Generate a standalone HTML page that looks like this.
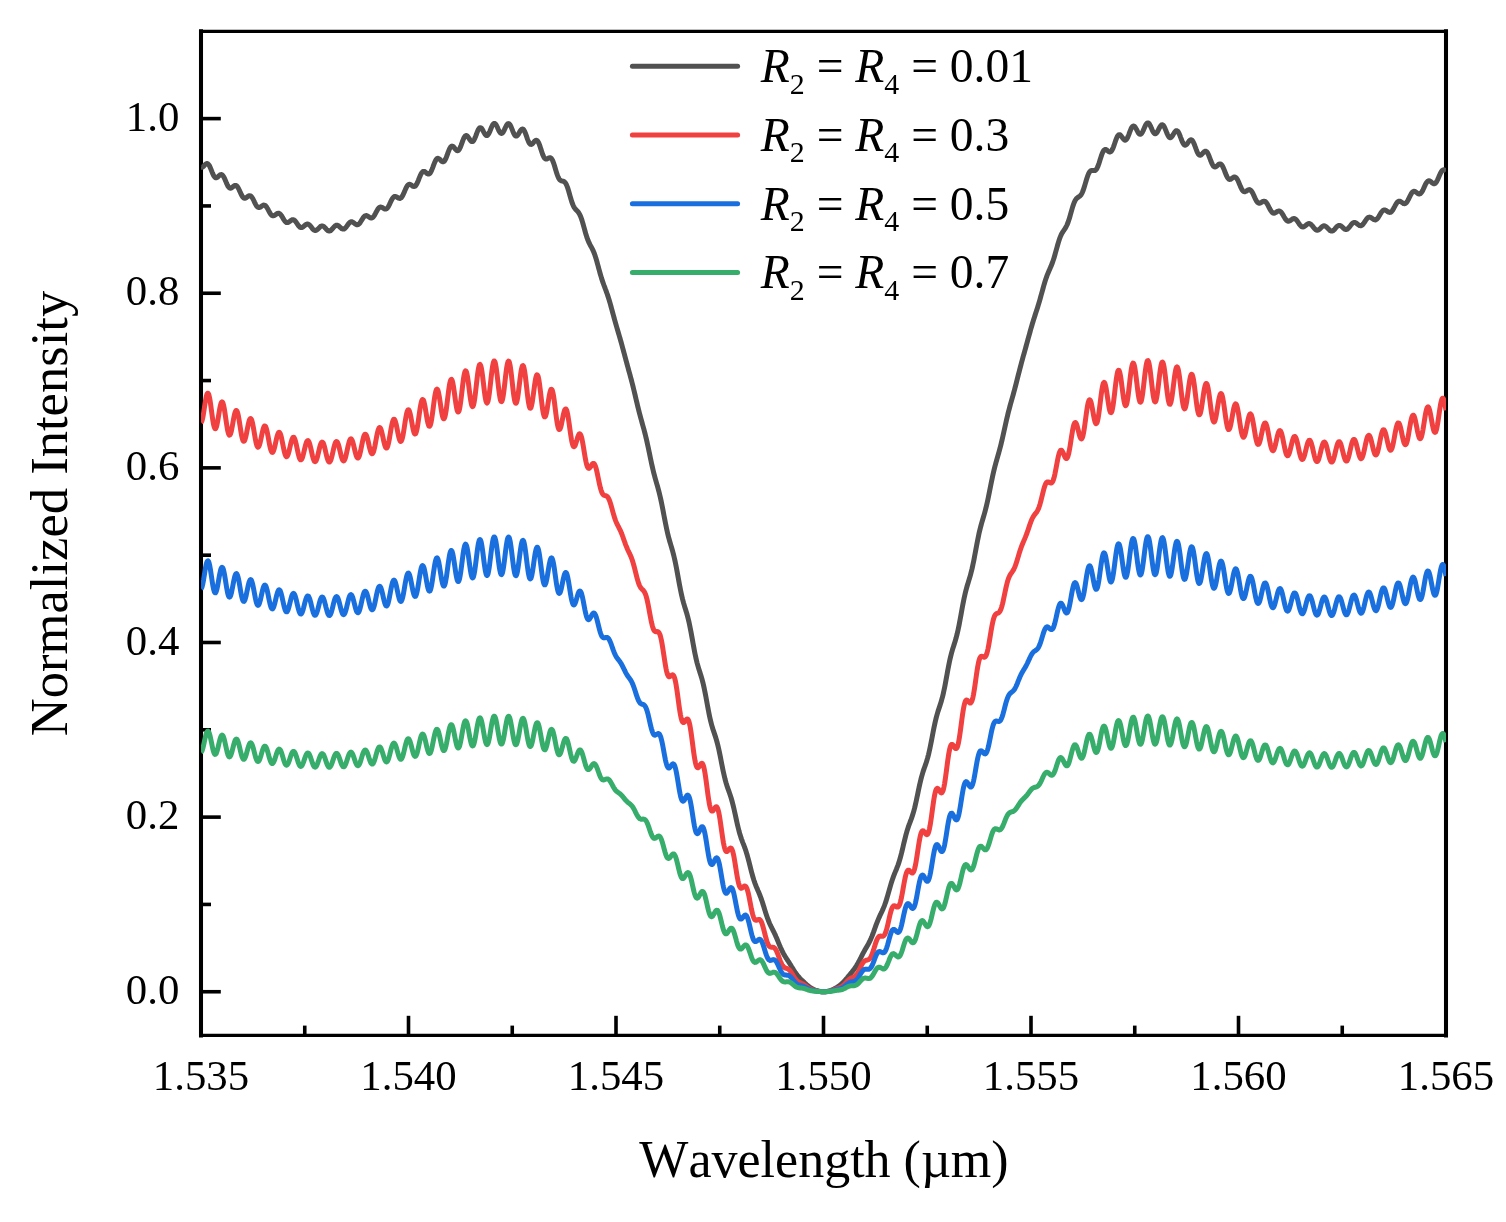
<!DOCTYPE html>
<html><head><meta charset="utf-8"><title>Normalized Intensity vs Wavelength</title>
<style>
html,body{margin:0;padding:0;background:#fff;}
body{width:1506px;height:1222px;overflow:hidden;}
svg{display:block;}
text{font-family:"Liberation Serif","Times New Roman",serif;fill:#000;font-kerning:none;}
</style></head><body>
<svg width="1506" height="1222" viewBox="0 0 1506 1222">
<rect width="1506" height="1222" fill="#fff"/>
<defs><clipPath id="cp"><rect x="201.0" y="31.3" width="1245.0" height="1004.1000000000001"/></clipPath></defs>
<g stroke="#000" stroke-width="3.6">
<line x1="201.00" y1="1035.4" x2="201.00" y2="1015.8"/>
<line x1="408.50" y1="1035.4" x2="408.50" y2="1015.8"/>
<line x1="616.00" y1="1035.4" x2="616.00" y2="1015.8"/>
<line x1="823.50" y1="1035.4" x2="823.50" y2="1015.8"/>
<line x1="1031.00" y1="1035.4" x2="1031.00" y2="1015.8"/>
<line x1="1238.50" y1="1035.4" x2="1238.50" y2="1015.8"/>
<line x1="1446.00" y1="1035.4" x2="1446.00" y2="1015.8"/>
<line x1="304.75" y1="1035.4" x2="304.75" y2="1025.6"/>
<line x1="512.25" y1="1035.4" x2="512.25" y2="1025.6"/>
<line x1="719.75" y1="1035.4" x2="719.75" y2="1025.6"/>
<line x1="927.25" y1="1035.4" x2="927.25" y2="1025.6"/>
<line x1="1134.75" y1="1035.4" x2="1134.75" y2="1025.6"/>
<line x1="1342.25" y1="1035.4" x2="1342.25" y2="1025.6"/>
</g>
<g stroke="#000" stroke-width="3.6">
<line x1="201.0" y1="991.74" x2="220.8" y2="991.74"/>
<line x1="201.0" y1="817.12" x2="220.8" y2="817.12"/>
<line x1="201.0" y1="642.49" x2="220.8" y2="642.49"/>
<line x1="201.0" y1="467.87" x2="220.8" y2="467.87"/>
<line x1="201.0" y1="293.24" x2="220.8" y2="293.24"/>
<line x1="201.0" y1="118.61" x2="220.8" y2="118.61"/>
<line x1="201.0" y1="904.43" x2="211.0" y2="904.43"/>
<line x1="201.0" y1="729.80" x2="211.0" y2="729.80"/>
<line x1="201.0" y1="555.18" x2="211.0" y2="555.18"/>
<line x1="201.0" y1="380.55" x2="211.0" y2="380.55"/>
<line x1="201.0" y1="205.93" x2="211.0" y2="205.93"/>
</g>
<g stroke="#000" stroke-linecap="square">
<line x1="201.0" y1="31.3" x2="201.0" y2="1035.4" stroke-width="4.05"/>
<line x1="1446.0" y1="31.3" x2="1446.0" y2="1035.4" stroke-width="4.05"/>
<line x1="201.0" y1="31.3" x2="1446.0" y2="31.3" stroke-width="3.2"/>
<line x1="201.0" y1="1035.4" x2="1446.0" y2="1035.4" stroke-width="3.2"/>
</g>
<g clip-path="url(#cp)">
<path d="M201.0,167.1 201.5,167.3 202.0,167.3 202.5,167.1 203.0,166.8 203.5,166.4 204.0,165.8 204.5,165.3 205.0,164.8 205.5,164.3 206.0,163.9 206.5,163.6 207.0,163.5 207.5,163.6 208.0,163.9 208.5,164.4 209.0,165.1 209.5,165.9 210.0,167.0 210.5,168.1 211.0,169.3 211.5,170.6 212.0,171.9 212.5,173.1 213.0,174.2 213.5,175.3 214.0,176.1 214.5,176.8 215.0,177.3 215.5,177.7 216.0,177.8 216.5,177.7 217.0,177.5 217.5,177.2 218.0,176.8 218.5,176.3 219.0,175.8 219.5,175.4 220.0,175.0 220.5,174.7 221.0,174.6 221.5,174.6 222.0,174.8 222.5,175.2 223.0,175.7 223.5,176.5 224.0,177.4 224.5,178.4 225.0,179.5 225.5,180.7 226.0,181.9 226.5,183.1 227.0,184.2 227.5,185.3 228.0,186.2 228.5,186.9 229.0,187.5 229.5,187.9 230.0,188.1 230.5,188.2 231.0,188.1 231.5,187.9 232.0,187.5 232.5,187.1 233.0,186.7 233.5,186.3 234.0,185.9 234.5,185.6 235.0,185.4 235.5,185.4 236.0,185.5 236.5,185.8 237.0,186.2 237.5,186.8 238.0,187.6 238.5,188.5 239.0,189.5 239.5,190.6 240.0,191.7 240.5,192.9 241.0,193.9 241.5,195.0 242.0,195.9 242.5,196.7 243.0,197.3 243.5,197.8 244.0,198.1 244.5,198.2 245.0,198.2 245.5,198.1 246.0,197.8 246.5,197.5 247.0,197.1 247.5,196.7 248.0,196.3 248.5,196.0 249.0,195.8 249.5,195.7 250.0,195.7 250.5,195.9 251.0,196.2 251.5,196.7 252.0,197.4 252.5,198.1 253.0,199.0 253.5,200.0 254.0,201.0 254.5,202.1 255.0,203.1 255.5,204.1 256.0,205.0 256.5,205.8 257.0,206.4 257.5,206.9 258.0,207.3 258.5,207.5 259.0,207.6 259.5,207.5 260.0,207.3 260.5,207.0 261.0,206.7 261.5,206.3 262.0,205.9 262.5,205.6 263.0,205.3 263.5,205.1 264.0,205.1 264.5,205.2 265.0,205.4 265.5,205.7 266.0,206.3 266.5,206.9 267.0,207.7 267.5,208.5 268.0,209.4 268.5,210.4 269.0,211.3 269.5,212.2 270.0,213.1 270.5,213.9 271.0,214.5 271.5,215.1 272.0,215.5 272.5,215.7 273.0,215.8 273.5,215.8 274.0,215.6 274.5,215.4 275.0,215.1 275.5,214.7 276.0,214.3 276.5,214.0 277.0,213.6 277.5,213.4 278.0,213.2 278.5,213.2 279.0,213.3 279.5,213.6 280.0,213.9 280.5,214.4 281.0,215.0 281.5,215.8 282.0,216.5 282.5,217.4 283.0,218.2 283.5,219.1 284.0,219.9 284.5,220.6 285.0,221.3 285.5,221.8 286.0,222.2 286.5,222.5 287.0,222.6 287.5,222.6 288.0,222.5 288.5,222.3 289.0,221.9 289.5,221.6 290.0,221.2 290.5,220.8 291.0,220.4 291.5,220.1 292.0,219.8 292.5,219.7 293.0,219.7 293.5,219.8 294.0,220.0 294.5,220.3 295.0,220.8 295.5,221.4 296.0,222.0 296.5,222.7 297.0,223.5 297.5,224.2 298.0,225.0 298.5,225.7 299.0,226.3 299.5,226.8 300.0,227.2 300.5,227.4 301.0,227.6 301.5,227.6 302.0,227.5 302.5,227.3 303.0,226.9 303.5,226.6 304.0,226.1 304.5,225.7 305.0,225.2 305.5,224.8 306.0,224.5 306.5,224.2 307.0,224.0 307.5,224.0 308.0,224.1 308.5,224.3 309.0,224.6 309.5,225.0 310.0,225.5 310.5,226.1 311.0,226.7 311.5,227.4 312.0,228.0 312.5,228.7 313.0,229.2 313.5,229.7 314.0,230.1 314.5,230.3 315.0,230.5 315.5,230.5 316.0,230.4 316.5,230.1 317.0,229.8 317.5,229.4 318.0,228.9 318.5,228.4 319.0,227.9 319.5,227.4 320.0,226.9 320.5,226.5 321.0,226.2 321.5,226.0 322.0,225.9 322.5,226.0 323.0,226.1 323.5,226.4 324.0,226.7 324.5,227.2 325.0,227.7 325.5,228.3 326.0,228.8 326.5,229.4 327.0,229.9 327.5,230.3 328.0,230.7 328.5,230.9 329.0,231.0 329.5,231.0 330.0,230.9 330.5,230.7 331.0,230.3 331.5,229.8 332.0,229.3 332.5,228.7 333.0,228.1 333.5,227.5 334.0,226.9 334.5,226.4 335.0,225.9 335.5,225.6 336.0,225.3 336.5,225.2 337.0,225.2 337.5,225.3 338.0,225.5 338.5,225.8 339.0,226.2 339.5,226.7 340.0,227.2 340.5,227.6 341.0,228.1 341.5,228.5 342.0,228.8 342.5,229.0 343.0,229.1 343.5,229.1 344.0,229.0 344.5,228.7 345.0,228.3 345.5,227.8 346.0,227.3 346.5,226.6 347.0,225.9 347.5,225.2 348.0,224.5 348.5,223.8 349.0,223.2 349.5,222.7 350.0,222.3 350.5,222.0 351.0,221.8 351.5,221.7 352.0,221.8 352.5,222.0 353.0,222.2 353.5,222.6 354.0,223.0 354.5,223.4 355.0,223.8 355.5,224.1 356.0,224.4 356.5,224.7 357.0,224.8 357.5,224.8 358.0,224.6 358.5,224.3 359.0,223.9 359.5,223.4 360.0,222.8 360.5,222.0 361.0,221.2 361.5,220.4 362.0,219.6 362.5,218.8 363.0,218.0 363.5,217.3 364.0,216.7 364.5,216.2 365.0,215.9 365.5,215.7 366.0,215.6 366.5,215.6 367.0,215.8 367.5,216.0 368.0,216.3 368.5,216.7 369.0,217.0 369.5,217.4 370.0,217.7 370.5,217.9 371.0,218.0 371.5,218.0 372.0,217.9 372.5,217.6 373.0,217.2 373.5,216.6 374.0,216.0 374.5,215.2 375.0,214.3 375.5,213.4 376.0,212.4 376.5,211.5 377.0,210.6 377.5,209.7 378.0,208.9 378.5,208.3 379.0,207.8 379.5,207.4 380.0,207.1 380.5,207.0 381.0,207.1 381.5,207.2 382.0,207.4 382.5,207.7 383.0,208.0 383.5,208.4 384.0,208.7 384.5,208.9 385.0,209.1 385.5,209.1 386.0,209.0 386.5,208.8 387.0,208.4 387.5,207.8 388.0,207.1 388.5,206.3 389.0,205.4 389.5,204.4 390.0,203.3 390.5,202.2 391.0,201.2 391.5,200.2 392.0,199.2 392.5,198.4 393.0,197.7 393.5,197.2 394.0,196.8 394.5,196.5 395.0,196.4 395.5,196.5 396.0,196.6 396.5,196.9 397.0,197.2 397.5,197.5 398.0,197.8 398.5,198.1 399.0,198.3 399.5,198.4 400.0,198.4 400.5,198.2 401.0,197.9 401.5,197.4 402.0,196.7 402.5,195.9 403.0,194.9 403.5,193.9 404.0,192.7 404.5,191.6 405.0,190.4 405.5,189.2 406.0,188.1 406.5,187.1 407.0,186.2 407.5,185.5 408.0,185.0 408.5,184.6 409.0,184.4 409.5,184.3 410.0,184.4 410.5,184.6 411.0,184.9 411.5,185.2 412.0,185.6 412.5,186.0 413.0,186.3 413.5,186.4 414.0,186.5 414.5,186.4 415.0,186.2 415.5,185.8 416.0,185.2 416.5,184.4 417.0,183.5 417.5,182.4 418.0,181.2 418.5,180.0 419.0,178.7 419.5,177.4 420.0,176.2 420.5,175.0 421.0,174.0 421.5,173.1 422.0,172.4 422.5,171.9 423.0,171.5 423.5,171.4 424.0,171.4 424.5,171.5 425.0,171.8 425.5,172.2 426.0,172.6 426.5,173.1 427.0,173.5 427.5,173.8 428.0,174.0 428.5,174.1 429.0,173.9 429.5,173.7 430.0,173.2 430.5,172.5 431.0,171.6 431.5,170.6 432.0,169.4 432.5,168.1 433.0,166.8 433.5,165.4 434.0,164.1 434.5,162.8 435.0,161.7 435.5,160.6 436.0,159.8 436.5,159.1 437.0,158.6 437.5,158.4 438.0,158.3 438.5,158.5 439.0,158.7 439.5,159.1 440.0,159.6 440.5,160.1 441.0,160.7 441.5,161.1 442.0,161.5 442.5,161.7 443.0,161.8 443.5,161.7 444.0,161.4 444.5,160.9 445.0,160.1 445.5,159.2 446.0,158.1 446.5,156.8 447.0,155.5 447.5,154.1 448.0,152.7 448.5,151.4 449.0,150.1 449.5,148.9 450.0,148.0 450.5,147.2 451.0,146.6 451.5,146.2 452.0,146.1 452.5,146.2 453.0,146.4 453.5,146.8 454.0,147.4 454.5,148.0 455.0,148.7 455.5,149.3 456.0,149.8 456.5,150.3 457.0,150.6 457.5,150.7 458.0,150.6 458.5,150.3 459.0,149.7 459.5,149.0 460.0,148.0 460.5,146.9 461.0,145.6 461.5,144.2 462.0,142.8 462.5,141.5 463.0,140.1 463.5,138.9 464.0,137.8 464.5,136.9 465.0,136.2 465.5,135.8 466.0,135.6 466.5,135.6 467.0,135.8 467.5,136.3 468.0,136.9 468.5,137.6 469.0,138.3 469.5,139.1 470.0,139.9 470.5,140.6 471.0,141.1 471.5,141.5 472.0,141.6 472.5,141.6 473.0,141.3 473.5,140.7 474.0,140.0 474.5,139.0 475.0,137.9 475.5,136.7 476.0,135.3 476.5,134.0 477.0,132.6 477.5,131.4 478.0,130.2 478.5,129.3 479.0,128.5 479.5,128.0 480.0,127.7 480.5,127.7 481.0,127.9 481.5,128.3 482.0,129.0 482.5,129.7 483.0,130.6 483.5,131.6 484.0,132.5 484.5,133.4 485.0,134.2 485.5,134.9 486.0,135.3 486.5,135.6 487.0,135.6 487.5,135.3 488.0,134.8 488.5,134.1 489.0,133.2 489.5,132.2 490.0,131.0 490.5,129.7 491.0,128.5 491.5,127.3 492.0,126.1 492.5,125.2 493.0,124.4 493.5,123.8 494.0,123.5 494.5,123.4 495.0,123.6 495.5,124.0 496.0,124.6 496.5,125.5 497.0,126.5 497.5,127.5 498.0,128.7 498.5,129.8 499.0,130.8 499.5,131.7 500.0,132.5 500.5,133.0 501.0,133.4 501.5,133.5 502.0,133.3 502.5,132.9 503.0,132.3 503.5,131.5 504.0,130.6 504.5,129.5 505.0,128.4 505.5,127.3 506.0,126.3 506.5,125.3 507.0,124.6 507.5,124.0 508.0,123.7 508.5,123.6 509.0,123.7 509.5,124.1 510.0,124.8 510.5,125.7 511.0,126.7 511.5,127.9 512.0,129.1 512.5,130.4 513.0,131.7 513.5,132.9 514.0,133.9 514.5,134.8 515.0,135.5 515.5,135.9 516.0,136.1 516.5,136.1 517.0,135.8 517.5,135.4 518.0,134.7 518.5,134.0 519.0,133.1 519.5,132.2 520.0,131.3 520.5,130.5 521.0,129.9 521.5,129.4 522.0,129.1 522.5,129.0 523.0,129.1 523.5,129.6 524.0,130.2 524.5,131.1 525.0,132.2 525.5,133.4 526.0,134.8 526.5,136.2 527.0,137.7 527.5,139.1 528.0,140.4 528.5,141.6 529.0,142.6 529.5,143.4 530.0,144.0 530.5,144.3 531.0,144.4 531.5,144.4 532.0,144.1 532.5,143.7 533.0,143.1 533.5,142.5 534.0,141.9 534.5,141.3 535.0,140.8 535.5,140.5 536.0,140.3 536.5,140.3 537.0,140.5 537.5,140.9 538.0,141.6 538.5,142.5 539.0,143.6 539.5,144.9 540.0,146.3 540.5,147.9 541.0,149.4 541.5,151.0 542.0,152.5 542.5,154.0 543.0,155.3 543.5,156.4 544.0,157.3 544.5,158.1 545.0,158.6 545.5,158.9 546.0,159.1 546.5,159.1 547.0,158.9 547.5,158.7 548.0,158.4 548.5,158.1 549.0,157.9 549.5,157.7 550.0,157.7 550.5,157.8 551.0,158.1 551.5,158.7 552.0,159.4 552.5,160.3 553.0,161.5 553.5,162.8 554.0,164.3 554.5,165.8 555.0,167.5 555.5,169.2 556.0,170.9 556.5,172.5 557.0,174.0 557.5,175.4 558.0,176.7 558.5,177.8 559.0,178.7 559.5,179.5 560.0,180.0 560.5,180.4 561.0,180.7 561.5,180.9 562.0,181.0 562.5,181.1 563.0,181.2 563.5,181.3 564.0,181.5 564.5,181.9 565.0,182.4 565.5,183.0 566.0,183.9 566.5,184.9 567.0,186.1 567.5,187.4 568.0,188.9 568.5,190.5 569.0,192.2 569.5,194.0 570.0,195.8 570.5,197.5 571.0,199.2 571.5,200.9 572.0,202.4 572.5,203.8 573.0,205.0 573.5,206.1 574.0,207.1 574.5,207.9 575.0,208.6 575.5,209.2 576.0,209.8 576.5,210.3 577.0,210.8 577.5,211.3 578.0,211.8 578.5,212.5 579.0,213.2 579.5,214.1 580.0,215.1 580.5,216.2 581.0,217.5 581.5,218.9 582.0,220.4 582.5,222.1 583.0,223.8 583.5,225.6 584.0,227.4 584.5,229.2 585.0,231.0 585.5,232.8 586.0,234.5 586.5,236.1 587.0,237.6 587.5,239.0 588.0,240.3 588.5,241.5 589.0,242.7 589.5,243.7 590.0,244.7 590.5,245.6 591.0,246.5 591.5,247.4 592.0,248.3 592.5,249.3 593.0,250.4 593.5,251.5 594.0,252.7 594.5,254.0 595.0,255.4 595.5,257.0 596.0,258.6 596.5,260.2 597.0,262.0 597.5,263.8 598.0,265.6 598.5,267.5 599.0,269.3 599.5,271.2 600.0,273.0 600.5,274.7 601.0,276.4 601.5,278.1 602.0,279.6 602.5,281.1 603.0,282.6 603.5,284.0 604.0,285.4 604.5,286.7 605.0,288.0 605.5,289.4 606.0,290.7 606.5,292.1 607.0,293.5 607.5,294.9 608.0,296.4 608.5,298.0 609.0,299.6 609.5,301.2 610.0,302.9 610.5,304.7 611.0,306.5 611.5,308.3 612.0,310.1 612.5,312.0 613.0,313.9 613.5,315.7 614.0,317.5 614.5,319.3 615.0,321.1 615.5,322.9 616.0,324.7 616.5,326.4 617.0,328.1 617.5,329.8 618.0,331.5 618.5,333.2 619.0,334.9 619.5,336.6 620.0,338.3 620.5,340.1 621.0,341.8 621.5,343.6 622.0,345.4 622.5,347.3 623.0,349.1 623.5,351.0 624.0,352.8 624.5,354.7 625.0,356.6 625.5,358.4 626.0,360.3 626.5,362.2 627.0,364.0 627.5,365.8 628.0,367.6 628.5,369.5 629.0,371.3 629.5,373.1 630.0,374.9 630.5,376.8 631.0,378.6 631.5,380.5 632.0,382.5 632.5,384.4 633.0,386.4 633.5,388.5 634.0,390.5 634.5,392.6 635.0,394.7 635.5,396.8 636.0,399.0 636.5,401.1 637.0,403.2 637.5,405.3 638.0,407.4 638.5,409.4 639.0,411.4 639.5,413.3 640.0,415.2 640.5,417.1 641.0,418.9 641.5,420.7 642.0,422.5 642.5,424.3 643.0,426.1 643.5,427.9 644.0,429.7 644.5,431.6 645.0,433.5 645.5,435.5 646.0,437.6 646.5,439.7 647.0,441.9 647.5,444.2 648.0,446.5 648.5,448.8 649.0,451.2 649.5,453.6 650.0,456.1 650.5,458.5 651.0,460.8 651.5,463.2 652.0,465.4 652.5,467.6 653.0,469.8 653.5,471.8 654.0,473.8 654.5,475.7 655.0,477.6 655.5,479.4 656.0,481.1 656.5,482.9 657.0,484.6 657.5,486.3 658.0,488.1 658.5,490.0 659.0,491.9 659.5,493.9 660.0,496.0 660.5,498.1 661.0,500.4 661.5,502.8 662.0,505.2 662.5,507.8 663.0,510.3 663.5,513.0 664.0,515.6 664.5,518.2 665.0,520.8 665.5,523.4 666.0,525.8 666.5,528.2 667.0,530.5 667.5,532.7 668.0,534.8 668.5,536.8 669.0,538.7 669.5,540.5 670.0,542.2 670.5,543.9 671.0,545.6 671.5,547.3 672.0,549.0 672.5,550.7 673.0,552.6 673.5,554.5 674.0,556.5 674.5,558.7 675.0,560.9 675.5,563.3 676.0,565.8 676.5,568.3 677.0,571.0 677.5,573.7 678.0,576.5 678.5,579.2 679.0,582.0 679.5,584.7 680.0,587.3 680.5,589.9 681.0,592.3 681.5,594.6 682.0,596.8 682.5,598.9 683.0,600.8 683.5,602.7 684.0,604.4 684.5,606.1 685.0,607.7 685.5,609.3 686.0,611.0 686.5,612.6 687.0,614.3 687.5,616.1 688.0,618.0 688.5,620.1 689.0,622.2 689.5,624.5 690.0,626.9 690.5,629.4 691.0,632.0 691.5,634.7 692.0,637.5 692.5,640.3 693.0,643.1 693.5,645.8 694.0,648.5 694.5,651.2 695.0,653.7 695.5,656.1 696.0,658.4 696.5,660.5 697.0,662.6 697.5,664.4 698.0,666.2 698.5,667.9 699.0,669.5 699.5,671.1 700.0,672.6 700.5,674.2 701.0,675.8 701.5,677.4 702.0,679.2 702.5,681.1 703.0,683.0 703.5,685.1 704.0,687.4 704.5,689.7 705.0,692.2 705.5,694.8 706.0,697.4 706.5,700.1 707.0,702.9 707.5,705.6 708.0,708.3 708.5,710.9 709.0,713.4 709.5,715.9 710.0,718.2 710.5,720.4 711.0,722.4 711.5,724.3 712.0,726.1 712.5,727.8 713.0,729.4 713.5,730.9 714.0,732.4 714.5,733.9 715.0,735.4 715.5,736.9 716.0,738.5 716.5,740.2 717.0,742.0 717.5,743.9 718.0,745.9 718.5,748.0 719.0,750.3 719.5,752.6 720.0,755.0 720.5,757.5 721.0,760.1 721.5,762.7 722.0,765.2 722.5,767.7 723.0,770.2 723.5,772.5 724.0,774.8 724.5,776.9 725.0,779.0 725.5,780.9 726.0,782.7 726.5,784.3 727.0,785.9 727.5,787.4 728.0,788.8 728.5,790.2 729.0,791.6 729.5,793.0 730.0,794.5 730.5,796.0 731.0,797.5 731.5,799.2 732.0,801.0 732.5,802.8 733.0,804.8 733.5,806.9 734.0,809.0 734.5,811.2 735.0,813.5 735.5,815.8 736.0,818.1 736.5,820.4 737.0,822.7 737.5,824.9 738.0,827.0 738.5,829.0 739.0,831.0 739.5,832.8 740.0,834.5 740.5,836.1 741.0,837.6 741.5,839.1 742.0,840.4 742.5,841.8 743.0,843.1 743.5,844.3 744.0,845.6 744.5,847.0 745.0,848.3 745.5,849.8 746.0,851.3 746.5,852.9 747.0,854.5 747.5,856.3 748.0,858.1 748.5,860.0 749.0,861.9 749.5,863.9 750.0,865.9 750.5,867.9 751.0,869.8 751.5,871.8 752.0,873.7 752.5,875.5 753.0,877.2 753.5,878.9 754.0,880.5 754.5,881.9 755.0,883.4 755.5,884.7 756.0,886.0 756.5,887.2 757.0,888.4 757.5,889.5 758.0,890.7 758.5,891.8 759.0,893.0 759.5,894.2 760.0,895.5 760.5,896.8 761.0,898.1 761.5,899.6 762.0,901.0 762.5,902.6 763.0,904.1 763.5,905.7 764.0,907.3 764.5,908.9 765.0,910.6 765.5,912.2 766.0,913.7 766.5,915.2 767.0,916.7 767.5,918.1 768.0,919.5 768.5,920.8 769.0,922.0 769.5,923.2 770.0,924.3 770.5,925.3 771.0,926.4 771.5,927.4 772.0,928.4 772.5,929.3 773.0,930.3 773.5,931.3 774.0,932.3 774.5,933.4 775.0,934.4 775.5,935.5 776.0,936.7 776.5,937.8 777.0,939.0 777.5,940.2 778.0,941.4 778.5,942.7 779.0,943.9 779.5,945.1 780.0,946.3 780.5,947.5 781.0,948.6 781.5,949.7 782.0,950.7 782.5,951.8 783.0,952.7 783.5,953.7 784.0,954.6 784.5,955.4 785.0,956.2 785.5,957.0 786.0,957.8 786.5,958.6 787.0,959.3 787.5,960.1 788.0,960.9 788.5,961.6 789.0,962.4 789.5,963.2 790.0,964.0 790.5,964.8 791.0,965.6 791.5,966.5 792.0,967.3 792.5,968.1 793.0,968.9 793.5,969.7 794.0,970.5 794.5,971.3 795.0,972.1 795.5,972.8 796.0,973.5 796.5,974.2 797.0,974.9 797.5,975.5 798.0,976.1 798.5,976.7 799.0,977.3 799.5,977.8 800.0,978.4 800.5,978.9 801.0,979.4 801.5,979.9 802.0,980.4 802.5,980.8 803.0,981.3 803.5,981.8 804.0,982.3 804.5,982.7 805.0,983.2 805.5,983.7 806.0,984.1 806.5,984.6 807.0,985.0 807.5,985.4 808.0,985.8 808.5,986.2 809.0,986.6 809.5,987.0 810.0,987.3 810.5,987.7 811.0,988.0 811.5,988.3 812.0,988.6 812.5,988.8 813.0,989.1 813.5,989.3 814.0,989.6 814.5,989.8 815.0,990.0 815.5,990.2 816.0,990.4 816.5,990.5 817.0,990.7 817.5,990.8 818.0,991.0 818.5,991.1 819.0,991.2 819.5,991.3 820.0,991.4 820.5,991.5 821.0,991.6 821.5,991.6 822.0,991.7 822.5,991.7 823.0,991.7 823.5,991.7 824.0,991.7 824.5,991.7 825.0,991.7 825.5,991.6 826.0,991.6 826.5,991.5 827.0,991.4 827.5,991.4 828.0,991.3 828.5,991.1 829.0,991.0 829.5,990.9 830.0,990.7 830.5,990.5 831.0,990.4 831.5,990.2 832.0,989.9 832.5,989.7 833.0,989.5 833.5,989.2 834.0,989.0 834.5,988.7 835.0,988.4 835.5,988.2 836.0,987.9 836.5,987.6 837.0,987.3 837.5,986.9 838.0,986.6 838.5,986.3 839.0,985.9 839.5,985.6 840.0,985.2 840.5,984.8 841.0,984.4 841.5,983.9 842.0,983.5 842.5,983.0 843.0,982.5 843.5,982.0 844.0,981.5 844.5,981.0 845.0,980.4 845.5,979.8 846.0,979.3 846.5,978.7 847.0,978.1 847.5,977.5 848.0,976.8 848.5,976.2 849.0,975.6 849.5,975.0 850.0,974.4 850.5,973.8 851.0,973.2 851.5,972.6 852.0,972.0 852.5,971.3 853.0,970.7 853.5,970.1 854.0,969.4 854.5,968.7 855.0,968.0 855.5,967.3 856.0,966.5 856.5,965.7 857.0,964.9 857.5,964.0 858.0,963.1 858.5,962.2 859.0,961.3 859.5,960.3 860.0,959.3 860.5,958.3 861.0,957.4 861.5,956.4 862.0,955.4 862.5,954.4 863.0,953.4 863.5,952.5 864.0,951.6 864.5,950.7 865.0,949.8 865.5,948.9 866.0,948.1 866.5,947.2 867.0,946.4 867.5,945.5 868.0,944.6 868.5,943.7 869.0,942.7 869.5,941.8 870.0,940.7 870.5,939.6 871.0,938.5 871.5,937.3 872.0,936.1 872.5,934.8 873.0,933.5 873.5,932.2 874.0,930.8 874.5,929.4 875.0,928.0 875.5,926.6 876.0,925.2 876.5,923.9 877.0,922.6 877.5,921.3 878.0,920.1 878.5,918.9 879.0,917.7 879.5,916.6 880.0,915.5 880.5,914.4 881.0,913.4 881.5,912.3 882.0,911.3 882.5,910.2 883.0,909.1 883.5,907.9 884.0,906.7 884.5,905.4 885.0,904.0 885.5,902.6 886.0,901.1 886.5,899.5 887.0,897.8 887.5,896.1 888.0,894.4 888.5,892.6 889.0,890.9 889.5,889.1 890.0,887.3 890.5,885.6 891.0,883.9 891.5,882.3 892.0,880.7 892.5,879.2 893.0,877.8 893.5,876.4 894.0,875.1 894.5,873.8 895.0,872.6 895.5,871.4 896.0,870.2 896.5,869.0 897.0,867.7 897.5,866.4 898.0,865.1 898.5,863.6 899.0,862.1 899.5,860.5 900.0,858.8 900.5,857.0 901.0,855.1 901.5,853.2 902.0,851.1 902.5,849.1 903.0,847.0 903.5,844.8 904.0,842.7 904.5,840.6 905.0,838.6 905.5,836.6 906.0,834.7 906.5,832.9 907.0,831.1 907.5,829.5 908.0,827.9 908.5,826.4 909.0,825.0 909.5,823.7 910.0,822.3 910.5,821.0 911.0,819.7 911.5,818.3 912.0,816.9 912.5,815.4 913.0,813.8 913.5,812.1 914.0,810.3 914.5,808.4 915.0,806.3 915.5,804.2 916.0,802.0 916.5,799.7 917.0,797.3 917.5,794.9 918.0,792.5 918.5,790.1 919.0,787.7 919.5,785.4 920.0,783.2 920.5,781.1 921.0,779.0 921.5,777.1 922.0,775.3 922.5,773.6 923.0,771.9 923.5,770.4 924.0,768.9 924.5,767.5 925.0,766.1 925.5,764.7 926.0,763.2 926.5,761.7 927.0,760.1 927.5,758.4 928.0,756.5 928.5,754.6 929.0,752.5 929.5,750.3 930.0,748.0 930.5,745.6 931.0,743.1 931.5,740.5 932.0,737.9 932.5,735.3 933.0,732.6 933.5,730.1 934.0,727.6 934.5,725.2 935.0,722.9 935.5,720.7 936.0,718.6 936.5,716.6 937.0,714.8 937.5,713.1 938.0,711.4 938.5,709.9 939.0,708.4 939.5,706.9 940.0,705.4 940.5,703.8 941.0,702.2 941.5,700.5 942.0,698.7 942.5,696.8 943.0,694.8 943.5,692.6 944.0,690.3 944.5,687.9 945.0,685.4 945.5,682.7 946.0,680.0 946.5,677.3 947.0,674.6 947.5,671.8 948.0,669.1 948.5,666.5 949.0,664.0 949.5,661.6 950.0,659.3 950.5,657.1 951.0,655.1 951.5,653.2 952.0,651.4 952.5,649.6 953.0,648.0 953.5,646.4 954.0,644.9 954.5,643.3 955.0,641.7 955.5,640.0 956.0,638.3 956.5,636.4 957.0,634.5 957.5,632.4 958.0,630.2 958.5,627.8 959.0,625.4 959.5,622.8 960.0,620.1 960.5,617.4 961.0,614.7 961.5,611.9 962.0,609.1 962.5,606.4 963.0,603.8 963.5,601.2 964.0,598.8 964.5,596.5 965.0,594.2 965.5,592.1 966.0,590.2 966.5,588.3 967.0,586.5 967.5,584.8 968.0,583.2 968.5,581.6 969.0,579.9 969.5,578.3 970.0,576.6 970.5,574.8 971.0,572.9 971.5,570.9 972.0,568.9 972.5,566.6 973.0,564.3 973.5,561.9 974.0,559.4 974.5,556.8 975.0,554.1 975.5,551.5 976.0,548.8 976.5,546.1 977.0,543.5 977.5,540.9 978.0,538.4 978.5,536.0 979.0,533.6 979.5,531.4 980.0,529.4 980.5,527.4 981.0,525.5 981.5,523.7 982.0,521.9 982.5,520.2 983.0,518.5 983.5,516.8 984.0,515.1 984.5,513.4 985.0,511.6 985.5,509.7 986.0,507.7 986.5,505.7 987.0,503.5 987.5,501.3 988.0,499.0 988.5,496.6 989.0,494.1 989.5,491.6 990.0,489.1 990.5,486.6 991.0,484.1 991.5,481.6 992.0,479.2 992.5,476.8 993.0,474.5 993.5,472.3 994.0,470.2 994.5,468.1 995.0,466.2 995.5,464.3 996.0,462.4 996.5,460.7 997.0,458.9 997.5,457.2 998.0,455.4 998.5,453.7 999.0,451.9 999.5,450.1 1000.0,448.2 1000.5,446.3 1001.0,444.3 1001.5,442.2 1002.0,440.1 1002.5,438.0 1003.0,435.8 1003.5,433.5 1004.0,431.3 1004.5,429.0 1005.0,426.7 1005.5,424.5 1006.0,422.2 1006.5,420.0 1007.0,417.9 1007.5,415.8 1008.0,413.7 1008.5,411.7 1009.0,409.8 1009.5,407.9 1010.0,406.0 1010.5,404.2 1011.0,402.4 1011.5,400.6 1012.0,398.8 1012.5,397.1 1013.0,395.3 1013.5,393.5 1014.0,391.6 1014.5,389.8 1015.0,387.9 1015.5,386.0 1016.0,384.1 1016.5,382.1 1017.0,380.2 1017.5,378.2 1018.0,376.2 1018.5,374.2 1019.0,372.3 1019.5,370.3 1020.0,368.4 1020.5,366.5 1021.0,364.6 1021.5,362.7 1022.0,360.9 1022.5,359.1 1023.0,357.2 1023.5,355.4 1024.0,353.7 1024.5,351.9 1025.0,350.1 1025.5,348.3 1026.0,346.5 1026.5,344.7 1027.0,342.9 1027.5,341.1 1028.0,339.2 1028.5,337.4 1029.0,335.6 1029.5,333.8 1030.0,332.0 1030.5,330.2 1031.0,328.4 1031.5,326.7 1032.0,325.0 1032.5,323.3 1033.0,321.7 1033.5,320.1 1034.0,318.5 1034.5,316.9 1035.0,315.4 1035.5,313.8 1036.0,312.3 1036.5,310.8 1037.0,309.2 1037.5,307.7 1038.0,306.1 1038.5,304.4 1039.0,302.8 1039.5,301.1 1040.0,299.3 1040.5,297.5 1041.0,295.7 1041.5,293.9 1042.0,292.1 1042.5,290.3 1043.0,288.5 1043.5,286.7 1044.0,284.9 1044.5,283.2 1045.0,281.6 1045.5,280.0 1046.0,278.5 1046.5,277.1 1047.0,275.7 1047.5,274.4 1048.0,273.2 1048.5,272.0 1049.0,270.9 1049.5,269.7 1050.0,268.6 1050.5,267.4 1051.0,266.3 1051.5,265.0 1052.0,263.8 1052.5,262.4 1053.0,261.0 1053.5,259.5 1054.0,257.9 1054.5,256.2 1055.0,254.5 1055.5,252.7 1056.0,250.9 1056.5,249.1 1057.0,247.3 1057.5,245.5 1058.0,243.8 1058.5,242.1 1059.0,240.5 1059.5,239.0 1060.0,237.6 1060.5,236.4 1061.0,235.2 1061.5,234.2 1062.0,233.2 1062.5,232.4 1063.0,231.6 1063.5,230.9 1064.0,230.1 1064.5,229.4 1065.0,228.7 1065.5,227.9 1066.0,227.0 1066.5,226.0 1067.0,225.0 1067.5,223.8 1068.0,222.5 1068.5,221.0 1069.0,219.5 1069.5,217.9 1070.0,216.2 1070.5,214.4 1071.0,212.6 1071.5,210.8 1072.0,209.1 1072.5,207.4 1073.0,205.8 1073.5,204.4 1074.0,203.0 1074.5,201.8 1075.0,200.8 1075.5,199.9 1076.0,199.2 1076.5,198.6 1077.0,198.1 1077.5,197.7 1078.0,197.3 1078.5,197.0 1079.0,196.7 1079.5,196.4 1080.0,196.0 1080.5,195.4 1081.0,194.8 1081.5,194.0 1082.0,193.1 1082.5,192.0 1083.0,190.8 1083.5,189.4 1084.0,187.9 1084.5,186.3 1085.0,184.6 1085.5,182.9 1086.0,181.2 1086.5,179.6 1087.0,178.0 1087.5,176.5 1088.0,175.1 1088.5,173.9 1089.0,172.9 1089.5,172.0 1090.0,171.4 1090.5,170.9 1091.0,170.6 1091.5,170.5 1092.0,170.4 1092.5,170.4 1093.0,170.5 1093.5,170.6 1094.0,170.6 1094.5,170.6 1095.0,170.5 1095.5,170.2 1096.0,169.7 1096.5,169.1 1097.0,168.3 1097.5,167.2 1098.0,166.1 1098.5,164.7 1099.0,163.3 1099.5,161.7 1100.0,160.1 1100.5,158.5 1101.0,156.9 1101.5,155.4 1102.0,154.0 1102.5,152.8 1103.0,151.7 1103.5,150.8 1104.0,150.2 1104.5,149.7 1105.0,149.5 1105.5,149.4 1106.0,149.6 1106.5,149.8 1107.0,150.2 1107.5,150.6 1108.0,151.1 1108.5,151.4 1109.0,151.8 1109.5,152.0 1110.0,152.0 1110.5,151.9 1111.0,151.5 1111.5,151.0 1112.0,150.2 1112.5,149.2 1113.0,148.1 1113.5,146.8 1114.0,145.4 1114.5,144.0 1115.0,142.5 1115.5,141.0 1116.0,139.6 1116.5,138.3 1117.0,137.2 1117.5,136.2 1118.0,135.5 1118.5,135.0 1119.0,134.7 1119.5,134.7 1120.0,134.8 1120.5,135.2 1121.0,135.7 1121.5,136.4 1122.0,137.1 1122.5,137.8 1123.0,138.5 1123.5,139.1 1124.0,139.6 1124.5,140.0 1125.0,140.2 1125.5,140.1 1126.0,139.8 1126.5,139.3 1127.0,138.6 1127.5,137.7 1128.0,136.6 1128.5,135.4 1129.0,134.1 1129.5,132.7 1130.0,131.4 1130.5,130.1 1131.0,128.9 1131.5,127.9 1132.0,127.1 1132.5,126.5 1133.0,126.1 1133.5,126.0 1134.0,126.1 1134.5,126.4 1135.0,127.0 1135.5,127.7 1136.0,128.5 1136.5,129.5 1137.0,130.4 1137.5,131.4 1138.0,132.3 1138.5,133.1 1139.0,133.7 1139.5,134.1 1140.0,134.3 1140.5,134.3 1141.0,134.1 1141.5,133.6 1142.0,132.9 1142.5,132.0 1143.0,131.0 1143.5,129.9 1144.0,128.7 1144.5,127.5 1145.0,126.4 1145.5,125.3 1146.0,124.4 1146.5,123.7 1147.0,123.2 1147.5,122.9 1148.0,122.9 1148.5,123.1 1149.0,123.6 1149.5,124.2 1150.0,125.1 1150.5,126.1 1151.0,127.2 1151.5,128.3 1152.0,129.5 1152.5,130.6 1153.0,131.6 1153.5,132.4 1154.0,133.1 1154.5,133.6 1155.0,133.8 1155.5,133.8 1156.0,133.6 1156.5,133.1 1157.0,132.5 1157.5,131.7 1158.0,130.7 1158.5,129.7 1159.0,128.7 1159.5,127.7 1160.0,126.8 1160.5,126.0 1161.0,125.4 1161.5,124.9 1162.0,124.7 1162.5,124.8 1163.0,125.1 1163.5,125.6 1164.0,126.3 1164.5,127.3 1165.0,128.4 1165.5,129.6 1166.0,130.8 1166.5,132.1 1167.0,133.4 1167.5,134.5 1168.0,135.5 1168.5,136.4 1169.0,137.1 1169.5,137.5 1170.0,137.7 1170.5,137.7 1171.0,137.5 1171.5,137.0 1172.0,136.4 1172.5,135.7 1173.0,134.9 1173.5,134.0 1174.0,133.2 1174.5,132.4 1175.0,131.7 1175.5,131.2 1176.0,130.8 1176.5,130.7 1177.0,130.8 1177.5,131.1 1178.0,131.6 1178.5,132.4 1179.0,133.4 1179.5,134.5 1180.0,135.7 1180.5,137.1 1181.0,138.4 1181.5,139.8 1182.0,141.0 1182.5,142.2 1183.0,143.2 1183.5,144.0 1184.0,144.6 1184.5,145.0 1185.0,145.2 1185.5,145.2 1186.0,144.9 1186.5,144.5 1187.0,144.0 1187.5,143.3 1188.0,142.6 1188.5,141.9 1189.0,141.2 1189.5,140.6 1190.0,140.2 1190.5,139.9 1191.0,139.8 1191.5,139.9 1192.0,140.2 1192.5,140.8 1193.0,141.5 1193.5,142.5 1194.0,143.6 1194.5,144.8 1195.0,146.2 1195.5,147.5 1196.0,148.9 1196.5,150.2 1197.0,151.5 1197.5,152.6 1198.0,153.5 1198.5,154.3 1199.0,154.8 1199.5,155.1 1200.0,155.3 1200.5,155.2 1201.0,155.0 1201.5,154.6 1202.0,154.1 1202.5,153.5 1203.0,153.0 1203.5,152.4 1204.0,151.9 1204.5,151.5 1205.0,151.3 1205.5,151.2 1206.0,151.3 1206.5,151.6 1207.0,152.1 1207.5,152.8 1208.0,153.7 1208.5,154.8 1209.0,156.0 1209.5,157.3 1210.0,158.6 1210.5,160.0 1211.0,161.3 1211.5,162.5 1212.0,163.7 1212.5,164.7 1213.0,165.5 1213.5,166.2 1214.0,166.6 1214.5,166.9 1215.0,167.0 1215.5,166.9 1216.0,166.6 1216.5,166.3 1217.0,165.9 1217.5,165.4 1218.0,164.9 1218.5,164.5 1219.0,164.2 1219.5,163.9 1220.0,163.9 1220.5,163.9 1221.0,164.2 1221.5,164.7 1222.0,165.3 1222.5,166.1 1223.0,167.1 1223.5,168.2 1224.0,169.4 1224.5,170.7 1225.0,172.0 1225.5,173.3 1226.0,174.5 1226.5,175.7 1227.0,176.7 1227.5,177.6 1228.0,178.3 1228.5,178.8 1229.0,179.2 1229.5,179.4 1230.0,179.4 1230.5,179.3 1231.0,179.0 1231.5,178.7 1232.0,178.3 1232.5,177.9 1233.0,177.6 1233.5,177.3 1234.0,177.0 1234.5,177.0 1235.0,177.0 1235.5,177.2 1236.0,177.6 1236.5,178.2 1237.0,178.9 1237.5,179.7 1238.0,180.7 1238.5,181.8 1239.0,183.0 1239.5,184.2 1240.0,185.4 1240.5,186.6 1241.0,187.7 1241.5,188.7 1242.0,189.6 1242.5,190.4 1243.0,191.0 1243.5,191.4 1244.0,191.6 1244.5,191.7 1245.0,191.7 1245.5,191.5 1246.0,191.3 1246.5,191.0 1247.0,190.6 1247.5,190.3 1248.0,190.0 1248.5,189.8 1249.0,189.7 1249.5,189.6 1250.0,189.8 1250.5,190.1 1251.0,190.5 1251.5,191.1 1252.0,191.9 1252.5,192.7 1253.0,193.7 1253.5,194.8 1254.0,195.9 1254.5,197.0 1255.0,198.1 1255.5,199.1 1256.0,200.1 1256.5,201.0 1257.0,201.7 1257.5,202.3 1258.0,202.7 1258.5,203.0 1259.0,203.2 1259.5,203.2 1260.0,203.1 1260.5,202.9 1261.0,202.6 1261.5,202.3 1262.0,202.0 1262.5,201.7 1263.0,201.4 1263.5,201.2 1264.0,201.2 1264.5,201.2 1265.0,201.4 1265.5,201.7 1266.0,202.2 1266.5,202.8 1267.0,203.6 1267.5,204.4 1268.0,205.3 1268.5,206.3 1269.0,207.3 1269.5,208.3 1270.0,209.2 1270.5,210.1 1271.0,210.9 1271.5,211.6 1272.0,212.2 1272.5,212.7 1273.0,213.0 1273.5,213.1 1274.0,213.2 1274.5,213.1 1275.0,212.9 1275.5,212.6 1276.0,212.3 1276.5,212.0 1277.0,211.7 1277.5,211.4 1278.0,211.2 1278.5,211.0 1279.0,211.0 1279.5,211.0 1280.0,211.2 1280.5,211.6 1281.0,212.0 1281.5,212.6 1282.0,213.3 1282.5,214.1 1283.0,214.9 1283.5,215.8 1284.0,216.7 1284.5,217.5 1285.0,218.3 1285.5,219.1 1286.0,219.7 1286.5,220.3 1287.0,220.7 1287.5,221.0 1288.0,221.2 1288.5,221.2 1289.0,221.1 1289.5,220.9 1290.0,220.7 1290.5,220.3 1291.0,220.0 1291.5,219.6 1292.0,219.3 1292.5,219.0 1293.0,218.7 1293.5,218.6 1294.0,218.5 1294.5,218.6 1295.0,218.8 1295.5,219.1 1296.0,219.5 1296.5,220.1 1297.0,220.7 1297.5,221.4 1298.0,222.1 1298.5,222.9 1299.0,223.6 1299.5,224.4 1300.0,225.0 1300.5,225.6 1301.0,226.1 1301.5,226.5 1302.0,226.8 1302.5,226.9 1303.0,227.0 1303.5,226.9 1304.0,226.7 1304.5,226.4 1305.0,226.0 1305.5,225.6 1306.0,225.2 1306.5,224.8 1307.0,224.4 1307.5,224.0 1308.0,223.8 1308.5,223.6 1309.0,223.5 1309.5,223.6 1310.0,223.8 1310.5,224.0 1311.0,224.4 1311.5,224.9 1312.0,225.4 1312.5,226.1 1313.0,226.7 1313.5,227.4 1314.0,228.0 1314.5,228.6 1315.0,229.1 1315.5,229.6 1316.0,229.9 1316.5,230.1 1317.0,230.3 1317.5,230.3 1318.0,230.1 1318.5,229.9 1319.0,229.6 1319.5,229.2 1320.0,228.7 1320.5,228.2 1321.0,227.7 1321.5,227.3 1322.0,226.8 1322.5,226.4 1323.0,226.1 1323.5,225.9 1324.0,225.8 1324.5,225.9 1325.0,226.0 1325.5,226.2 1326.0,226.6 1326.5,227.0 1327.0,227.5 1327.5,228.0 1328.0,228.6 1328.5,229.1 1329.0,229.6 1329.5,230.1 1330.0,230.5 1330.5,230.8 1331.0,231.0 1331.5,231.1 1332.0,231.1 1332.5,230.9 1333.0,230.7 1333.5,230.3 1334.0,229.9 1334.5,229.4 1335.0,228.8 1335.5,228.2 1336.0,227.6 1336.5,227.1 1337.0,226.6 1337.5,226.1 1338.0,225.8 1338.5,225.6 1339.0,225.4 1339.5,225.4 1340.0,225.5 1340.5,225.7 1341.0,226.0 1341.5,226.4 1342.0,226.8 1342.5,227.3 1343.0,227.8 1343.5,228.2 1344.0,228.6 1344.5,229.0 1345.0,229.3 1345.5,229.5 1346.0,229.5 1346.5,229.5 1347.0,229.3 1347.5,229.0 1348.0,228.6 1348.5,228.1 1349.0,227.6 1349.5,226.9 1350.0,226.3 1350.5,225.6 1351.0,224.9 1351.5,224.3 1352.0,223.8 1352.5,223.3 1353.0,222.9 1353.5,222.6 1354.0,222.5 1354.5,222.4 1355.0,222.5 1355.5,222.7 1356.0,222.9 1356.5,223.3 1357.0,223.7 1357.5,224.1 1358.0,224.5 1358.5,224.9 1359.0,225.2 1359.5,225.5 1360.0,225.6 1360.5,225.7 1361.0,225.7 1361.5,225.5 1362.0,225.2 1362.5,224.8 1363.0,224.2 1363.5,223.6 1364.0,222.9 1364.5,222.2 1365.0,221.4 1365.5,220.6 1366.0,219.9 1366.5,219.2 1367.0,218.6 1367.5,218.1 1368.0,217.6 1368.5,217.4 1369.0,217.2 1369.5,217.1 1370.0,217.2 1370.5,217.4 1371.0,217.6 1371.5,217.9 1372.0,218.3 1372.5,218.7 1373.0,219.0 1373.5,219.4 1374.0,219.6 1374.5,219.8 1375.0,219.9 1375.5,219.9 1376.0,219.7 1376.5,219.4 1377.0,219.0 1377.5,218.4 1378.0,217.8 1378.5,217.0 1379.0,216.2 1379.5,215.4 1380.0,214.5 1380.5,213.6 1381.0,212.8 1381.5,212.1 1382.0,211.4 1382.5,210.9 1383.0,210.4 1383.5,210.1 1384.0,210.0 1384.5,209.9 1385.0,210.0 1385.5,210.2 1386.0,210.4 1386.5,210.8 1387.0,211.1 1387.5,211.5 1388.0,211.8 1388.5,212.1 1389.0,212.3 1389.5,212.4 1390.0,212.4 1390.5,212.3 1391.0,212.0 1391.5,211.6 1392.0,211.0 1392.5,210.4 1393.0,209.6 1393.5,208.7 1394.0,207.8 1394.5,206.9 1395.0,205.9 1395.5,205.0 1396.0,204.1 1396.5,203.3 1397.0,202.6 1397.5,202.1 1398.0,201.6 1398.5,201.3 1399.0,201.2 1399.5,201.2 1400.0,201.3 1400.5,201.5 1401.0,201.8 1401.5,202.1 1402.0,202.5 1402.5,202.9 1403.0,203.2 1403.5,203.5 1404.0,203.6 1404.5,203.7 1405.0,203.6 1405.5,203.4 1406.0,203.0 1406.5,202.5 1407.0,201.8 1407.5,201.0 1408.0,200.1 1408.5,199.2 1409.0,198.1 1409.5,197.1 1410.0,196.1 1410.5,195.1 1411.0,194.2 1411.5,193.3 1412.0,192.6 1412.5,192.1 1413.0,191.7 1413.5,191.4 1414.0,191.3 1414.5,191.4 1415.0,191.5 1415.5,191.8 1416.0,192.1 1416.5,192.5 1417.0,192.9 1417.5,193.3 1418.0,193.6 1418.5,193.9 1419.0,194.0 1419.5,194.0 1420.0,193.8 1420.5,193.5 1421.0,193.0 1421.5,192.4 1422.0,191.7 1422.5,190.8 1423.0,189.8 1423.5,188.7 1424.0,187.6 1424.5,186.5 1425.0,185.4 1425.5,184.3 1426.0,183.4 1426.5,182.6 1427.0,181.9 1427.5,181.4 1428.0,181.0 1428.5,180.8 1429.0,180.8 1429.5,180.9 1430.0,181.1 1430.5,181.4 1431.0,181.8 1431.5,182.3 1432.0,182.7 1432.5,183.1 1433.0,183.4 1433.5,183.7 1434.0,183.8 1434.5,183.7 1435.0,183.5 1435.5,183.1 1436.0,182.5 1436.5,181.8 1437.0,181.0 1437.5,180.0 1438.0,178.9 1438.5,177.7 1439.0,176.5 1439.5,175.3 1440.0,174.2 1440.5,173.1 1441.0,172.2 1441.5,171.4 1442.0,170.7 1442.5,170.3 1443.0,170.0 1443.5,169.8 1444.0,169.9 1444.5,170.1 1445.0,170.4 1445.5,170.8 1446.0,171.3" fill="none" stroke="#515151" stroke-width="5" stroke-linejoin="round" stroke-linecap="butt"/>
<path d="M201.0,422.3 201.5,421.9 202.0,420.8 202.5,418.9 203.0,416.5 203.5,413.6 204.0,410.4 204.5,407.0 205.0,403.7 205.5,400.6 206.0,397.9 206.5,395.7 207.0,394.1 207.5,393.3 208.0,393.2 208.5,393.9 209.0,395.4 209.5,397.5 210.0,400.3 210.5,403.5 211.0,407.0 211.5,410.8 212.0,414.5 212.5,418.1 213.0,421.3 213.5,424.1 214.0,426.3 214.5,427.8 215.0,428.6 215.5,428.7 216.0,428.0 216.5,426.6 217.0,424.6 217.5,422.1 218.0,419.3 218.5,416.2 219.0,413.1 219.5,410.1 220.0,407.4 220.5,405.2 221.0,403.4 221.5,402.3 222.0,401.9 222.5,402.2 223.0,403.2 223.5,404.9 224.0,407.2 224.5,410.0 225.0,413.2 225.5,416.6 226.0,420.1 226.5,423.5 227.0,426.7 227.5,429.6 228.0,431.9 228.5,433.7 229.0,434.8 229.5,435.2 230.0,434.9 230.5,433.9 231.0,432.3 231.5,430.3 232.0,427.8 232.5,425.1 233.0,422.2 233.5,419.4 234.0,416.8 234.5,414.5 235.0,412.6 235.5,411.3 236.0,410.5 236.5,410.5 237.0,411.1 237.5,412.4 238.0,414.2 238.5,416.6 239.0,419.4 239.5,422.5 240.0,425.7 240.5,428.9 241.0,432.0 241.5,434.9 242.0,437.3 242.5,439.2 243.0,440.6 243.5,441.3 244.0,441.3 244.5,440.8 245.0,439.6 245.5,437.9 246.0,435.8 246.5,433.4 247.0,430.8 247.5,428.2 248.0,425.7 248.5,423.3 249.0,421.4 249.5,419.9 250.0,418.9 250.5,418.5 251.0,418.8 251.5,419.6 252.0,421.1 252.5,423.0 253.0,425.4 253.5,428.2 254.0,431.1 254.5,434.1 255.0,437.1 255.5,439.8 256.0,442.3 256.5,444.3 257.0,445.9 257.5,446.8 258.0,447.2 258.5,447.0 259.0,446.2 259.5,444.9 260.0,443.1 260.5,441.0 261.0,438.7 261.5,436.3 262.0,433.8 262.5,431.5 263.0,429.5 263.5,427.9 264.0,426.7 264.5,426.0 265.0,425.9 265.5,426.4 266.0,427.5 266.5,429.0 267.0,431.0 267.5,433.4 268.0,436.0 268.5,438.8 269.0,441.6 269.5,444.2 270.0,446.7 270.5,448.8 271.0,450.4 271.5,451.6 272.0,452.3 272.5,452.4 273.0,451.9 273.5,450.9 274.0,449.5 274.5,447.7 275.0,445.6 275.5,443.3 276.0,441.0 276.5,438.8 277.0,436.7 277.5,435.0 278.0,433.6 278.5,432.7 279.0,432.3 279.5,432.4 280.0,433.1 280.5,434.2 281.0,435.8 281.5,437.9 282.0,440.2 282.5,442.7 283.0,445.3 283.5,447.8 284.0,450.2 284.5,452.3 285.0,454.1 285.5,455.5 286.0,456.3 286.5,456.7 287.0,456.5 287.5,455.8 288.0,454.7 288.5,453.2 289.0,451.3 289.5,449.2 290.0,447.0 290.5,444.8 291.0,442.7 291.5,440.9 292.0,439.3 292.5,438.2 293.0,437.4 293.5,437.2 294.0,437.5 294.5,438.3 295.0,439.6 295.5,441.3 296.0,443.3 296.5,445.5 297.0,447.9 297.5,450.3 298.0,452.6 298.5,454.8 299.0,456.6 299.5,458.1 300.0,459.2 300.5,459.8 301.0,459.8 301.5,459.4 302.0,458.6 302.5,457.3 303.0,455.6 303.5,453.7 304.0,451.6 304.5,449.4 305.0,447.3 305.5,445.3 306.0,443.6 306.5,442.2 307.0,441.2 307.5,440.7 308.0,440.6 308.5,441.1 309.0,442.0 309.5,443.3 310.0,445.0 310.5,447.0 311.0,449.1 311.5,451.4 312.0,453.7 312.5,455.8 313.0,457.7 313.5,459.4 314.0,460.6 314.5,461.4 315.0,461.7 315.5,461.5 316.0,460.9 316.5,459.8 317.0,458.3 317.5,456.6 318.0,454.5 318.5,452.4 319.0,450.2 319.5,448.2 320.0,446.2 320.5,444.6 321.0,443.3 321.5,442.5 322.0,442.1 322.5,442.2 323.0,442.7 323.5,443.7 324.0,445.1 324.5,446.8 325.0,448.8 325.5,451.0 326.0,453.2 326.5,455.3 327.0,457.3 327.5,459.0 328.0,460.4 328.5,461.4 329.0,462.0 329.5,462.0 330.0,461.6 330.5,460.8 331.0,459.5 331.5,457.8 332.0,455.9 332.5,453.7 333.0,451.5 333.5,449.3 334.0,447.2 334.5,445.3 335.0,443.7 335.5,442.5 336.0,441.8 336.5,441.5 337.0,441.7 337.5,442.4 338.0,443.5 338.5,444.9 339.0,446.7 339.5,448.8 340.0,450.9 340.5,453.0 341.0,455.1 341.5,457.0 342.0,458.5 342.5,459.8 343.0,460.5 343.5,460.9 344.0,460.7 344.5,460.0 345.0,458.9 345.5,457.4 346.0,455.5 346.5,453.3 347.0,451.0 347.5,448.7 348.0,446.4 348.5,444.3 349.0,442.4 349.5,440.8 350.0,439.7 350.5,439.0 351.0,438.8 351.5,439.2 352.0,440.0 352.5,441.2 353.0,442.8 353.5,444.7 354.0,446.8 354.5,448.9 355.0,451.1 355.5,453.1 356.0,454.9 356.5,456.3 357.0,457.4 357.5,458.0 358.0,458.0 358.5,457.6 359.0,456.7 359.5,455.3 360.0,453.5 360.5,451.4 361.0,449.0 361.5,446.5 362.0,444.0 362.5,441.5 363.0,439.3 363.5,437.4 364.0,435.9 364.5,434.8 365.0,434.2 365.5,434.2 366.0,434.6 366.5,435.6 367.0,437.0 367.5,438.7 368.0,440.7 368.5,442.9 369.0,445.2 369.5,447.4 370.0,449.4 370.5,451.1 371.0,452.5 371.5,453.4 372.0,453.8 372.5,453.6 373.0,452.9 373.5,451.7 374.0,450.0 374.5,447.9 375.0,445.5 375.5,442.8 376.0,440.1 376.5,437.4 377.0,434.8 377.5,432.5 378.0,430.5 378.5,429.0 379.0,428.0 379.5,427.5 380.0,427.6 380.5,428.3 381.0,429.4 381.5,431.0 382.0,433.0 382.5,435.2 383.0,437.5 383.5,439.9 384.0,442.2 384.5,444.2 385.0,445.9 385.5,447.2 386.0,447.9 386.5,448.1 387.0,447.7 387.5,446.8 388.0,445.2 388.5,443.2 389.0,440.8 389.5,438.0 390.0,435.1 390.5,432.1 391.0,429.1 391.5,426.4 392.0,424.0 392.5,422.0 393.0,420.5 393.5,419.5 394.0,419.2 394.5,419.5 395.0,420.4 395.5,421.8 396.0,423.6 396.5,425.9 397.0,428.3 397.5,430.9 398.0,433.4 398.5,435.8 399.0,437.9 399.5,439.6 400.0,440.8 400.5,441.4 401.0,441.4 401.5,440.7 402.0,439.4 402.5,437.5 403.0,435.2 403.5,432.4 404.0,429.3 404.5,426.0 405.0,422.7 405.5,419.6 406.0,416.7 406.5,414.2 407.0,412.1 407.5,410.7 408.0,409.9 408.5,409.7 409.0,410.3 409.5,411.4 410.0,413.1 410.5,415.3 411.0,417.8 411.5,420.6 412.0,423.4 412.5,426.1 413.0,428.6 413.5,430.8 414.0,432.5 414.5,433.6 415.0,434.0 415.5,433.8 416.0,432.8 416.5,431.2 417.0,429.0 417.5,426.3 418.0,423.1 418.5,419.6 419.0,416.1 419.5,412.5 420.0,409.1 420.5,406.1 421.0,403.5 421.5,401.5 422.0,400.2 422.5,399.5 423.0,399.6 423.5,400.4 424.0,401.9 424.5,404.0 425.0,406.5 425.5,409.4 426.0,412.4 426.5,415.5 427.0,418.5 427.5,421.2 428.0,423.4 428.5,425.1 429.0,426.1 429.5,426.3 430.0,425.9 430.5,424.6 431.0,422.7 431.5,420.1 432.0,416.9 432.5,413.4 433.0,409.6 433.5,405.7 434.0,401.9 434.5,398.4 435.0,395.2 435.5,392.6 436.0,390.7 436.5,389.5 437.0,389.1 437.5,389.5 438.0,390.6 438.5,392.5 439.0,394.9 439.5,397.9 440.0,401.1 440.5,404.5 441.0,407.9 441.5,411.1 442.0,413.9 442.5,416.2 443.0,417.8 443.5,418.7 444.0,418.8 444.5,418.1 445.0,416.5 445.5,414.2 446.0,411.3 446.5,407.8 447.0,403.9 447.5,399.8 448.0,395.7 448.5,391.7 449.0,388.0 449.5,384.8 450.0,382.3 450.5,380.5 451.0,379.5 451.5,379.3 452.0,380.1 452.5,381.6 453.0,383.9 453.5,386.7 454.0,390.0 454.5,393.7 455.0,397.4 455.5,401.0 456.0,404.4 456.5,407.3 457.0,409.7 457.5,411.3 458.0,412.0 458.5,412.0 459.0,411.0 459.5,409.1 460.0,406.5 460.5,403.2 461.0,399.4 461.5,395.2 462.0,390.9 462.5,386.6 463.0,382.5 463.5,378.7 464.0,375.6 464.5,373.2 465.0,371.6 465.5,370.8 466.0,371.0 466.5,372.1 467.0,374.1 467.5,376.7 468.0,380.0 468.5,383.7 469.0,387.7 469.5,391.7 470.0,395.6 470.5,399.1 471.0,402.1 471.5,404.5 472.0,406.0 472.5,406.6 473.0,406.3 473.5,405.1 474.0,403.0 474.5,400.1 475.0,396.6 475.5,392.5 476.0,388.1 476.5,383.6 477.0,379.2 477.5,375.1 478.0,371.4 478.5,368.4 479.0,366.2 479.5,364.8 480.0,364.4 480.5,365.0 481.0,366.5 481.5,368.8 482.0,371.9 482.5,375.5 483.0,379.6 483.5,383.8 484.0,388.1 484.5,392.1 485.0,395.8 485.5,398.8 486.0,401.1 486.5,402.5 487.0,403.0 487.5,402.5 488.0,401.1 488.5,398.8 489.0,395.7 489.5,392.0 490.0,387.8 490.5,383.3 491.0,378.8 491.5,374.4 492.0,370.3 492.5,366.8 493.0,364.1 493.5,362.1 494.0,361.1 494.5,361.1 495.0,362.0 495.5,363.9 496.0,366.6 496.5,370.0 497.0,373.9 497.5,378.2 498.0,382.7 498.5,387.1 499.0,391.2 499.5,394.9 500.0,397.9 500.5,400.1 501.0,401.4 501.5,401.7 502.0,401.1 502.5,399.5 503.0,397.1 503.5,393.9 504.0,390.1 504.5,385.9 505.0,381.5 505.5,377.0 506.0,372.8 506.5,369.0 507.0,365.8 507.5,363.4 508.0,361.8 508.5,361.1 509.0,361.4 509.5,362.7 510.0,365.0 510.5,368.0 511.0,371.6 511.5,375.8 512.0,380.3 512.5,384.8 513.0,389.2 513.5,393.3 514.0,396.9 514.5,399.8 515.0,401.9 515.5,403.1 516.0,403.3 516.5,402.6 517.0,400.9 517.5,398.5 518.0,395.3 518.5,391.6 519.0,387.5 519.5,383.3 520.0,379.2 520.5,375.3 521.0,371.8 521.5,369.0 522.0,367.0 522.5,365.8 523.0,365.6 523.5,366.3 524.0,367.9 524.5,370.4 525.0,373.6 525.5,377.4 526.0,381.6 526.5,386.1 527.0,390.6 527.5,395.0 528.0,398.9 528.5,402.3 529.0,405.1 529.5,407.0 530.0,408.1 530.5,408.2 531.0,407.5 531.5,405.8 532.0,403.5 532.5,400.5 533.0,397.0 533.5,393.3 534.0,389.5 534.5,385.8 535.0,382.4 535.5,379.4 536.0,377.1 536.5,375.5 537.0,374.8 537.5,375.0 538.0,376.0 538.5,377.9 539.0,380.5 539.5,383.8 540.0,387.7 540.5,391.9 541.0,396.2 541.5,400.5 542.0,404.6 542.5,408.3 543.0,411.5 543.5,414.1 544.0,415.8 544.5,416.8 545.0,416.9 545.5,416.2 546.0,414.7 546.5,412.6 547.0,410.0 547.5,406.9 548.0,403.7 548.5,400.4 549.0,397.3 549.5,394.5 550.0,392.2 550.5,390.5 551.0,389.4 551.5,389.2 552.0,389.7 552.5,391.0 553.0,393.0 553.5,395.8 554.0,399.0 554.5,402.7 555.0,406.7 555.5,410.7 556.0,414.7 556.5,418.5 557.0,421.9 557.5,424.8 558.0,427.0 558.5,428.6 559.0,429.5 559.5,429.6 560.0,429.1 560.5,427.9 561.0,426.2 561.5,424.1 562.0,421.6 562.5,419.1 563.0,416.5 563.5,414.1 564.0,412.1 564.5,410.4 565.0,409.4 565.5,408.9 566.0,409.0 566.5,409.9 567.0,411.4 567.5,413.5 568.0,416.2 568.5,419.3 569.0,422.7 569.5,426.2 570.0,429.9 570.5,433.4 571.0,436.7 571.5,439.7 572.0,442.2 572.5,444.2 573.0,445.6 573.5,446.5 574.0,446.7 574.5,446.5 575.0,445.7 575.5,444.5 576.0,443.0 576.5,441.3 577.0,439.6 577.5,437.9 578.0,436.4 578.5,435.1 579.0,434.2 579.5,433.8 580.0,433.9 580.5,434.4 581.0,435.6 581.5,437.2 582.0,439.2 582.5,441.7 583.0,444.5 583.5,447.4 584.0,450.5 584.5,453.6 585.0,456.6 585.5,459.3 586.0,461.8 586.5,464.0 587.0,465.7 587.5,467.0 588.0,467.9 588.5,468.3 589.0,468.4 589.5,468.1 590.0,467.6 590.5,466.9 591.0,466.1 591.5,465.2 592.0,464.5 592.5,463.8 593.0,463.5 593.5,463.4 594.0,463.6 594.5,464.2 595.0,465.1 595.5,466.4 596.0,468.0 596.5,469.9 597.0,472.1 597.5,474.4 598.0,476.9 598.5,479.3 599.0,481.8 599.5,484.1 600.0,486.3 600.5,488.3 601.0,490.0 601.5,491.5 602.0,492.8 602.5,493.7 603.0,494.4 603.5,494.9 604.0,495.3 604.5,495.5 605.0,495.6 605.5,495.7 606.0,495.8 606.5,496.0 607.0,496.3 607.5,496.8 608.0,497.4 608.5,498.3 609.0,499.3 609.5,500.5 610.0,501.9 610.5,503.5 611.0,505.1 611.5,506.9 612.0,508.7 612.5,510.6 613.0,512.4 613.5,514.1 614.0,515.8 614.5,517.4 615.0,518.9 615.5,520.3 616.0,521.6 616.5,522.8 617.0,523.9 617.5,524.9 618.0,525.9 618.5,526.8 619.0,527.8 619.5,528.8 620.0,529.8 620.5,530.9 621.0,532.0 621.5,533.3 622.0,534.5 622.5,535.9 623.0,537.2 623.5,538.7 624.0,540.1 624.5,541.5 625.0,542.9 625.5,544.3 626.0,545.6 626.5,546.8 627.0,548.0 627.5,549.2 628.0,550.3 628.5,551.3 629.0,552.4 629.5,553.4 630.0,554.5 630.5,555.6 631.0,556.7 631.5,558.0 632.0,559.4 632.5,560.9 633.0,562.5 633.5,564.2 634.0,566.0 634.5,567.9 635.0,569.9 635.5,571.9 636.0,573.9 636.5,575.9 637.0,577.8 637.5,579.6 638.0,581.3 638.5,582.9 639.0,584.3 639.5,585.5 640.0,586.5 640.5,587.3 641.0,588.1 641.5,588.6 642.0,589.2 642.5,589.6 643.0,590.1 643.5,590.7 644.0,591.3 644.5,592.1 645.0,593.1 645.5,594.3 646.0,595.8 646.5,597.5 647.0,599.4 647.5,601.6 648.0,604.0 648.5,606.6 649.0,609.2 649.5,612.0 650.0,614.7 650.5,617.4 651.0,620.0 651.5,622.4 652.0,624.5 652.5,626.4 653.0,628.0 653.5,629.3 654.0,630.3 654.5,631.0 655.0,631.4 655.5,631.6 656.0,631.7 656.5,631.6 657.0,631.6 657.5,631.6 658.0,631.7 658.5,632.1 659.0,632.7 659.5,633.6 660.0,634.8 660.5,636.5 661.0,638.5 661.5,640.8 662.0,643.5 662.5,646.5 663.0,649.6 663.5,652.9 664.0,656.2 664.5,659.5 665.0,662.7 665.5,665.7 666.0,668.4 666.5,670.8 667.0,672.8 667.5,674.4 668.0,675.5 668.5,676.3 669.0,676.7 669.5,676.7 670.0,676.6 670.5,676.2 671.0,675.7 671.5,675.3 672.0,675.0 672.5,674.8 673.0,674.9 673.5,675.4 674.0,676.3 674.5,677.6 675.0,679.4 675.5,681.6 676.0,684.3 676.5,687.3 677.0,690.6 677.5,694.2 678.0,697.9 678.5,701.6 679.0,705.3 679.5,708.8 680.0,712.0 680.5,714.9 681.0,717.3 681.5,719.3 682.0,720.9 682.5,721.9 683.0,722.5 683.5,722.6 684.0,722.4 684.5,722.0 685.0,721.3 685.5,720.6 686.0,719.9 686.5,719.3 687.0,719.0 687.5,719.0 688.0,719.4 688.5,720.3 689.0,721.7 689.5,723.6 690.0,725.9 690.5,728.8 691.0,732.0 691.5,735.5 692.0,739.3 692.5,743.1 693.0,747.0 693.5,750.8 694.0,754.4 694.5,757.7 695.0,760.6 695.5,763.0 696.0,765.0 696.5,766.4 697.0,767.3 697.5,767.8 698.0,767.8 698.5,767.4 699.0,766.8 699.5,766.0 700.0,765.2 700.5,764.4 701.0,763.7 701.5,763.4 702.0,763.3 702.5,763.7 703.0,764.6 703.5,766.0 704.0,767.9 704.5,770.3 705.0,773.2 705.5,776.4 706.0,779.9 706.5,783.7 707.0,787.5 707.5,791.3 708.0,795.1 708.5,798.5 709.0,801.7 709.5,804.5 710.0,806.8 710.5,808.6 711.0,809.9 711.5,810.8 712.0,811.1 712.5,811.1 713.0,810.7 713.5,810.0 714.0,809.2 714.5,808.4 715.0,807.7 715.5,807.1 716.0,806.7 716.5,806.8 717.0,807.2 717.5,808.1 718.0,809.5 718.5,811.3 719.0,813.6 719.5,816.3 720.0,819.4 720.5,822.8 721.0,826.3 721.5,829.9 722.0,833.4 722.5,836.9 723.0,840.1 723.5,843.0 724.0,845.5 724.5,847.6 725.0,849.3 725.5,850.5 726.0,851.2 726.5,851.6 727.0,851.5 727.5,851.2 728.0,850.6 728.5,850.0 729.0,849.3 729.5,848.7 730.0,848.2 730.5,848.0 731.0,848.1 731.5,848.6 732.0,849.5 732.5,850.8 733.0,852.5 733.5,854.6 734.0,857.1 734.5,859.9 735.0,862.8 735.5,866.0 736.0,869.1 736.5,872.3 737.0,875.3 737.5,878.1 738.0,880.6 738.5,882.8 739.0,884.7 739.5,886.1 740.0,887.2 740.5,887.8 741.0,888.2 741.5,888.2 742.0,888.0 742.5,887.6 743.0,887.2 743.5,886.7 744.0,886.3 744.5,886.0 745.0,886.0 745.5,886.2 746.0,886.7 746.5,887.6 747.0,888.8 747.5,890.3 748.0,892.1 748.5,894.2 749.0,896.6 749.5,899.1 750.0,901.7 750.5,904.3 751.0,906.9 751.5,909.4 752.0,911.6 752.5,913.7 753.0,915.5 753.5,917.1 754.0,918.3 754.5,919.2 755.0,919.8 755.5,920.1 756.0,920.3 756.5,920.2 757.0,920.1 757.5,919.8 758.0,919.6 758.5,919.5 759.0,919.4 759.5,919.5 760.0,919.8 760.5,920.4 761.0,921.2 761.5,922.2 762.0,923.5 762.5,925.0 763.0,926.7 763.5,928.5 764.0,930.4 764.5,932.4 765.0,934.5 765.5,936.4 766.0,938.3 766.5,940.0 767.0,941.6 767.5,943.0 768.0,944.2 768.5,945.1 769.0,945.9 769.5,946.4 770.0,946.8 770.5,947.0 771.0,947.1 771.5,947.2 772.0,947.2 772.5,947.2 773.0,947.2 773.5,947.4 774.0,947.6 774.5,948.0 775.0,948.5 775.5,949.2 776.0,950.0 776.5,951.0 777.0,952.1 777.5,953.4 778.0,954.7 778.5,956.0 779.0,957.4 779.5,958.8 780.0,960.2 780.5,961.5 781.0,962.7 781.5,963.7 782.0,964.7 782.5,965.5 783.0,966.2 783.5,966.8 784.0,967.3 784.5,967.6 785.0,967.9 785.5,968.1 786.0,968.3 786.5,968.4 787.0,968.6 787.5,968.8 788.0,969.0 788.5,969.3 789.0,969.7 789.5,970.1 790.0,970.7 790.5,971.3 791.0,972.0 791.5,972.7 792.0,973.5 792.5,974.3 793.0,975.1 793.5,976.0 794.0,976.8 794.5,977.6 795.0,978.3 795.5,979.0 796.0,979.6 796.5,980.2 797.0,980.7 797.5,981.2 798.0,981.6 798.5,981.9 799.0,982.2 799.5,982.4 800.0,982.6 800.5,982.9 801.0,983.1 801.5,983.3 802.0,983.5 802.5,983.7 803.0,984.0 803.5,984.3 804.0,984.6 804.5,984.9 805.0,985.2 805.5,985.6 806.0,986.0 806.5,986.4 807.0,986.8 807.5,987.1 808.0,987.5 808.5,987.8 809.0,988.2 809.5,988.5 810.0,988.8 810.5,989.0 811.0,989.3 811.5,989.5 812.0,989.7 812.5,989.8 813.0,990.0 813.5,990.1 814.0,990.3 814.5,990.4 815.0,990.5 815.5,990.6 816.0,990.8 816.5,990.9 817.0,991.0 817.5,991.1 818.0,991.2 818.5,991.3 819.0,991.4 819.5,991.4 820.0,991.5 820.5,991.6 821.0,991.6 821.5,991.7 822.0,991.7 822.5,991.7 823.0,991.7 823.5,991.7 824.0,991.7 824.5,991.7 825.0,991.7 825.5,991.7 826.0,991.6 826.5,991.6 827.0,991.6 827.5,991.5 828.0,991.4 828.5,991.3 829.0,991.2 829.5,991.1 830.0,991.0 830.5,990.9 831.0,990.7 831.5,990.6 832.0,990.4 832.5,990.2 833.0,990.0 833.5,989.8 834.0,989.6 834.5,989.4 835.0,989.3 835.5,989.1 836.0,988.9 836.5,988.7 837.0,988.5 837.5,988.3 838.0,988.2 838.5,988.0 839.0,987.8 839.5,987.6 840.0,987.4 840.5,987.2 841.0,986.9 841.5,986.7 842.0,986.3 842.5,986.0 843.0,985.6 843.5,985.2 844.0,984.7 844.5,984.2 845.0,983.7 845.5,983.1 846.0,982.6 846.5,982.0 847.0,981.5 847.5,980.9 848.0,980.4 848.5,979.9 849.0,979.5 849.5,979.1 850.0,978.8 850.5,978.4 851.0,978.2 851.5,977.9 852.0,977.7 852.5,977.5 853.0,977.3 853.5,977.1 854.0,976.9 854.5,976.6 855.0,976.2 855.5,975.8 856.0,975.3 856.5,974.7 857.0,974.0 857.5,973.2 858.0,972.3 858.5,971.4 859.0,970.4 859.5,969.4 860.0,968.3 860.5,967.3 861.0,966.2 861.5,965.2 862.0,964.3 862.5,963.4 863.0,962.7 863.5,962.0 864.0,961.5 864.5,961.0 865.0,960.7 865.5,960.5 866.0,960.3 866.5,960.2 867.0,960.1 867.5,960.0 868.0,959.8 868.5,959.6 869.0,959.3 869.5,958.9 870.0,958.3 870.5,957.6 871.0,956.7 871.5,955.7 872.0,954.5 872.5,953.1 873.0,951.6 873.5,950.1 874.0,948.4 874.5,946.8 875.0,945.2 875.5,943.6 876.0,942.1 876.5,940.7 877.0,939.5 877.5,938.5 878.0,937.6 878.5,937.0 879.0,936.5 879.5,936.2 880.0,936.1 880.5,936.1 881.0,936.1 881.5,936.2 882.0,936.3 882.5,936.3 883.0,936.2 883.5,936.0 884.0,935.5 884.5,934.9 885.0,934.0 885.5,932.8 886.0,931.4 886.5,929.8 887.0,927.9 887.5,925.9 888.0,923.7 888.5,921.5 889.0,919.2 889.5,917.0 890.0,914.8 890.5,912.8 891.0,911.0 891.5,909.5 892.0,908.2 892.5,907.1 893.0,906.4 893.5,905.9 894.0,905.7 894.5,905.7 895.0,905.9 895.5,906.2 896.0,906.5 896.5,906.9 897.0,907.1 897.5,907.1 898.0,907.0 898.5,906.6 899.0,905.9 899.5,904.8 900.0,903.5 900.5,901.7 901.0,899.7 901.5,897.4 902.0,894.8 902.5,892.1 903.0,889.3 903.5,886.4 904.0,883.6 904.5,880.9 905.0,878.4 905.5,876.2 906.0,874.3 906.5,872.8 907.0,871.6 907.5,870.8 908.0,870.3 908.5,870.2 909.0,870.3 909.5,870.7 910.0,871.2 910.5,871.8 911.0,872.3 911.5,872.8 912.0,873.0 912.5,873.0 913.0,872.6 913.5,871.9 914.0,870.8 914.5,869.2 915.0,867.2 915.5,864.9 916.0,862.2 916.5,859.2 917.0,856.0 917.5,852.7 918.0,849.3 918.5,846.0 919.0,842.9 919.5,840.0 920.0,837.4 920.5,835.2 921.0,833.4 921.5,832.1 922.0,831.2 922.5,830.7 923.0,830.7 923.5,830.9 924.0,831.4 924.5,832.1 925.0,832.9 925.5,833.6 926.0,834.2 926.5,834.6 927.0,834.7 927.5,834.4 928.0,833.6 928.5,832.5 929.0,830.8 929.5,828.6 930.0,826.1 930.5,823.1 931.0,819.8 931.5,816.3 932.0,812.6 932.5,808.9 933.0,805.3 933.5,801.8 934.0,798.6 934.5,795.8 935.0,793.3 935.5,791.4 936.0,789.9 936.5,788.9 937.0,788.4 937.5,788.3 938.0,788.6 938.5,789.2 939.0,789.9 939.5,790.8 940.0,791.6 940.5,792.3 941.0,792.7 941.5,792.9 942.0,792.6 942.5,791.9 943.0,790.7 943.5,789.0 944.0,786.8 944.5,784.1 945.0,781.0 945.5,777.6 946.0,773.9 946.5,770.1 947.0,766.2 947.5,762.4 948.0,758.8 948.5,755.4 949.0,752.4 949.5,749.9 950.0,747.8 950.5,746.2 951.0,745.1 951.5,744.5 952.0,744.4 952.5,744.6 953.0,745.1 953.5,745.8 954.0,746.6 954.5,747.4 955.0,748.1 955.5,748.5 956.0,748.6 956.5,748.4 957.0,747.7 957.5,746.5 958.0,744.8 958.5,742.6 959.0,739.9 959.5,736.9 960.0,733.5 960.5,729.9 961.0,726.1 961.5,722.3 962.0,718.5 962.5,714.9 963.0,711.6 963.5,708.6 964.0,706.0 964.5,703.9 965.0,702.2 965.5,701.0 966.0,700.3 966.5,700.0 967.0,700.1 967.5,700.4 968.0,700.9 968.5,701.5 969.0,702.1 969.5,702.7 970.0,703.0 970.5,703.0 971.0,702.6 971.5,701.9 972.0,700.7 972.5,699.1 973.0,697.0 973.5,694.5 974.0,691.6 974.5,688.5 975.0,685.1 975.5,681.6 976.0,678.0 976.5,674.5 977.0,671.2 977.5,668.0 978.0,665.2 978.5,662.7 979.0,660.6 979.5,659.0 980.0,657.7 980.5,656.9 981.0,656.4 981.5,656.2 982.0,656.2 982.5,656.4 983.0,656.7 983.5,657.0 984.0,657.2 984.5,657.2 985.0,657.0 985.5,656.5 986.0,655.7 986.5,654.5 987.0,653.0 987.5,651.0 988.0,648.8 988.5,646.3 989.0,643.5 989.5,640.5 990.0,637.5 990.5,634.4 991.0,631.4 991.5,628.5 992.0,625.7 992.5,623.2 993.0,621.0 993.5,619.1 994.0,617.5 994.5,616.2 995.0,615.2 995.5,614.5 996.0,614.0 996.5,613.6 997.0,613.4 997.5,613.2 998.0,613.1 998.5,612.8 999.0,612.5 999.5,611.9 1000.0,611.2 1000.5,610.2 1001.0,609.0 1001.5,607.5 1002.0,605.8 1002.5,603.9 1003.0,601.8 1003.5,599.5 1004.0,597.1 1004.5,594.7 1005.0,592.3 1005.5,589.9 1006.0,587.6 1006.5,585.5 1007.0,583.5 1007.5,581.6 1008.0,580.0 1008.5,578.5 1009.0,577.3 1009.5,576.2 1010.0,575.2 1010.5,574.3 1011.0,573.6 1011.5,572.9 1012.0,572.1 1012.5,571.4 1013.0,570.6 1013.5,569.8 1014.0,568.8 1014.5,567.7 1015.0,566.5 1015.5,565.2 1016.0,563.8 1016.5,562.3 1017.0,560.7 1017.5,559.1 1018.0,557.4 1018.5,555.7 1019.0,554.1 1019.5,552.4 1020.0,550.9 1020.5,549.3 1021.0,547.9 1021.5,546.5 1022.0,545.2 1022.5,544.0 1023.0,542.8 1023.5,541.6 1024.0,540.4 1024.5,539.3 1025.0,538.1 1025.5,536.9 1026.0,535.6 1026.5,534.3 1027.0,533.0 1027.5,531.5 1028.0,530.1 1028.5,528.6 1029.0,527.1 1029.5,525.6 1030.0,524.2 1030.5,522.8 1031.0,521.4 1031.5,520.2 1032.0,519.0 1032.5,518.0 1033.0,517.1 1033.5,516.2 1034.0,515.5 1034.5,514.8 1035.0,514.2 1035.5,513.5 1036.0,512.9 1036.5,512.3 1037.0,511.5 1037.5,510.7 1038.0,509.7 1038.5,508.6 1039.0,507.3 1039.5,505.8 1040.0,504.2 1040.5,502.4 1041.0,500.5 1041.5,498.5 1042.0,496.4 1042.5,494.3 1043.0,492.3 1043.5,490.3 1044.0,488.5 1044.5,486.8 1045.0,485.4 1045.5,484.2 1046.0,483.2 1046.5,482.5 1047.0,482.1 1047.5,481.9 1048.0,481.9 1048.5,482.0 1049.0,482.3 1049.5,482.6 1050.0,482.8 1050.5,483.0 1051.0,483.1 1051.5,482.9 1052.0,482.5 1052.5,481.8 1053.0,480.8 1053.5,479.5 1054.0,477.8 1054.5,475.8 1055.0,473.6 1055.5,471.1 1056.0,468.5 1056.5,465.8 1057.0,463.1 1057.5,460.5 1058.0,458.1 1058.5,455.8 1059.0,453.9 1059.5,452.4 1060.0,451.2 1060.5,450.5 1061.0,450.2 1061.5,450.3 1062.0,450.7 1062.5,451.5 1063.0,452.5 1063.5,453.7 1064.0,454.9 1064.5,456.1 1065.0,457.1 1065.5,457.9 1066.0,458.4 1066.5,458.6 1067.0,458.2 1067.5,457.4 1068.0,456.1 1068.5,454.4 1069.0,452.1 1069.5,449.5 1070.0,446.6 1070.5,443.5 1071.0,440.2 1071.5,436.9 1072.0,433.8 1072.5,430.8 1073.0,428.2 1073.5,426.0 1074.0,424.3 1074.5,423.2 1075.0,422.6 1075.5,422.5 1076.0,423.1 1076.5,424.1 1077.0,425.5 1077.5,427.3 1078.0,429.3 1078.5,431.4 1079.0,433.4 1079.5,435.3 1080.0,436.9 1080.5,438.1 1081.0,438.7 1081.5,438.9 1082.0,438.4 1082.5,437.2 1083.0,435.5 1083.5,433.2 1084.0,430.3 1084.5,427.1 1085.0,423.5 1085.5,419.8 1086.0,416.0 1086.5,412.4 1087.0,409.0 1087.5,406.0 1088.0,403.5 1088.5,401.6 1089.0,400.3 1089.5,399.8 1090.0,399.9 1090.5,400.8 1091.0,402.2 1091.5,404.2 1092.0,406.6 1092.5,409.3 1093.0,412.2 1093.5,415.0 1094.0,417.6 1094.5,419.9 1095.0,421.8 1095.5,423.0 1096.0,423.7 1096.5,423.5 1097.0,422.7 1097.5,421.1 1098.0,418.8 1098.5,415.8 1099.0,412.4 1099.5,408.6 1100.0,404.5 1100.5,400.4 1101.0,396.3 1101.5,392.6 1102.0,389.2 1102.5,386.4 1103.0,384.3 1103.5,382.9 1104.0,382.4 1104.5,382.6 1105.0,383.6 1105.5,385.4 1106.0,387.7 1106.5,390.6 1107.0,393.9 1107.5,397.3 1108.0,400.7 1108.5,404.0 1109.0,407.0 1109.5,409.5 1110.0,411.3 1110.5,412.4 1111.0,412.7 1111.5,412.2 1112.0,410.8 1112.5,408.7 1113.0,405.8 1113.5,402.3 1114.0,398.4 1114.5,394.2 1115.0,389.8 1115.5,385.5 1116.0,381.5 1116.5,377.8 1117.0,374.8 1117.5,372.4 1118.0,370.9 1118.5,370.2 1119.0,370.4 1119.5,371.5 1120.0,373.4 1120.5,376.0 1121.0,379.2 1121.5,382.8 1122.0,386.7 1122.5,390.6 1123.0,394.4 1123.5,397.9 1124.0,400.9 1124.5,403.3 1125.0,404.9 1125.5,405.7 1126.0,405.5 1126.5,404.5 1127.0,402.6 1127.5,399.9 1128.0,396.6 1128.5,392.7 1129.0,388.4 1129.5,384.0 1130.0,379.5 1130.5,375.3 1131.0,371.5 1131.5,368.2 1132.0,365.7 1132.5,364.0 1133.0,363.1 1133.5,363.2 1134.0,364.3 1134.5,366.2 1135.0,368.8 1135.5,372.1 1136.0,376.0 1136.5,380.1 1137.0,384.3 1137.5,388.5 1138.0,392.4 1138.5,395.9 1139.0,398.7 1139.5,400.7 1140.0,402.0 1140.5,402.2 1141.0,401.6 1141.5,400.1 1142.0,397.7 1142.5,394.6 1143.0,390.8 1143.5,386.7 1144.0,382.3 1144.5,377.9 1145.0,373.6 1145.5,369.7 1146.0,366.3 1146.5,363.6 1147.0,361.7 1147.5,360.7 1148.0,360.6 1148.5,361.5 1149.0,363.3 1149.5,365.9 1150.0,369.2 1150.5,373.0 1151.0,377.3 1151.5,381.7 1152.0,386.0 1152.5,390.2 1153.0,394.0 1153.5,397.1 1154.0,399.6 1154.5,401.2 1155.0,401.9 1155.5,401.7 1156.0,400.6 1156.5,398.5 1157.0,395.8 1157.5,392.3 1158.0,388.4 1158.5,384.2 1159.0,379.9 1159.5,375.7 1160.0,371.8 1160.5,368.4 1161.0,365.6 1161.5,363.5 1162.0,362.3 1162.5,362.1 1163.0,362.7 1163.5,364.3 1164.0,366.7 1164.5,369.9 1165.0,373.6 1165.5,377.8 1166.0,382.2 1166.5,386.6 1167.0,390.9 1167.5,394.8 1168.0,398.2 1168.5,401.0 1169.0,403.0 1169.5,404.1 1170.0,404.3 1170.5,403.5 1171.0,402.0 1171.5,399.6 1172.0,396.6 1172.5,393.0 1173.0,389.1 1173.5,385.0 1174.0,381.0 1174.5,377.1 1175.0,373.7 1175.5,370.8 1176.0,368.7 1176.5,367.3 1177.0,366.9 1177.5,367.3 1178.0,368.6 1178.5,370.7 1179.0,373.6 1179.5,377.1 1180.0,381.1 1180.5,385.4 1181.0,389.7 1181.5,394.0 1182.0,398.0 1182.5,401.6 1183.0,404.5 1183.5,406.8 1184.0,408.2 1184.5,408.8 1185.0,408.5 1185.5,407.3 1186.0,405.4 1186.5,402.8 1187.0,399.6 1187.5,396.1 1188.0,392.3 1188.5,388.5 1189.0,384.9 1189.5,381.5 1190.0,378.7 1190.5,376.4 1191.0,375.0 1191.5,374.3 1192.0,374.4 1192.5,375.5 1193.0,377.3 1193.5,379.8 1194.0,383.0 1194.5,386.7 1195.0,390.7 1195.5,394.9 1196.0,399.0 1196.5,403.0 1197.0,406.6 1197.5,409.7 1198.0,412.1 1198.5,413.8 1199.0,414.7 1199.5,414.8 1200.0,414.1 1200.5,412.6 1201.0,410.5 1201.5,407.7 1202.0,404.6 1202.5,401.2 1203.0,397.7 1203.5,394.2 1204.0,391.0 1204.5,388.2 1205.0,386.0 1205.5,384.4 1206.0,383.5 1206.5,383.4 1207.0,384.1 1207.5,385.6 1208.0,387.8 1208.5,390.6 1209.0,393.9 1209.5,397.6 1210.0,401.5 1210.5,405.5 1211.0,409.3 1211.5,412.8 1212.0,415.9 1212.5,418.5 1213.0,420.4 1213.5,421.6 1214.0,422.0 1214.5,421.7 1215.0,420.6 1215.5,418.9 1216.0,416.6 1216.5,413.9 1217.0,410.9 1217.5,407.7 1218.0,404.5 1218.5,401.5 1219.0,398.8 1219.5,396.6 1220.0,394.9 1220.5,393.8 1221.0,393.5 1221.5,393.9 1222.0,395.0 1222.5,396.8 1223.0,399.3 1223.5,402.2 1224.0,405.5 1224.5,409.1 1225.0,412.7 1225.5,416.3 1226.0,419.7 1226.5,422.8 1227.0,425.4 1227.5,427.5 1228.0,428.8 1228.5,429.6 1229.0,429.6 1229.5,428.9 1230.0,427.6 1230.5,425.7 1231.0,423.4 1231.5,420.7 1232.0,417.9 1232.5,415.0 1233.0,412.2 1233.5,409.6 1234.0,407.4 1234.5,405.7 1235.0,404.5 1235.5,403.9 1236.0,404.1 1236.5,404.8 1237.0,406.3 1237.5,408.3 1238.0,410.8 1238.5,413.7 1239.0,416.9 1239.5,420.3 1240.0,423.6 1240.5,426.8 1241.0,429.8 1241.5,432.4 1242.0,434.5 1242.5,436.0 1243.0,437.0 1243.5,437.3 1244.0,436.9 1244.5,436.0 1245.0,434.5 1245.5,432.6 1246.0,430.3 1246.5,427.7 1247.0,425.1 1247.5,422.5 1248.0,420.0 1248.5,417.9 1249.0,416.1 1249.5,414.8 1250.0,414.1 1250.5,413.9 1251.0,414.4 1251.5,415.4 1252.0,417.1 1252.5,419.2 1253.0,421.7 1253.5,424.5 1254.0,427.5 1254.5,430.6 1255.0,433.6 1255.5,436.5 1256.0,439.0 1256.5,441.1 1257.0,442.8 1257.5,443.9 1258.0,444.4 1258.5,444.3 1259.0,443.7 1259.5,442.5 1260.0,440.9 1260.5,439.0 1261.0,436.7 1261.5,434.3 1262.0,431.9 1262.5,429.6 1263.0,427.5 1263.5,425.7 1264.0,424.3 1264.5,423.3 1265.0,422.9 1265.5,423.1 1266.0,423.8 1266.5,425.1 1267.0,426.8 1267.5,428.9 1268.0,431.4 1268.5,434.1 1269.0,436.9 1269.5,439.7 1270.0,442.3 1270.5,444.8 1271.0,446.9 1271.5,448.6 1272.0,449.8 1272.5,450.5 1273.0,450.7 1273.5,450.3 1274.0,449.5 1274.5,448.1 1275.0,446.4 1275.5,444.5 1276.0,442.3 1276.5,440.0 1277.0,437.8 1277.5,435.7 1278.0,433.9 1278.5,432.4 1279.0,431.3 1279.5,430.7 1280.0,430.6 1280.5,431.0 1281.0,431.9 1281.5,433.2 1282.0,435.0 1282.5,437.1 1283.0,439.5 1283.5,442.0 1284.0,444.6 1284.5,447.1 1285.0,449.4 1285.5,451.5 1286.0,453.3 1286.5,454.6 1287.0,455.4 1287.5,455.8 1288.0,455.6 1288.5,455.0 1289.0,453.9 1289.5,452.5 1290.0,450.7 1290.5,448.7 1291.0,446.6 1291.5,444.4 1292.0,442.4 1292.5,440.5 1293.0,438.9 1293.5,437.6 1294.0,436.8 1294.5,436.4 1295.0,436.5 1295.5,437.1 1296.0,438.1 1296.5,439.6 1297.0,441.4 1297.5,443.4 1298.0,445.7 1298.5,448.1 1299.0,450.4 1299.5,452.7 1300.0,454.7 1300.5,456.5 1301.0,457.9 1301.5,458.9 1302.0,459.4 1302.5,459.4 1303.0,459.0 1303.5,458.1 1304.0,456.9 1304.5,455.3 1305.0,453.4 1305.5,451.4 1306.0,449.3 1306.5,447.2 1307.0,445.3 1307.5,443.6 1308.0,442.1 1308.5,441.1 1309.0,440.4 1309.5,440.2 1310.0,440.5 1310.5,441.2 1311.0,442.4 1311.5,443.9 1312.0,445.7 1312.5,447.7 1313.0,449.9 1313.5,452.1 1314.0,454.3 1314.5,456.3 1315.0,458.1 1315.5,459.6 1316.0,460.7 1316.5,461.4 1317.0,461.6 1317.5,461.3 1318.0,460.7 1318.5,459.6 1319.0,458.1 1319.5,456.4 1320.0,454.4 1320.5,452.3 1321.0,450.2 1321.5,448.2 1322.0,446.4 1322.5,444.7 1323.0,443.5 1323.5,442.5 1324.0,442.1 1324.5,442.0 1325.0,442.5 1325.5,443.3 1326.0,444.5 1326.5,446.1 1327.0,448.0 1327.5,450.0 1328.0,452.1 1328.5,454.2 1329.0,456.3 1329.5,458.1 1330.0,459.6 1330.5,460.9 1331.0,461.7 1331.5,462.1 1332.0,462.0 1332.5,461.5 1333.0,460.6 1333.5,459.2 1334.0,457.6 1334.5,455.7 1335.0,453.6 1335.5,451.4 1336.0,449.3 1336.5,447.3 1337.0,445.5 1337.5,444.0 1338.0,442.8 1338.5,442.0 1339.0,441.7 1339.5,441.8 1340.0,442.4 1340.5,443.3 1341.0,444.7 1341.5,446.4 1342.0,448.3 1342.5,450.3 1343.0,452.4 1343.5,454.4 1344.0,456.4 1344.5,458.0 1345.0,459.4 1345.5,460.4 1346.0,461.0 1346.5,461.1 1347.0,460.8 1347.5,460.0 1348.0,458.8 1348.5,457.2 1349.0,455.3 1349.5,453.2 1350.0,451.0 1350.5,448.7 1351.0,446.5 1351.5,444.5 1352.0,442.7 1352.5,441.3 1353.0,440.2 1353.5,439.6 1354.0,439.4 1354.5,439.6 1355.0,440.4 1355.5,441.5 1356.0,443.0 1356.5,444.8 1357.0,446.8 1357.5,448.9 1358.0,451.0 1358.5,453.0 1359.0,454.8 1359.5,456.3 1360.0,457.5 1360.5,458.3 1361.0,458.7 1361.5,458.5 1362.0,457.9 1362.5,456.8 1363.0,455.3 1363.5,453.5 1364.0,451.4 1364.5,449.1 1365.0,446.7 1365.5,444.3 1366.0,442.1 1366.5,440.0 1367.0,438.2 1367.5,436.8 1368.0,435.9 1368.5,435.4 1369.0,435.3 1369.5,435.8 1370.0,436.7 1370.5,438.0 1371.0,439.7 1371.5,441.7 1372.0,443.8 1372.5,445.9 1373.0,448.1 1373.5,450.1 1374.0,451.8 1374.5,453.3 1375.0,454.3 1375.5,454.9 1376.0,455.0 1376.5,454.5 1377.0,453.6 1377.5,452.3 1378.0,450.5 1378.5,448.4 1379.0,446.0 1379.5,443.5 1380.0,440.9 1380.5,438.4 1381.0,436.0 1381.5,433.9 1382.0,432.2 1382.5,430.9 1383.0,430.0 1383.5,429.7 1384.0,429.9 1384.5,430.6 1385.0,431.7 1385.5,433.2 1386.0,435.1 1386.5,437.3 1387.0,439.5 1387.5,441.8 1388.0,444.0 1388.5,446.0 1389.0,447.7 1389.5,449.0 1390.0,449.9 1390.5,450.3 1391.0,450.1 1391.5,449.4 1392.0,448.2 1392.5,446.5 1393.0,444.4 1393.5,442.0 1394.0,439.4 1394.5,436.6 1395.0,433.8 1395.5,431.2 1396.0,428.7 1396.5,426.6 1397.0,424.9 1397.5,423.7 1398.0,423.0 1398.5,422.9 1399.0,423.3 1399.5,424.2 1400.0,425.6 1400.5,427.4 1401.0,429.6 1401.5,431.9 1402.0,434.4 1402.5,436.8 1403.0,439.0 1403.5,441.0 1404.0,442.7 1404.5,443.9 1405.0,444.6 1405.5,444.8 1406.0,444.3 1406.5,443.3 1407.0,441.8 1407.5,439.8 1408.0,437.4 1408.5,434.6 1409.0,431.7 1409.5,428.7 1410.0,425.8 1410.5,423.0 1411.0,420.5 1411.5,418.4 1412.0,416.8 1412.5,415.7 1413.0,415.2 1413.5,415.3 1414.0,415.9 1414.5,417.2 1415.0,418.9 1415.5,421.0 1416.0,423.4 1416.5,426.0 1417.0,428.6 1417.5,431.2 1418.0,433.5 1418.5,435.5 1419.0,437.1 1419.5,438.2 1420.0,438.7 1420.5,438.6 1421.0,437.9 1421.5,436.6 1422.0,434.7 1422.5,432.3 1423.0,429.6 1423.5,426.5 1424.0,423.3 1424.5,420.1 1425.0,417.0 1425.5,414.1 1426.0,411.6 1426.5,409.5 1427.0,408.0 1427.5,407.1 1428.0,406.8 1428.5,407.2 1429.0,408.2 1429.5,409.7 1430.0,411.8 1430.5,414.2 1431.0,416.9 1431.5,419.7 1432.0,422.5 1432.5,425.2 1433.0,427.6 1433.5,429.7 1434.0,431.2 1434.5,432.1 1435.0,432.4 1435.5,432.1 1436.0,431.0 1436.5,429.4 1437.0,427.1 1437.5,424.4 1438.0,421.3 1438.5,417.9 1439.0,414.5 1439.5,411.0 1440.0,407.8 1440.5,404.8 1441.0,402.3 1441.5,400.3 1442.0,398.9 1442.5,398.2 1443.0,398.2 1443.5,398.9 1444.0,400.2 1444.5,402.2 1445.0,404.5 1445.5,407.3 1446.0,410.3" fill="none" stroke="#F14040" stroke-width="5" stroke-linejoin="round" stroke-linecap="butt"/>
<path d="M201.0,588.5 201.5,588.1 202.0,587.0 202.5,585.2 203.0,582.9 203.5,580.2 204.0,577.1 204.5,574.0 205.0,570.9 205.5,568.0 206.0,565.4 206.5,563.3 207.0,561.8 207.5,561.0 208.0,560.8 208.5,561.4 209.0,562.7 209.5,564.6 210.0,567.1 210.5,570.0 211.0,573.3 211.5,576.7 212.0,580.1 212.5,583.3 213.0,586.3 213.5,588.8 214.0,590.7 214.5,592.1 215.0,592.8 215.5,592.8 216.0,592.0 216.5,590.7 217.0,588.8 217.5,586.5 218.0,583.8 218.5,580.9 219.0,578.0 219.5,575.2 220.0,572.7 220.5,570.5 221.0,568.8 221.5,567.7 222.0,567.3 222.5,567.5 223.0,568.4 223.5,569.9 224.0,572.0 224.5,574.5 225.0,577.4 225.5,580.5 226.0,583.7 226.5,586.8 227.0,589.7 227.5,592.3 228.0,594.4 228.5,595.9 229.0,596.9 229.5,597.2 230.0,596.9 230.5,595.9 231.0,594.4 231.5,592.5 232.0,590.1 232.5,587.6 233.0,584.9 233.5,582.2 234.0,579.7 234.5,577.5 235.0,575.7 235.5,574.5 236.0,573.8 236.5,573.6 237.0,574.2 237.5,575.3 238.0,576.9 238.5,579.1 239.0,581.6 239.5,584.4 240.0,587.3 240.5,590.3 241.0,593.1 241.5,595.6 242.0,597.8 242.5,599.5 243.0,600.7 243.5,601.3 244.0,601.4 244.5,600.8 245.0,599.7 245.5,598.1 246.0,596.1 246.5,593.8 247.0,591.3 247.5,588.9 248.0,586.5 248.5,584.3 249.0,582.4 249.5,581.0 250.0,580.0 250.5,579.6 251.0,579.8 251.5,580.5 252.0,581.8 252.5,583.6 253.0,585.8 253.5,588.2 254.0,590.9 254.5,593.6 255.0,596.3 255.5,598.8 256.0,601.0 256.5,602.9 257.0,604.2 257.5,605.1 258.0,605.4 258.5,605.1 259.0,604.4 259.5,603.1 260.0,601.4 260.5,599.5 261.0,597.2 261.5,594.9 262.0,592.6 262.5,590.5 263.0,588.6 263.5,587.0 264.0,585.9 264.5,585.2 265.0,585.1 265.5,585.5 266.0,586.4 266.5,587.8 267.0,589.6 267.5,591.8 268.0,594.1 268.5,596.7 269.0,599.2 269.5,601.6 270.0,603.8 270.5,605.7 271.0,607.2 271.5,608.3 272.0,608.8 272.5,608.9 273.0,608.4 273.5,607.5 274.0,606.1 274.5,604.4 275.0,602.4 275.5,600.3 276.0,598.1 276.5,596.0 277.0,594.1 277.5,592.4 278.0,591.1 278.5,590.2 279.0,589.8 279.5,589.9 280.0,590.4 280.5,591.5 281.0,593.0 281.5,594.8 282.0,596.9 282.5,599.2 283.0,601.5 283.5,603.8 284.0,606.0 284.5,607.9 285.0,609.6 285.5,610.8 286.0,611.5 286.5,611.8 287.0,611.7 287.5,611.0 288.0,609.9 288.5,608.4 289.0,606.7 289.5,604.7 290.0,602.7 290.5,600.6 291.0,598.7 291.5,596.9 292.0,595.4 292.5,594.3 293.0,593.7 293.5,593.4 294.0,593.7 294.5,594.4 295.0,595.5 295.5,597.1 296.0,598.9 296.5,600.9 297.0,603.1 297.5,605.3 298.0,607.4 298.5,609.4 299.0,611.1 299.5,612.4 300.0,613.4 300.5,613.9 301.0,614.0 301.5,613.6 302.0,612.7 302.5,611.5 303.0,610.0 303.5,608.2 304.0,606.2 304.5,604.2 305.0,602.2 305.5,600.4 306.0,598.8 306.5,597.5 307.0,596.5 307.5,596.0 308.0,595.9 308.5,596.3 309.0,597.2 309.5,598.4 310.0,599.9 310.5,601.7 311.0,603.7 311.5,605.8 312.0,607.9 312.5,609.9 313.0,611.6 313.5,613.1 314.0,614.3 314.5,615.0 315.0,615.3 315.5,615.1 316.0,614.5 316.5,613.5 317.0,612.1 317.5,610.5 318.0,608.6 318.5,606.6 319.0,604.6 319.5,602.7 320.0,600.9 320.5,599.4 321.0,598.2 321.5,597.4 322.0,597.0 322.5,597.1 323.0,597.6 323.5,598.5 324.0,599.8 324.5,601.4 325.0,603.3 325.5,605.2 326.0,607.3 326.5,609.2 327.0,611.1 327.5,612.7 328.0,614.0 328.5,614.9 329.0,615.4 329.5,615.5 330.0,615.1 330.5,614.3 331.0,613.1 331.5,611.6 332.0,609.8 332.5,607.8 333.0,605.8 333.5,603.7 334.0,601.8 334.5,600.1 335.0,598.6 335.5,597.5 336.0,596.9 336.5,596.6 337.0,596.8 337.5,597.4 338.0,598.4 338.5,599.8 339.0,601.5 339.5,603.4 340.0,605.4 340.5,607.4 341.0,609.3 341.5,611.0 342.0,612.5 342.5,613.6 343.0,614.4 343.5,614.7 344.0,614.5 344.5,613.9 345.0,612.9 345.5,611.5 346.0,609.8 346.5,607.8 347.0,605.7 347.5,603.6 348.0,601.5 348.5,599.5 349.0,597.8 349.5,596.4 350.0,595.4 350.5,594.8 351.0,594.6 351.5,595.0 352.0,595.7 352.5,596.9 353.0,598.4 353.5,600.2 354.0,602.1 354.5,604.1 355.0,606.1 355.5,608.0 356.0,609.7 356.5,611.1 357.0,612.1 357.5,612.6 358.0,612.8 358.5,612.4 359.0,611.6 359.5,610.3 360.0,608.7 360.5,606.7 361.0,604.6 361.5,602.3 362.0,600.0 362.5,597.8 363.0,595.8 363.5,594.1 364.0,592.7 364.5,591.7 365.0,591.2 365.5,591.2 366.0,591.7 366.5,592.6 367.0,593.9 367.5,595.6 368.0,597.5 368.5,599.5 369.0,601.7 369.5,603.7 370.0,605.6 370.5,607.3 371.0,608.5 371.5,609.4 372.0,609.8 372.5,609.7 373.0,609.1 373.5,608.0 374.0,606.5 374.5,604.6 375.0,602.4 375.5,600.0 376.0,597.6 376.5,595.1 377.0,592.8 377.5,590.7 378.0,588.9 378.5,587.5 379.0,586.6 379.5,586.3 380.0,586.4 380.5,587.0 381.0,588.1 381.5,589.7 382.0,591.5 382.5,593.6 383.0,595.9 383.5,598.1 384.0,600.3 384.5,602.2 385.0,603.8 385.5,605.0 386.0,605.8 386.5,606.0 387.0,605.7 387.5,604.8 388.0,603.5 388.5,601.7 389.0,599.5 389.5,597.0 390.0,594.3 390.5,591.6 391.0,589.0 391.5,586.5 392.0,584.3 392.5,582.5 393.0,581.2 393.5,580.4 394.0,580.1 394.5,580.4 395.0,581.3 395.5,582.7 396.0,584.4 396.5,586.5 397.0,588.9 397.5,591.3 398.0,593.7 398.5,596.0 399.0,598.0 399.5,599.6 400.0,600.7 400.5,601.4 401.0,601.4 401.5,600.9 402.0,599.7 402.5,598.1 403.0,595.9 403.5,593.4 404.0,590.6 404.5,587.7 405.0,584.7 405.5,581.8 406.0,579.2 406.5,577.0 407.0,575.2 407.5,573.9 408.0,573.2 408.5,573.1 409.0,573.7 409.5,574.8 410.0,576.4 410.5,578.5 411.0,580.9 411.5,583.5 412.0,586.2 412.5,588.8 413.0,591.2 413.5,593.2 414.0,594.9 414.5,595.9 415.0,596.4 415.5,596.3 416.0,595.5 416.5,594.0 417.0,592.0 417.5,589.6 418.0,586.7 418.5,583.6 419.0,580.3 419.5,577.1 420.0,574.1 420.5,571.3 421.0,569.0 421.5,567.2 422.0,566.0 422.5,565.5 423.0,565.7 423.5,566.5 424.0,567.9 424.5,569.9 425.0,572.3 425.5,575.0 426.0,577.9 426.5,580.8 427.0,583.6 427.5,586.2 428.0,588.3 428.5,589.9 429.0,590.9 429.5,591.2 430.0,590.9 430.5,589.8 431.0,588.0 431.5,585.7 432.0,582.9 432.5,579.7 433.0,576.2 433.5,572.7 434.0,569.3 434.5,566.1 435.0,563.2 435.5,560.9 436.0,559.2 436.5,558.1 437.0,557.8 437.5,558.2 438.0,559.3 438.5,561.1 439.0,563.4 439.5,566.2 440.0,569.3 440.5,572.5 441.0,575.7 441.5,578.7 442.0,581.3 442.5,583.5 443.0,585.1 443.5,586.0 444.0,586.1 444.5,585.5 445.0,584.2 445.5,582.1 446.0,579.4 446.5,576.3 447.0,572.7 447.5,569.0 448.0,565.2 448.5,561.6 449.0,558.3 449.5,555.4 450.0,553.1 450.5,551.5 451.0,550.6 451.5,550.6 452.0,551.3 452.5,552.8 453.0,554.9 453.5,557.6 454.0,560.8 454.5,564.2 455.0,567.7 455.5,571.1 456.0,574.3 456.5,577.0 457.0,579.2 457.5,580.8 458.0,581.5 458.5,581.5 459.0,580.6 459.5,579.0 460.0,576.6 460.5,573.7 461.0,570.2 461.5,566.4 462.0,562.4 462.5,558.5 463.0,554.7 463.5,551.3 464.0,548.5 464.5,546.3 465.0,544.8 465.5,544.2 466.0,544.5 466.5,545.5 467.0,547.3 467.5,549.9 468.0,552.9 468.5,556.4 469.0,560.1 469.5,563.9 470.0,567.5 470.5,570.8 471.0,573.6 471.5,575.8 472.0,577.3 472.5,577.9 473.0,577.7 473.5,576.6 474.0,574.7 474.5,572.1 475.0,568.8 475.5,565.1 476.0,561.1 476.5,557.0 477.0,552.9 477.5,549.1 478.0,545.8 478.5,543.0 479.0,541.0 479.5,539.8 480.0,539.5 480.5,540.0 481.0,541.4 481.5,543.6 482.0,546.5 482.5,549.9 483.0,553.6 483.5,557.6 484.0,561.6 484.5,565.3 485.0,568.7 485.5,571.5 486.0,573.7 486.5,575.0 487.0,575.5 487.5,575.1 488.0,573.8 488.5,571.7 489.0,568.8 489.5,565.4 490.0,561.5 490.5,557.4 491.0,553.2 491.5,549.2 492.0,545.5 492.5,542.3 493.0,539.7 493.5,537.9 494.0,537.0 494.5,537.0 495.0,537.8 495.5,539.6 496.0,542.1 496.5,545.2 497.0,548.9 497.5,552.9 498.0,557.0 498.5,561.1 499.0,564.9 499.5,568.3 500.0,571.0 500.5,573.1 501.0,574.3 501.5,574.6 502.0,574.0 502.5,572.6 503.0,570.3 503.5,567.4 504.0,563.9 504.5,560.0 505.0,555.9 505.5,551.8 506.0,547.9 506.5,544.3 507.0,541.4 507.5,539.1 508.0,537.6 508.5,537.0 509.0,537.3 509.5,538.5 510.0,540.5 510.5,543.3 511.0,546.6 511.5,550.5 512.0,554.6 512.5,558.8 513.0,562.8 513.5,566.6 514.0,569.9 514.5,572.5 515.0,574.4 515.5,575.5 516.0,575.7 516.5,575.0 517.0,573.4 517.5,571.1 518.0,568.2 518.5,564.7 519.0,560.9 519.5,557.0 520.0,553.1 520.5,549.5 521.0,546.3 521.5,543.6 522.0,541.7 522.5,540.6 523.0,540.3 523.5,540.9 524.0,542.4 524.5,544.6 525.0,547.5 525.5,551.0 526.0,554.9 526.5,559.0 527.0,563.1 527.5,567.0 528.0,570.6 528.5,573.8 529.0,576.2 529.5,578.0 530.0,578.9 530.5,578.9 531.0,578.2 531.5,576.6 532.0,574.4 532.5,571.6 533.0,568.3 533.5,564.8 534.0,561.2 534.5,557.7 535.0,554.5 535.5,551.7 536.0,549.5 536.5,548.0 537.0,547.2 537.5,547.3 538.0,548.2 538.5,549.8 539.0,552.2 539.5,555.2 540.0,558.6 540.5,562.4 541.0,566.4 541.5,570.3 542.0,574.0 542.5,577.3 543.0,580.2 543.5,582.4 544.0,584.0 544.5,584.8 545.0,584.8 545.5,584.0 546.0,582.6 546.5,580.5 547.0,578.0 547.5,575.1 548.0,572.0 548.5,568.9 549.0,565.9 549.5,563.2 550.0,561.0 550.5,559.3 551.0,558.2 551.5,557.9 552.0,558.2 552.5,559.3 553.0,561.1 553.5,563.5 554.0,566.4 554.5,569.7 555.0,573.3 555.5,576.9 556.0,580.5 556.5,583.8 557.0,586.8 557.5,589.4 558.0,591.3 558.5,592.7 559.0,593.4 559.5,593.4 560.0,592.7 560.5,591.5 561.0,589.8 561.5,587.7 562.0,585.3 562.5,582.8 563.0,580.3 563.5,578.0 564.0,576.0 564.5,574.3 565.0,573.2 565.5,572.6 566.0,572.6 566.5,573.2 567.0,574.5 567.5,576.3 568.0,578.6 568.5,581.3 569.0,584.3 569.5,587.4 570.0,590.6 570.5,593.8 571.0,596.7 571.5,599.2 572.0,601.4 572.5,603.1 573.0,604.3 573.5,604.9 574.0,605.0 574.5,604.5 575.0,603.7 575.5,602.4 576.0,600.9 576.5,599.1 577.0,597.3 577.5,595.6 578.0,594.0 578.5,592.7 579.0,591.7 579.5,591.1 580.0,591.0 580.5,591.4 581.0,592.2 581.5,593.5 582.0,595.3 582.5,597.4 583.0,599.7 583.5,602.3 584.0,605.0 584.5,607.6 585.0,610.2 585.5,612.5 586.0,614.6 586.5,616.4 587.0,617.8 587.5,618.9 588.0,619.5 588.5,619.7 589.0,619.6 589.5,619.1 590.0,618.4 590.5,617.5 591.0,616.6 591.5,615.6 592.0,614.7 592.5,613.9 593.0,613.4 593.5,613.0 594.0,613.0 594.5,613.4 595.0,614.0 595.5,615.0 596.0,616.3 596.5,617.8 597.0,619.6 597.5,621.6 598.0,623.6 598.5,625.7 599.0,627.7 599.5,629.6 600.0,631.4 600.5,633.0 601.0,634.4 601.5,635.6 602.0,636.5 602.5,637.1 603.0,637.6 603.5,637.8 604.0,637.9 604.5,637.8 605.0,637.7 605.5,637.6 606.0,637.4 606.5,637.4 607.0,637.4 607.5,637.6 608.0,638.0 608.5,638.5 609.0,639.2 609.5,640.1 610.0,641.2 610.5,642.4 611.0,643.6 611.5,645.0 612.0,646.5 612.5,647.9 613.0,649.3 613.5,650.7 614.0,652.0 614.5,653.2 615.0,654.4 615.5,655.4 616.0,656.3 616.5,657.1 617.0,657.9 617.5,658.6 618.0,659.2 618.5,659.9 619.0,660.5 619.5,661.1 620.0,661.8 620.5,662.6 621.0,663.3 621.5,664.2 622.0,665.1 622.5,666.1 623.0,667.1 623.5,668.1 624.0,669.1 624.5,670.2 625.0,671.2 625.5,672.2 626.0,673.1 626.5,674.0 627.0,674.8 627.5,675.6 628.0,676.4 628.5,677.0 629.0,677.7 629.5,678.4 630.0,679.1 630.5,679.8 631.0,680.6 631.5,681.5 632.0,682.5 632.5,683.6 633.0,684.8 633.5,686.1 634.0,687.5 634.5,689.0 635.0,690.5 635.5,692.1 636.0,693.6 636.5,695.2 637.0,696.7 637.5,698.0 638.0,699.3 638.5,700.5 639.0,701.4 639.5,702.2 640.0,702.9 640.5,703.4 641.0,703.7 641.5,704.0 642.0,704.2 642.5,704.3 643.0,704.4 643.5,704.6 644.0,704.9 644.5,705.4 645.0,706.0 645.5,706.8 646.0,707.8 646.5,709.1 647.0,710.6 647.5,712.3 648.0,714.2 648.5,716.3 649.0,718.4 649.5,720.7 650.0,722.9 650.5,725.1 651.0,727.1 651.5,729.0 652.0,730.7 652.5,732.1 653.0,733.3 653.5,734.2 654.0,734.8 654.5,735.1 655.0,735.2 655.5,735.0 656.0,734.8 656.5,734.4 657.0,734.1 657.5,733.8 658.0,733.6 658.5,733.6 659.0,733.8 659.5,734.3 660.0,735.2 660.5,736.4 661.0,737.9 661.5,739.8 662.0,741.9 662.5,744.3 663.0,746.9 663.5,749.6 664.0,752.4 664.5,755.1 665.0,757.7 665.5,760.2 666.0,762.4 666.5,764.2 667.0,765.7 667.5,766.9 668.0,767.6 668.5,768.0 669.0,768.1 669.5,767.8 670.0,767.3 670.5,766.6 671.0,765.9 671.5,765.1 672.0,764.5 672.5,764.0 673.0,763.8 673.5,764.0 674.0,764.4 674.5,765.3 675.0,766.7 675.5,768.4 676.0,770.5 676.5,773.0 677.0,775.7 677.5,778.7 678.0,781.8 678.5,784.9 679.0,788.0 679.5,790.9 680.0,793.5 680.5,795.8 681.0,797.8 681.5,799.3 682.0,800.4 682.5,801.0 683.0,801.2 683.5,801.1 684.0,800.6 684.5,799.8 685.0,798.9 685.5,797.9 686.0,796.9 686.5,796.0 687.0,795.4 687.5,795.1 688.0,795.2 688.5,795.7 689.0,796.6 689.5,798.0 690.0,799.9 690.5,802.1 691.0,804.8 691.5,807.7 692.0,810.9 692.5,814.1 693.0,817.4 693.5,820.6 694.0,823.6 694.5,826.3 695.0,828.6 695.5,830.6 696.0,832.1 696.5,833.1 697.0,833.6 697.5,833.7 698.0,833.4 698.5,832.7 699.0,831.8 699.5,830.8 700.0,829.7 700.5,828.6 701.0,827.7 701.5,827.0 702.0,826.7 702.5,826.8 703.0,827.3 703.5,828.2 704.0,829.7 704.5,831.6 705.0,833.9 705.5,836.5 706.0,839.5 706.5,842.6 707.0,845.9 707.5,849.1 708.0,852.2 708.5,855.1 709.0,857.7 709.5,860.0 710.0,861.8 710.5,863.2 711.0,864.1 711.5,864.6 712.0,864.6 712.5,864.2 713.0,863.5 713.5,862.6 714.0,861.6 714.5,860.5 715.0,859.5 715.5,858.7 716.0,858.1 716.5,857.8 717.0,857.9 717.5,858.4 718.0,859.4 718.5,860.8 719.0,862.6 719.5,864.8 720.0,867.4 720.5,870.2 721.0,873.1 721.5,876.1 722.0,879.1 722.5,882.0 723.0,884.7 723.5,887.1 724.0,889.2 724.5,890.8 725.0,892.0 725.5,892.9 726.0,893.3 726.5,893.3 727.0,892.9 727.5,892.3 728.0,891.6 728.5,890.7 729.0,889.7 729.5,888.9 730.0,888.2 730.5,887.7 731.0,887.5 731.5,887.7 732.0,888.2 732.5,889.2 733.0,890.5 733.5,892.2 734.0,894.2 734.5,896.5 735.0,898.9 735.5,901.5 736.0,904.2 736.5,906.8 737.0,909.3 737.5,911.7 738.0,913.7 738.5,915.5 739.0,916.9 739.5,918.0 740.0,918.7 740.5,919.1 741.0,919.1 741.5,918.9 742.0,918.5 742.5,917.9 743.0,917.2 743.5,916.5 744.0,915.9 744.5,915.4 745.0,915.1 745.5,915.0 746.0,915.3 746.5,915.8 747.0,916.7 747.5,917.8 748.0,919.3 748.5,921.0 749.0,922.9 749.5,925.0 750.0,927.1 750.5,929.3 751.0,931.5 751.5,933.5 752.0,935.4 752.5,937.1 753.0,938.5 753.5,939.7 754.0,940.6 754.5,941.2 755.0,941.5 755.5,941.6 756.0,941.5 756.5,941.3 757.0,940.9 757.5,940.5 758.0,940.1 758.5,939.7 759.0,939.4 759.5,939.3 760.0,939.4 760.5,939.7 761.0,940.2 761.5,941.0 762.0,941.9 762.5,943.1 763.0,944.5 763.5,946.0 764.0,947.5 764.5,949.2 765.0,950.9 765.5,952.5 766.0,954.0 766.5,955.4 767.0,956.7 767.5,957.8 768.0,958.7 768.5,959.4 769.0,959.9 769.5,960.2 770.0,960.4 770.5,960.4 771.0,960.3 771.5,960.2 772.0,960.0 772.5,959.8 773.0,959.7 773.5,959.6 774.0,959.7 774.5,959.9 775.0,960.2 775.5,960.6 776.0,961.2 776.5,962.0 777.0,962.8 777.5,963.8 778.0,964.9 778.5,966.0 779.0,967.1 779.5,968.2 780.0,969.3 780.5,970.4 781.0,971.3 781.5,972.2 782.0,972.9 782.5,973.6 783.0,974.1 783.5,974.5 784.0,974.7 784.5,974.9 785.0,975.0 785.5,975.1 786.0,975.1 786.5,975.1 787.0,975.2 787.5,975.2 788.0,975.3 788.5,975.4 789.0,975.7 789.5,976.0 790.0,976.3 790.5,976.8 791.0,977.3 791.5,977.8 792.0,978.4 792.5,979.1 793.0,979.7 793.5,980.4 794.0,981.1 794.5,981.7 795.0,982.3 795.5,982.8 796.0,983.3 796.5,983.7 797.0,984.1 797.5,984.4 798.0,984.7 798.5,984.9 799.0,985.1 799.5,985.2 800.0,985.3 800.5,985.4 801.0,985.6 801.5,985.7 802.0,985.8 802.5,985.9 803.0,986.1 803.5,986.3 804.0,986.5 804.5,986.7 805.0,987.0 805.5,987.3 806.0,987.5 806.5,987.8 807.0,988.1 807.5,988.4 808.0,988.7 808.5,989.0 809.0,989.2 809.5,989.4 810.0,989.7 810.5,989.8 811.0,990.0 811.5,990.2 812.0,990.3 812.5,990.4 813.0,990.5 813.5,990.6 814.0,990.7 814.5,990.8 815.0,990.9 815.5,991.0 816.0,991.0 816.5,991.1 817.0,991.2 817.5,991.3 818.0,991.3 818.5,991.4 819.0,991.5 819.5,991.5 820.0,991.6 820.5,991.6 821.0,991.7 821.5,991.7 822.0,991.7 822.5,991.7 823.0,991.7 823.5,991.7 824.0,991.7 824.5,991.7 825.0,991.7 825.5,991.7 826.0,991.7 826.5,991.6 827.0,991.6 827.5,991.6 828.0,991.5 828.5,991.5 829.0,991.4 829.5,991.3 830.0,991.2 830.5,991.1 831.0,991.0 831.5,990.9 832.0,990.8 832.5,990.6 833.0,990.5 833.5,990.4 834.0,990.2 834.5,990.1 835.0,989.9 835.5,989.8 836.0,989.7 836.5,989.5 837.0,989.4 837.5,989.3 838.0,989.2 838.5,989.1 839.0,989.0 839.5,988.9 840.0,988.7 840.5,988.6 841.0,988.4 841.5,988.2 842.0,988.0 842.5,987.7 843.0,987.4 843.5,987.1 844.0,986.8 844.5,986.4 845.0,986.0 845.5,985.5 846.0,985.1 846.5,984.7 847.0,984.2 847.5,983.8 848.0,983.5 848.5,983.1 849.0,982.8 849.5,982.5 850.0,982.3 850.5,982.1 851.0,981.9 851.5,981.8 852.0,981.7 852.5,981.7 853.0,981.6 853.5,981.5 854.0,981.4 854.5,981.2 855.0,981.0 855.5,980.7 856.0,980.3 856.5,979.9 857.0,979.4 857.5,978.8 858.0,978.1 858.5,977.4 859.0,976.6 859.5,975.7 860.0,974.9 860.5,974.0 861.0,973.2 861.5,972.4 862.0,971.7 862.5,971.0 863.0,970.5 863.5,970.0 864.0,969.6 864.5,969.4 865.0,969.2 865.5,969.2 866.0,969.1 866.5,969.2 867.0,969.2 867.5,969.3 868.0,969.3 868.5,969.3 869.0,969.2 869.5,968.9 870.0,968.6 870.5,968.1 871.0,967.4 871.5,966.6 872.0,965.6 872.5,964.6 873.0,963.4 873.5,962.1 874.0,960.8 874.5,959.4 875.0,958.1 875.5,956.8 876.0,955.6 876.5,954.5 877.0,953.6 877.5,952.8 878.0,952.2 878.5,951.8 879.0,951.6 879.5,951.5 880.0,951.5 880.5,951.7 881.0,952.0 881.5,952.2 882.0,952.5 882.5,952.7 883.0,952.8 883.5,952.8 884.0,952.6 884.5,952.2 885.0,951.6 885.5,950.7 886.0,949.6 886.5,948.3 887.0,946.8 887.5,945.2 888.0,943.4 888.5,941.5 889.0,939.6 889.5,937.8 890.0,936.0 890.5,934.4 891.0,932.9 891.5,931.7 892.0,930.7 892.5,930.0 893.0,929.6 893.5,929.4 894.0,929.4 894.5,929.6 895.0,930.0 895.5,930.5 896.0,931.1 896.5,931.6 897.0,932.0 897.5,932.3 898.0,932.5 898.5,932.3 899.0,931.9 899.5,931.2 900.0,930.1 900.5,928.8 901.0,927.2 901.5,925.3 902.0,923.1 902.5,920.9 903.0,918.5 903.5,916.1 904.0,913.8 904.5,911.6 905.0,909.5 905.5,907.7 906.0,906.2 906.5,905.1 907.0,904.2 907.5,903.7 908.0,903.6 908.5,903.7 909.0,904.1 909.5,904.7 910.0,905.5 910.5,906.3 911.0,907.0 911.5,907.7 912.0,908.2 912.5,908.4 913.0,908.4 913.5,908.0 914.0,907.2 914.5,906.0 915.0,904.5 915.5,902.6 916.0,900.4 916.5,897.9 917.0,895.2 917.5,892.4 918.0,889.6 918.5,886.8 919.0,884.2 919.5,881.8 920.0,879.8 920.5,878.0 921.0,876.6 921.5,875.7 922.0,875.2 922.5,875.0 923.0,875.2 923.5,875.8 924.0,876.5 924.5,877.4 925.0,878.4 925.5,879.4 926.0,880.3 926.5,880.9 927.0,881.3 927.5,881.3 928.0,880.9 928.5,880.1 929.0,878.9 929.5,877.2 930.0,875.1 930.5,872.7 931.0,869.9 931.5,867.0 932.0,863.9 932.5,860.8 933.0,857.7 933.5,854.8 934.0,852.2 934.5,849.8 935.0,847.9 935.5,846.4 936.0,845.3 936.5,844.7 937.0,844.6 937.5,844.8 938.0,845.4 938.5,846.2 939.0,847.2 939.5,848.3 940.0,849.4 940.5,850.3 941.0,851.1 941.5,851.5 942.0,851.6 942.5,851.2 943.0,850.4 943.5,849.2 944.0,847.4 944.5,845.3 945.0,842.7 945.5,839.9 946.0,836.8 946.5,833.6 947.0,830.3 947.5,827.1 948.0,824.1 948.5,821.3 949.0,818.9 949.5,816.8 950.0,815.2 950.5,814.1 951.0,813.4 951.5,813.2 952.0,813.3 952.5,813.9 953.0,814.6 953.5,815.6 954.0,816.7 954.5,817.7 955.0,818.7 955.5,819.4 956.0,819.8 956.5,819.9 957.0,819.6 957.5,818.8 958.0,817.6 958.5,815.9 959.0,813.7 959.5,811.2 960.0,808.4 960.5,805.4 961.0,802.2 961.5,799.0 962.0,795.9 962.5,792.9 963.0,790.1 963.5,787.7 964.0,785.6 964.5,784.0 965.0,782.8 965.5,782.0 966.0,781.6 966.5,781.7 967.0,782.1 967.5,782.7 968.0,783.5 968.5,784.4 969.0,785.3 969.5,786.1 970.0,786.7 970.5,787.0 971.0,787.0 971.5,786.7 972.0,785.9 972.5,784.7 973.0,783.1 973.5,781.1 974.0,778.8 974.5,776.2 975.0,773.4 975.5,770.5 976.0,767.5 976.5,764.6 977.0,761.8 977.5,759.3 978.0,757.0 978.5,755.0 979.0,753.4 979.5,752.2 980.0,751.3 980.5,750.9 981.0,750.7 981.5,750.9 982.0,751.2 982.5,751.7 983.0,752.3 983.5,752.9 984.0,753.4 984.5,753.8 985.0,753.9 985.5,753.7 986.0,753.3 986.5,752.5 987.0,751.4 987.5,750.0 988.0,748.2 988.5,746.2 989.0,743.9 989.5,741.5 990.0,739.0 990.5,736.5 991.0,734.0 991.5,731.6 992.0,729.4 992.5,727.4 993.0,725.6 993.5,724.2 994.0,723.0 994.5,722.1 995.0,721.5 995.5,721.1 996.0,721.0 996.5,721.0 997.0,721.1 997.5,721.2 998.0,721.4 998.5,721.5 999.0,721.5 999.5,721.3 1000.0,720.9 1000.5,720.3 1001.0,719.5 1001.5,718.4 1002.0,717.1 1002.5,715.6 1003.0,714.0 1003.5,712.2 1004.0,710.3 1004.5,708.4 1005.0,706.4 1005.5,704.5 1006.0,702.7 1006.5,701.0 1007.0,699.5 1007.5,698.1 1008.0,696.8 1008.5,695.8 1009.0,694.9 1009.5,694.2 1010.0,693.6 1010.5,693.1 1011.0,692.7 1011.5,692.3 1012.0,691.9 1012.5,691.5 1013.0,691.1 1013.5,690.6 1014.0,690.0 1014.5,689.3 1015.0,688.5 1015.5,687.5 1016.0,686.5 1016.5,685.4 1017.0,684.2 1017.5,683.0 1018.0,681.7 1018.5,680.4 1019.0,679.2 1019.5,678.0 1020.0,676.8 1020.5,675.7 1021.0,674.6 1021.5,673.6 1022.0,672.7 1022.5,671.8 1023.0,671.0 1023.5,670.1 1024.0,669.3 1024.5,668.5 1025.0,667.7 1025.5,666.9 1026.0,666.0 1026.5,665.0 1027.0,664.0 1027.5,663.0 1028.0,661.9 1028.5,660.8 1029.0,659.7 1029.5,658.6 1030.0,657.5 1030.5,656.5 1031.0,655.5 1031.5,654.6 1032.0,653.8 1032.5,653.1 1033.0,652.5 1033.5,651.9 1034.0,651.5 1034.5,651.1 1035.0,650.8 1035.5,650.5 1036.0,650.1 1036.5,649.8 1037.0,649.3 1037.5,648.8 1038.0,648.1 1038.5,647.3 1039.0,646.4 1039.5,645.2 1040.0,644.0 1040.5,642.6 1041.0,641.0 1041.5,639.4 1042.0,637.8 1042.5,636.1 1043.0,634.4 1043.5,632.9 1044.0,631.4 1044.5,630.1 1045.0,629.0 1045.5,628.1 1046.0,627.4 1046.5,627.0 1047.0,626.8 1047.5,626.9 1048.0,627.1 1048.5,627.4 1049.0,627.9 1049.5,628.4 1050.0,628.9 1050.5,629.3 1051.0,629.5 1051.5,629.6 1052.0,629.4 1052.5,629.0 1053.0,628.3 1053.5,627.3 1054.0,625.9 1054.5,624.3 1055.0,622.4 1055.5,620.4 1056.0,618.2 1056.5,615.9 1057.0,613.6 1057.5,611.4 1058.0,609.3 1058.5,607.5 1059.0,605.9 1059.5,604.7 1060.0,603.8 1060.5,603.3 1061.0,603.2 1061.5,603.5 1062.0,604.1 1062.5,605.0 1063.0,606.1 1063.5,607.4 1064.0,608.7 1064.5,610.0 1065.0,611.1 1065.5,612.1 1066.0,612.7 1066.5,613.0 1067.0,612.9 1067.5,612.3 1068.0,611.3 1068.5,609.8 1069.0,608.0 1069.5,605.7 1070.0,603.2 1070.5,600.5 1071.0,597.6 1071.5,594.8 1072.0,592.0 1072.5,589.5 1073.0,587.2 1073.5,585.4 1074.0,583.9 1074.5,583.0 1075.0,582.6 1075.5,582.8 1076.0,583.4 1076.5,584.5 1077.0,586.0 1077.5,587.8 1078.0,589.8 1078.5,591.9 1079.0,593.9 1079.5,595.8 1080.0,597.4 1080.5,598.7 1081.0,599.4 1081.5,599.7 1082.0,599.4 1082.5,598.5 1083.0,597.0 1083.5,595.0 1084.0,592.5 1084.5,589.6 1085.0,586.5 1085.5,583.2 1086.0,579.8 1086.5,576.6 1087.0,573.6 1087.5,571.0 1088.0,568.8 1088.5,567.1 1089.0,566.1 1089.5,565.7 1090.0,566.0 1090.5,566.9 1091.0,568.4 1091.5,570.4 1092.0,572.7 1092.5,575.3 1093.0,578.0 1093.5,580.8 1094.0,583.3 1094.5,585.6 1095.0,587.4 1095.5,588.7 1096.0,589.3 1096.5,589.3 1097.0,588.6 1097.5,587.3 1098.0,585.2 1098.5,582.6 1099.0,579.6 1099.5,576.1 1100.0,572.5 1100.5,568.8 1101.0,565.1 1101.5,561.8 1102.0,558.8 1102.5,556.3 1103.0,554.4 1103.5,553.2 1104.0,552.8 1104.5,553.1 1105.0,554.1 1105.5,555.8 1106.0,558.1 1106.5,560.9 1107.0,564.0 1107.5,567.2 1108.0,570.5 1108.5,573.6 1109.0,576.4 1109.5,578.8 1110.0,580.6 1110.5,581.7 1111.0,582.0 1111.5,581.6 1112.0,580.4 1112.5,578.5 1113.0,575.9 1113.5,572.8 1114.0,569.2 1114.5,565.4 1115.0,561.4 1115.5,557.5 1116.0,553.8 1116.5,550.6 1117.0,547.8 1117.5,545.7 1118.0,544.3 1118.5,543.8 1119.0,544.0 1119.5,545.1 1120.0,546.9 1120.5,549.3 1121.0,552.3 1121.5,555.7 1122.0,559.4 1122.5,563.0 1123.0,566.6 1123.5,569.9 1124.0,572.7 1124.5,575.0 1125.0,576.5 1125.5,577.2 1126.0,577.2 1126.5,576.3 1127.0,574.5 1127.5,572.1 1128.0,569.0 1128.5,565.5 1129.0,561.6 1129.5,557.5 1130.0,553.4 1130.5,549.6 1131.0,546.1 1131.5,543.1 1132.0,540.8 1132.5,539.2 1133.0,538.5 1133.5,538.6 1134.0,539.6 1134.5,541.4 1135.0,543.9 1135.5,547.0 1136.0,550.5 1136.5,554.4 1137.0,558.3 1137.5,562.2 1138.0,565.8 1138.5,569.0 1139.0,571.6 1139.5,573.5 1140.0,574.7 1140.5,575.0 1141.0,574.4 1141.5,573.0 1142.0,570.8 1142.5,567.9 1143.0,564.5 1143.5,560.7 1144.0,556.6 1144.5,552.5 1145.0,548.6 1145.5,545.0 1146.0,541.9 1146.5,539.4 1147.0,537.6 1147.5,536.7 1148.0,536.7 1148.5,537.5 1149.0,539.1 1149.5,541.5 1150.0,544.6 1150.5,548.1 1151.0,552.0 1151.5,556.1 1152.0,560.1 1152.5,564.0 1153.0,567.4 1153.5,570.3 1154.0,572.6 1154.5,574.1 1155.0,574.7 1155.5,574.5 1156.0,573.5 1156.5,571.6 1157.0,569.0 1157.5,565.8 1158.0,562.2 1158.5,558.3 1159.0,554.3 1159.5,550.4 1160.0,546.8 1160.5,543.6 1161.0,541.0 1161.5,539.1 1162.0,538.0 1162.5,537.7 1163.0,538.3 1163.5,539.7 1164.0,541.9 1164.5,544.8 1165.0,548.3 1165.5,552.1 1166.0,556.1 1166.5,560.2 1167.0,564.1 1167.5,567.7 1168.0,570.9 1168.5,573.4 1169.0,575.2 1169.5,576.2 1170.0,576.3 1170.5,575.6 1171.0,574.1 1171.5,571.9 1172.0,569.1 1172.5,565.7 1173.0,562.1 1173.5,558.3 1174.0,554.5 1174.5,550.9 1175.0,547.7 1175.5,545.1 1176.0,543.0 1176.5,541.7 1177.0,541.3 1177.5,541.6 1178.0,542.8 1178.5,544.7 1179.0,547.4 1179.5,550.6 1180.0,554.2 1180.5,558.1 1181.0,562.1 1181.5,566.0 1182.0,569.6 1182.5,572.9 1183.0,575.6 1183.5,577.6 1184.0,578.9 1184.5,579.4 1185.0,579.1 1185.5,578.0 1186.0,576.1 1186.5,573.7 1187.0,570.7 1187.5,567.4 1188.0,563.8 1188.5,560.3 1189.0,556.8 1189.5,553.7 1190.0,551.0 1190.5,548.9 1191.0,547.5 1191.5,546.8 1192.0,546.9 1192.5,547.8 1193.0,549.4 1193.5,551.7 1194.0,554.6 1194.5,558.0 1195.0,561.6 1195.5,565.4 1196.0,569.2 1196.5,572.8 1197.0,576.1 1197.5,578.9 1198.0,581.1 1198.5,582.6 1199.0,583.4 1199.5,583.4 1200.0,582.7 1200.5,581.3 1201.0,579.2 1201.5,576.6 1202.0,573.7 1202.5,570.5 1203.0,567.2 1203.5,563.9 1204.0,560.9 1204.5,558.3 1205.0,556.1 1205.5,554.6 1206.0,553.7 1206.5,553.6 1207.0,554.2 1207.5,555.5 1208.0,557.4 1208.5,560.0 1209.0,563.0 1209.5,566.3 1210.0,569.9 1210.5,573.4 1211.0,576.9 1211.5,580.1 1212.0,582.9 1212.5,585.2 1213.0,586.9 1213.5,588.0 1214.0,588.3 1214.5,587.9 1215.0,586.9 1215.5,585.2 1216.0,583.1 1216.5,580.5 1217.0,577.6 1217.5,574.6 1218.0,571.6 1218.5,568.8 1219.0,566.2 1219.5,564.1 1220.0,562.5 1220.5,561.4 1221.0,561.1 1221.5,561.4 1222.0,562.4 1222.5,564.0 1223.0,566.1 1223.5,568.8 1224.0,571.8 1224.5,575.0 1225.0,578.3 1225.5,581.6 1226.0,584.7 1226.5,587.4 1227.0,589.8 1227.5,591.6 1228.0,592.8 1228.5,593.4 1229.0,593.4 1229.5,592.7 1230.0,591.4 1230.5,589.6 1231.0,587.4 1231.5,584.9 1232.0,582.2 1232.5,579.4 1233.0,576.8 1233.5,574.3 1234.0,572.2 1234.5,570.6 1235.0,569.4 1235.5,568.8 1236.0,568.9 1236.5,569.5 1237.0,570.8 1237.5,572.6 1238.0,574.9 1238.5,577.5 1239.0,580.4 1239.5,583.4 1240.0,586.4 1240.5,589.4 1241.0,592.0 1241.5,594.4 1242.0,596.3 1242.5,597.6 1243.0,598.4 1243.5,598.6 1244.0,598.2 1244.5,597.3 1245.0,595.9 1245.5,594.0 1246.0,591.8 1246.5,589.4 1247.0,587.0 1247.5,584.5 1248.0,582.2 1248.5,580.1 1249.0,578.4 1249.5,577.1 1250.0,576.4 1250.5,576.2 1251.0,576.6 1251.5,577.5 1252.0,578.9 1252.5,580.8 1253.0,583.1 1253.5,585.6 1254.0,588.4 1254.5,591.2 1255.0,593.9 1255.5,596.4 1256.0,598.7 1256.5,600.6 1257.0,602.1 1257.5,603.0 1258.0,603.5 1258.5,603.4 1259.0,602.7 1259.5,601.6 1260.0,600.1 1260.5,598.2 1261.0,596.1 1261.5,593.8 1262.0,591.5 1262.5,589.3 1263.0,587.3 1263.5,585.6 1264.0,584.2 1264.5,583.3 1265.0,582.9 1265.5,583.0 1266.0,583.6 1266.5,584.7 1267.0,586.3 1267.5,588.2 1268.0,590.4 1268.5,592.8 1269.0,595.4 1269.5,597.9 1270.0,600.3 1270.5,602.5 1271.0,604.4 1271.5,605.9 1272.0,607.0 1272.5,607.6 1273.0,607.7 1273.5,607.3 1274.0,606.5 1274.5,605.2 1275.0,603.6 1275.5,601.7 1276.0,599.7 1276.5,597.6 1277.0,595.5 1277.5,593.5 1278.0,591.8 1278.5,590.3 1279.0,589.3 1279.5,588.7 1280.0,588.5 1280.5,588.8 1281.0,589.6 1281.5,590.8 1282.0,592.4 1282.5,594.4 1283.0,596.5 1283.5,598.8 1284.0,601.1 1284.5,603.4 1285.0,605.6 1285.5,607.4 1286.0,609.0 1286.5,610.2 1287.0,610.9 1287.5,611.2 1288.0,611.0 1288.5,610.4 1289.0,609.4 1289.5,608.0 1290.0,606.3 1290.5,604.5 1291.0,602.5 1291.5,600.5 1292.0,598.5 1292.5,596.8 1293.0,595.2 1293.5,594.0 1294.0,593.2 1294.5,592.9 1295.0,592.9 1295.5,593.4 1296.0,594.3 1296.5,595.6 1297.0,597.3 1297.5,599.2 1298.0,601.2 1298.5,603.4 1299.0,605.6 1299.5,607.6 1300.0,609.5 1300.5,611.1 1301.0,612.3 1301.5,613.2 1302.0,613.7 1302.5,613.7 1303.0,613.3 1303.5,612.4 1304.0,611.2 1304.5,609.7 1305.0,608.0 1305.5,606.1 1306.0,604.2 1306.5,602.2 1307.0,600.4 1307.5,598.8 1308.0,597.5 1308.5,596.5 1309.0,595.9 1309.5,595.7 1310.0,595.9 1310.5,596.5 1311.0,597.6 1311.5,599.0 1312.0,600.6 1312.5,602.5 1313.0,604.5 1313.5,606.5 1314.0,608.5 1314.5,610.4 1315.0,612.0 1315.5,613.4 1316.0,614.4 1316.5,615.0 1317.0,615.2 1317.5,614.9 1318.0,614.3 1318.5,613.3 1319.0,611.9 1319.5,610.3 1320.0,608.5 1320.5,606.6 1321.0,604.6 1321.5,602.7 1322.0,601.0 1322.5,599.5 1323.0,598.3 1323.5,597.5 1324.0,597.0 1324.5,597.0 1325.0,597.4 1325.5,598.2 1326.0,599.3 1326.5,600.8 1327.0,602.5 1327.5,604.3 1328.0,606.3 1328.5,608.2 1329.0,610.1 1329.5,611.8 1330.0,613.3 1330.5,614.4 1331.0,615.1 1331.5,615.5 1332.0,615.5 1332.5,615.0 1333.0,614.1 1333.5,612.9 1334.0,611.4 1334.5,609.6 1335.0,607.7 1335.5,605.7 1336.0,603.7 1336.5,601.9 1337.0,600.2 1337.5,598.8 1338.0,597.7 1338.5,597.0 1339.0,596.7 1339.5,596.9 1340.0,597.4 1340.5,598.3 1341.0,599.6 1341.5,601.1 1342.0,602.9 1342.5,604.8 1343.0,606.7 1343.5,608.6 1344.0,610.4 1344.5,612.0 1345.0,613.2 1345.5,614.2 1346.0,614.7 1346.5,614.8 1347.0,614.5 1347.5,613.8 1348.0,612.7 1348.5,611.3 1349.0,609.6 1349.5,607.7 1350.0,605.6 1350.5,603.6 1351.0,601.5 1351.5,599.7 1352.0,598.1 1352.5,596.7 1353.0,595.7 1353.5,595.2 1354.0,595.0 1354.5,595.3 1355.0,596.0 1355.5,597.1 1356.0,598.5 1356.5,600.1 1357.0,602.0 1357.5,604.0 1358.0,605.9 1358.5,607.8 1359.0,609.5 1359.5,611.0 1360.0,612.1 1360.5,612.8 1361.0,613.2 1361.5,613.1 1362.0,612.5 1362.5,611.6 1363.0,610.2 1363.5,608.5 1364.0,606.6 1364.5,604.5 1365.0,602.3 1365.5,600.2 1366.0,598.1 1366.5,596.2 1367.0,594.6 1367.5,593.4 1368.0,592.5 1368.5,592.1 1369.0,592.1 1369.5,592.5 1370.0,593.4 1370.5,594.7 1371.0,596.2 1371.5,598.1 1372.0,600.0 1372.5,602.1 1373.0,604.1 1373.5,606.0 1374.0,607.6 1374.5,609.0 1375.0,610.0 1375.5,610.5 1376.0,610.7 1376.5,610.3 1377.0,609.5 1377.5,608.3 1378.0,606.7 1378.5,604.8 1379.0,602.6 1379.5,600.3 1380.0,598.0 1380.5,595.7 1381.0,593.5 1381.5,591.6 1382.0,590.1 1382.5,588.9 1383.0,588.1 1383.5,587.9 1384.0,588.1 1384.5,588.7 1385.0,589.8 1385.5,591.3 1386.0,593.1 1386.5,595.1 1387.0,597.2 1387.5,599.4 1388.0,601.4 1388.5,603.3 1389.0,604.9 1389.5,606.2 1390.0,607.1 1390.5,607.4 1391.0,607.3 1391.5,606.7 1392.0,605.7 1392.5,604.2 1393.0,602.3 1393.5,600.1 1394.0,597.7 1394.5,595.2 1395.0,592.7 1395.5,590.2 1396.0,588.0 1396.5,586.1 1397.0,584.6 1397.5,583.5 1398.0,582.9 1398.5,582.9 1399.0,583.3 1399.5,584.2 1400.0,585.5 1400.5,587.3 1401.0,589.3 1401.5,591.5 1402.0,593.8 1402.5,596.0 1403.0,598.2 1403.5,600.1 1404.0,601.7 1404.5,602.9 1405.0,603.5 1405.5,603.7 1406.0,603.4 1406.5,602.5 1407.0,601.1 1407.5,599.3 1408.0,597.1 1408.5,594.7 1409.0,592.0 1409.5,589.3 1410.0,586.6 1410.5,584.1 1411.0,581.8 1411.5,579.9 1412.0,578.5 1412.5,577.5 1413.0,577.1 1413.5,577.3 1414.0,577.9 1414.5,579.1 1415.0,580.7 1415.5,582.7 1416.0,585.0 1416.5,587.4 1417.0,589.9 1417.5,592.3 1418.0,594.6 1418.5,596.5 1419.0,598.0 1419.5,599.1 1420.0,599.6 1420.5,599.6 1421.0,598.9 1421.5,597.8 1422.0,596.1 1422.5,593.9 1423.0,591.5 1423.5,588.7 1424.0,585.8 1424.5,582.9 1425.0,580.0 1425.5,577.4 1426.0,575.1 1426.5,573.3 1427.0,571.9 1427.5,571.1 1428.0,570.9 1428.5,571.3 1429.0,572.3 1429.5,573.8 1430.0,575.7 1430.5,578.0 1431.0,580.6 1431.5,583.2 1432.0,585.9 1432.5,588.4 1433.0,590.7 1433.5,592.6 1434.0,594.1 1434.5,595.0 1435.0,595.3 1435.5,595.1 1436.0,594.2 1436.5,592.7 1437.0,590.7 1437.5,588.2 1438.0,585.4 1438.5,582.3 1439.0,579.2 1439.5,576.1 1440.0,573.1 1440.5,570.4 1441.0,568.2 1441.5,566.4 1442.0,565.2 1442.5,564.6 1443.0,564.6 1443.5,565.3 1444.0,566.6 1444.5,568.4 1445.0,570.7 1445.5,573.3 1446.0,576.1" fill="none" stroke="#1A6FDF" stroke-width="5" stroke-linejoin="round" stroke-linecap="butt"/>
<path d="M201.0,751.9 201.5,751.6 202.0,750.8 202.5,749.4 203.0,747.7 203.5,745.6 204.0,743.4 204.5,741.0 205.0,738.7 205.5,736.5 206.0,734.6 206.5,733.0 207.0,731.9 207.5,731.2 208.0,731.1 208.5,731.5 209.0,732.4 209.5,733.8 210.0,735.7 210.5,737.8 211.0,740.2 211.5,742.6 212.0,745.1 212.5,747.5 213.0,749.7 213.5,751.5 214.0,752.9 214.5,753.9 215.0,754.4 215.5,754.3 216.0,753.8 216.5,752.8 217.0,751.3 217.5,749.6 218.0,747.6 218.5,745.4 219.0,743.2 219.5,741.1 220.0,739.2 220.5,737.6 221.0,736.3 221.5,735.5 222.0,735.1 222.5,735.3 223.0,735.9 223.5,737.0 224.0,738.5 224.5,740.4 225.0,742.5 225.5,744.7 226.0,747.1 226.5,749.3 227.0,751.5 227.5,753.3 228.0,754.9 228.5,756.0 229.0,756.7 229.5,756.9 230.0,756.6 230.5,755.9 231.0,754.8 231.5,753.3 232.0,751.5 232.5,749.6 233.0,747.6 233.5,745.6 234.0,743.7 234.5,742.1 235.0,740.7 235.5,739.7 236.0,739.2 236.5,739.1 237.0,739.4 237.5,740.2 238.0,741.5 238.5,743.0 239.0,744.9 239.5,746.9 240.0,749.0 240.5,751.2 241.0,753.2 241.5,755.1 242.0,756.7 242.5,757.9 243.0,758.8 243.5,759.2 244.0,759.2 244.5,758.8 245.0,757.9 245.5,756.7 246.0,755.2 246.5,753.5 247.0,751.7 247.5,749.8 248.0,748.0 248.5,746.4 249.0,745.0 249.5,743.9 250.0,743.1 250.5,742.8 251.0,742.9 251.5,743.5 252.0,744.4 252.5,745.7 253.0,747.2 253.5,749.0 254.0,751.0 254.5,753.0 255.0,754.9 255.5,756.8 256.0,758.4 256.5,759.7 257.0,760.7 257.5,761.3 258.0,761.5 258.5,761.3 259.0,760.7 259.5,759.8 260.0,758.5 260.5,757.0 261.0,755.4 261.5,753.6 262.0,751.9 262.5,750.3 263.0,748.9 263.5,747.7 264.0,746.8 264.5,746.3 265.0,746.2 265.5,746.5 266.0,747.1 266.5,748.2 267.0,749.5 267.5,751.0 268.0,752.8 268.5,754.6 269.0,756.5 269.5,758.2 270.0,759.8 270.5,761.2 271.0,762.3 271.5,763.1 272.0,763.5 272.5,763.5 273.0,763.1 273.5,762.4 274.0,761.4 274.5,760.1 275.0,758.6 275.5,757.0 276.0,755.4 276.5,753.8 277.0,752.4 277.5,751.1 278.0,750.1 278.5,749.5 279.0,749.1 279.5,749.2 280.0,749.6 280.5,750.3 281.0,751.4 281.5,752.7 282.0,754.3 282.5,755.9 283.0,757.7 283.5,759.4 284.0,761.0 284.5,762.4 285.0,763.6 285.5,764.4 286.0,765.0 286.5,765.2 287.0,765.0 287.5,764.5 288.0,763.7 288.5,762.6 289.0,761.3 289.5,759.9 290.0,758.3 290.5,756.8 291.0,755.3 291.5,754.0 292.0,752.9 292.5,752.1 293.0,751.6 293.5,751.4 294.0,751.6 294.5,752.1 295.0,752.9 295.5,754.0 296.0,755.4 296.5,756.9 297.0,758.5 297.5,760.1 298.0,761.6 298.5,763.1 299.0,764.3 299.5,765.3 300.0,766.0 300.5,766.4 301.0,766.4 301.5,766.1 302.0,765.5 302.5,764.6 303.0,763.4 303.5,762.1 304.0,760.6 304.5,759.1 305.0,757.6 305.5,756.3 306.0,755.1 306.5,754.1 307.0,753.4 307.5,753.0 308.0,753.0 308.5,753.2 309.0,753.8 309.5,754.7 310.0,755.9 310.5,757.2 311.0,758.7 311.5,760.2 312.0,761.7 312.5,763.2 313.0,764.5 313.5,765.6 314.0,766.4 314.5,766.9 315.0,767.2 315.5,767.0 316.0,766.6 316.5,765.8 317.0,764.8 317.5,763.6 318.0,762.2 318.5,760.7 319.0,759.2 319.5,757.8 320.0,756.5 320.5,755.4 321.0,754.5 321.5,753.9 322.0,753.6 322.5,753.7 323.0,754.1 323.5,754.7 324.0,755.7 324.5,756.9 325.0,758.2 325.5,759.7 326.0,761.2 326.5,762.7 327.0,764.0 327.5,765.2 328.0,766.2 328.5,766.8 329.0,767.2 329.5,767.3 330.0,767.0 330.5,766.4 331.0,765.5 331.5,764.4 332.0,763.1 332.5,761.6 333.0,760.1 333.5,758.6 334.0,757.2 334.5,755.9 335.0,754.8 335.5,754.0 336.0,753.5 336.5,753.4 337.0,753.5 337.5,754.0 338.0,754.7 338.5,755.8 339.0,757.0 339.5,758.4 340.0,759.9 340.5,761.4 341.0,762.8 341.5,764.1 342.0,765.2 342.5,766.0 343.0,766.6 343.5,766.8 344.0,766.7 344.5,766.3 345.0,765.5 345.5,764.5 346.0,763.3 346.5,761.8 347.0,760.3 347.5,758.7 348.0,757.1 348.5,755.7 349.0,754.4 349.5,753.4 350.0,752.7 350.5,752.2 351.0,752.1 351.5,752.4 352.0,753.0 352.5,753.8 353.0,755.0 353.5,756.3 354.0,757.7 354.5,759.3 355.0,760.8 355.5,762.2 356.0,763.4 356.5,764.4 357.0,765.2 357.5,765.6 358.0,765.7 358.5,765.5 359.0,764.9 359.5,764.0 360.0,762.8 360.5,761.4 361.0,759.8 361.5,758.1 362.0,756.4 362.5,754.8 363.0,753.3 363.5,752.1 364.0,751.1 364.5,750.4 365.0,750.0 365.5,750.0 366.0,750.4 366.5,751.1 367.0,752.1 367.5,753.3 368.0,754.8 368.5,756.3 369.0,757.9 369.5,759.4 370.0,760.9 370.5,762.1 371.0,763.1 371.5,763.7 372.0,764.0 372.5,764.0 373.0,763.6 373.5,762.8 374.0,761.7 374.5,760.3 375.0,758.7 375.5,757.0 376.0,755.1 376.5,753.3 377.0,751.6 377.5,750.1 378.0,748.8 378.5,747.8 379.0,747.2 379.5,746.9 380.0,747.1 380.5,747.6 381.0,748.4 381.5,749.6 382.0,751.0 382.5,752.5 383.0,754.2 383.5,755.9 384.0,757.5 384.5,759.0 385.0,760.2 385.5,761.1 386.0,761.7 386.5,761.9 387.0,761.7 387.5,761.1 388.0,760.1 388.5,758.8 389.0,757.2 389.5,755.4 390.0,753.4 390.5,751.4 391.0,749.5 391.5,747.7 392.0,746.1 392.5,744.8 393.0,743.9 393.5,743.3 394.0,743.1 394.5,743.4 395.0,744.1 395.5,745.1 396.0,746.4 396.5,748.0 397.0,749.8 397.5,751.6 398.0,753.4 398.5,755.1 399.0,756.6 399.5,757.8 400.0,758.7 400.5,759.2 401.0,759.3 401.5,758.9 402.0,758.1 402.5,756.9 403.0,755.3 403.5,753.5 404.0,751.5 404.5,749.3 405.0,747.1 405.5,745.1 406.0,743.2 406.5,741.5 407.0,740.2 407.5,739.3 408.0,738.8 408.5,738.8 409.0,739.2 409.5,740.1 410.0,741.3 410.5,742.9 411.0,744.7 411.5,746.7 412.0,748.7 412.5,750.6 413.0,752.4 413.5,754.0 414.0,755.2 414.5,756.0 415.0,756.4 415.5,756.3 416.0,755.8 416.5,754.7 417.0,753.3 417.5,751.5 418.0,749.4 418.5,747.1 419.0,744.8 419.5,742.4 420.0,740.2 420.5,738.2 421.0,736.5 421.5,735.2 422.0,734.4 422.5,734.0 423.0,734.2 423.5,734.8 424.0,735.9 424.5,737.4 425.0,739.2 425.5,741.2 426.0,743.4 426.5,745.6 427.0,747.7 427.5,749.6 428.0,751.2 428.5,752.5 429.0,753.2 429.5,753.5 430.0,753.3 430.5,752.5 431.0,751.2 431.5,749.5 432.0,747.5 432.5,745.1 433.0,742.6 433.5,740.0 434.0,737.5 434.5,735.2 435.0,733.1 435.5,731.4 436.0,730.2 436.5,729.4 437.0,729.2 437.5,729.6 438.0,730.4 438.5,731.8 439.0,733.5 439.5,735.6 440.0,737.9 440.5,740.3 441.0,742.7 441.5,744.9 442.0,746.9 442.5,748.6 443.0,749.8 443.5,750.5 444.0,750.6 444.5,750.2 445.0,749.2 445.5,747.7 446.0,745.8 446.5,743.5 447.0,740.9 447.5,738.2 448.0,735.4 448.5,732.7 449.0,730.3 449.5,728.2 450.0,726.5 450.5,725.4 451.0,724.8 451.5,724.7 452.0,725.3 452.5,726.4 453.0,728.0 453.5,730.1 454.0,732.4 454.5,735.0 455.0,737.6 455.5,740.1 456.0,742.5 456.5,744.6 457.0,746.2 457.5,747.4 458.0,748.0 458.5,748.0 459.0,747.4 459.5,746.2 460.0,744.5 460.5,742.3 461.0,739.7 461.5,737.0 462.0,734.0 462.5,731.1 463.0,728.4 463.5,725.9 464.0,723.8 464.5,722.2 465.0,721.2 465.5,720.8 466.0,721.0 466.5,721.8 467.0,723.1 467.5,725.0 468.0,727.3 468.5,729.9 469.0,732.7 469.5,735.5 470.0,738.2 470.5,740.6 471.0,742.7 471.5,744.4 472.0,745.5 472.5,746.0 473.0,745.8 473.5,745.0 474.0,743.7 474.5,741.7 475.0,739.3 475.5,736.6 476.0,733.7 476.5,730.6 477.0,727.6 477.5,724.9 478.0,722.4 478.5,720.4 479.0,718.9 479.5,718.0 480.0,717.8 480.5,718.2 481.0,719.3 481.5,720.9 482.0,723.0 482.5,725.6 483.0,728.4 483.5,731.3 484.0,734.2 484.5,737.0 485.0,739.5 485.5,741.7 486.0,743.2 486.5,744.2 487.0,744.6 487.5,744.3 488.0,743.4 488.5,741.8 489.0,739.7 489.5,737.2 490.0,734.3 490.5,731.3 491.0,728.2 491.5,725.2 492.0,722.5 492.5,720.1 493.0,718.3 493.5,716.9 494.0,716.3 494.5,716.2 495.0,716.9 495.5,718.2 496.0,720.0 496.5,722.4 497.0,725.1 497.5,728.1 498.0,731.1 498.5,734.1 499.0,736.9 499.5,739.4 500.0,741.5 500.5,743.0 501.0,743.9 501.5,744.1 502.0,743.7 502.5,742.6 503.0,740.9 503.5,738.8 504.0,736.2 504.5,733.3 505.0,730.2 505.5,727.2 506.0,724.3 506.5,721.7 507.0,719.5 507.5,717.8 508.0,716.7 508.5,716.2 509.0,716.5 509.5,717.3 510.0,718.8 510.5,720.9 511.0,723.3 511.5,726.2 512.0,729.2 512.5,732.3 513.0,735.3 513.5,738.0 514.0,740.5 514.5,742.4 515.0,743.8 515.5,744.6 516.0,744.7 516.5,744.2 517.0,743.0 517.5,741.3 518.0,739.1 518.5,736.5 519.0,733.7 519.5,730.8 520.0,727.9 520.5,725.2 521.0,722.8 521.5,720.8 522.0,719.4 522.5,718.5 523.0,718.3 523.5,718.7 524.0,719.8 524.5,721.4 525.0,723.6 525.5,726.1 526.0,729.0 526.5,732.0 527.0,735.0 527.5,737.9 528.0,740.5 528.5,742.8 529.0,744.6 529.5,745.9 530.0,746.5 530.5,746.5 531.0,745.9 531.5,744.8 532.0,743.1 532.5,741.0 533.0,738.5 533.5,735.9 534.0,733.2 534.5,730.6 535.0,728.2 535.5,726.1 536.0,724.4 536.5,723.2 537.0,722.7 537.5,722.7 538.0,723.3 538.5,724.5 539.0,726.2 539.5,728.4 540.0,730.9 540.5,733.6 541.0,736.5 541.5,739.4 542.0,742.1 542.5,744.5 543.0,746.6 543.5,748.2 544.0,749.3 544.5,749.8 545.0,749.8 545.5,749.2 546.0,748.1 546.5,746.5 547.0,744.6 547.5,742.4 548.0,740.1 548.5,737.8 549.0,735.5 549.5,733.5 550.0,731.7 550.5,730.4 551.0,729.6 551.5,729.3 552.0,729.5 552.5,730.3 553.0,731.5 553.5,733.3 554.0,735.3 554.5,737.7 555.0,740.3 555.5,742.9 556.0,745.5 556.5,747.9 557.0,750.1 557.5,751.9 558.0,753.3 558.5,754.3 559.0,754.7 559.5,754.7 560.0,754.1 560.5,753.2 561.0,751.8 561.5,750.2 562.0,748.4 562.5,746.5 563.0,744.6 563.5,742.8 564.0,741.2 564.5,739.9 565.0,739.0 565.5,738.5 566.0,738.4 566.5,738.8 567.0,739.7 567.5,741.0 568.0,742.6 568.5,744.5 569.0,746.7 569.5,748.9 570.0,751.2 570.5,753.5 571.0,755.5 571.5,757.4 572.0,758.9 572.5,760.1 573.0,760.9 573.5,761.2 574.0,761.2 574.5,760.8 575.0,760.1 575.5,759.1 576.0,757.9 576.5,756.5 577.0,755.1 577.5,753.7 578.0,752.5 578.5,751.4 579.0,750.6 579.5,750.1 580.0,749.9 580.5,750.1 581.0,750.7 581.5,751.5 582.0,752.7 582.5,754.2 583.0,755.9 583.5,757.7 584.0,759.5 584.5,761.4 585.0,763.2 585.5,764.9 586.0,766.4 586.5,767.6 587.0,768.5 587.5,769.2 588.0,769.6 588.5,769.6 589.0,769.4 589.5,769.0 590.0,768.4 590.5,767.7 591.0,766.8 591.5,766.0 592.0,765.3 592.5,764.6 593.0,764.1 593.5,763.7 594.0,763.6 594.5,763.8 595.0,764.2 595.5,764.8 596.0,765.6 596.5,766.7 597.0,767.9 597.5,769.2 598.0,770.6 598.5,772.0 599.0,773.4 599.5,774.8 600.0,776.0 600.5,777.1 601.0,778.0 601.5,778.7 602.0,779.3 602.5,779.7 603.0,779.9 603.5,780.0 604.0,779.9 604.5,779.7 605.0,779.5 605.5,779.3 606.0,779.1 606.5,779.0 607.0,778.9 607.5,778.9 608.0,779.1 608.5,779.4 609.0,779.8 609.5,780.3 610.0,781.0 610.5,781.7 611.0,782.6 611.5,783.5 612.0,784.4 612.5,785.3 613.0,786.3 613.5,787.2 614.0,788.0 614.5,788.8 615.0,789.5 615.5,790.2 616.0,790.7 616.5,791.2 617.0,791.6 617.5,792.0 618.0,792.4 618.5,792.7 619.0,793.1 619.5,793.4 620.0,793.8 620.5,794.2 621.0,794.7 621.5,795.2 622.0,795.7 622.5,796.3 623.0,796.9 623.5,797.6 624.0,798.2 624.5,798.8 625.0,799.5 625.5,800.1 626.0,800.6 626.5,801.1 627.0,801.6 627.5,802.1 628.0,802.5 628.5,802.9 629.0,803.2 629.5,803.6 630.0,804.0 630.5,804.4 631.0,804.9 631.5,805.4 632.0,806.0 632.5,806.6 633.0,807.4 633.5,808.2 634.0,809.1 634.5,810.0 635.0,811.0 635.5,812.1 636.0,813.1 636.5,814.1 637.0,815.0 637.5,815.9 638.0,816.7 638.5,817.4 639.0,818.0 639.5,818.5 640.0,818.8 640.5,819.0 641.0,819.2 641.5,819.2 642.0,819.2 642.5,819.1 643.0,819.1 643.5,819.1 644.0,819.2 644.5,819.4 645.0,819.7 645.5,820.1 646.0,820.7 646.5,821.5 647.0,822.5 647.5,823.6 648.0,824.9 648.5,826.3 649.0,827.7 649.5,829.2 650.0,830.7 650.5,832.2 651.0,833.5 651.5,834.8 652.0,835.9 652.5,836.8 653.0,837.5 653.5,838.0 654.0,838.3 654.5,838.4 655.0,838.3 655.5,838.1 656.0,837.7 656.5,837.3 657.0,836.9 657.5,836.5 658.0,836.2 658.5,836.1 659.0,836.1 659.5,836.3 660.0,836.8 660.5,837.5 661.0,838.5 661.5,839.7 662.0,841.2 662.5,842.8 663.0,844.6 663.5,846.4 664.0,848.3 664.5,850.2 665.0,852.0 665.5,853.6 666.0,855.1 666.5,856.3 667.0,857.3 667.5,858.0 668.0,858.4 668.5,858.5 669.0,858.4 669.5,858.0 670.0,857.5 670.5,856.8 671.0,856.1 671.5,855.4 672.0,854.8 672.5,854.3 673.0,854.0 673.5,853.9 674.0,854.1 674.5,854.7 675.0,855.5 675.5,856.6 676.0,858.0 676.5,859.7 677.0,861.6 677.5,863.6 678.0,865.7 678.5,867.9 679.0,870.0 679.5,872.0 680.0,873.8 680.5,875.4 681.0,876.6 681.5,877.6 682.0,878.3 682.5,878.6 683.0,878.6 683.5,878.3 684.0,877.7 684.5,877.0 685.0,876.2 685.5,875.3 686.0,874.4 686.5,873.6 687.0,873.0 687.5,872.6 688.0,872.5 688.5,872.7 689.0,873.3 689.5,874.2 690.0,875.4 690.5,876.9 691.0,878.7 691.5,880.7 692.0,882.9 692.5,885.2 693.0,887.4 693.5,889.6 694.0,891.7 694.5,893.5 695.0,895.1 695.5,896.4 696.0,897.3 696.5,897.9 697.0,898.2 697.5,898.1 698.0,897.7 698.5,897.1 699.0,896.2 699.5,895.3 700.0,894.3 700.5,893.4 701.0,892.6 701.5,891.9 702.0,891.5 702.5,891.4 703.0,891.7 703.5,892.2 704.0,893.1 704.5,894.4 705.0,895.9 705.5,897.8 706.0,899.8 706.5,902.0 707.0,904.2 707.5,906.5 708.0,908.6 708.5,910.6 709.0,912.4 709.5,913.9 710.0,915.1 710.5,916.0 711.0,916.5 711.5,916.7 712.0,916.6 712.5,916.2 713.0,915.5 713.5,914.7 714.0,913.8 714.5,912.9 715.0,912.0 715.5,911.2 716.0,910.6 716.5,910.2 717.0,910.2 717.5,910.4 718.0,911.0 718.5,911.9 719.0,913.1 719.5,914.6 720.0,916.3 720.5,918.3 721.0,920.3 721.5,922.4 722.0,924.5 722.5,926.5 723.0,928.3 723.5,929.9 724.0,931.3 724.5,932.4 725.0,933.2 725.5,933.7 726.0,933.8 726.5,933.7 727.0,933.3 727.5,932.7 728.0,932.0 728.5,931.2 729.0,930.4 729.5,929.6 730.0,929.0 730.5,928.5 731.0,928.2 731.5,928.2 732.0,928.5 732.5,929.0 733.0,929.9 733.5,931.0 734.0,932.3 734.5,933.9 735.0,935.6 735.5,937.4 736.0,939.2 736.5,941.1 737.0,942.8 737.5,944.4 738.0,945.8 738.5,947.0 739.0,947.9 739.5,948.6 740.0,949.0 740.5,949.1 741.0,949.0 741.5,948.7 742.0,948.3 742.5,947.7 743.0,947.1 743.5,946.5 744.0,945.9 744.5,945.4 745.0,945.1 745.5,944.9 746.0,945.0 746.5,945.2 747.0,945.8 747.5,946.5 748.0,947.5 748.5,948.6 749.0,949.9 749.5,951.3 750.0,952.8 750.5,954.3 751.0,955.8 751.5,957.2 752.0,958.5 752.5,959.6 753.0,960.6 753.5,961.3 754.0,961.9 754.5,962.2 755.0,962.4 755.5,962.3 756.0,962.2 756.5,961.8 757.0,961.5 757.5,961.0 758.0,960.6 758.5,960.3 759.0,960.0 759.5,959.8 760.0,959.7 760.5,959.8 761.0,960.1 761.5,960.6 762.0,961.2 762.5,962.0 763.0,962.9 763.5,963.9 764.0,965.0 764.5,966.1 765.0,967.2 765.5,968.3 766.0,969.4 766.5,970.3 767.0,971.2 767.5,971.9 768.0,972.5 768.5,972.9 769.0,973.2 769.5,973.3 770.0,973.4 770.5,973.3 771.0,973.1 771.5,972.9 772.0,972.7 772.5,972.5 773.0,972.3 773.5,972.2 774.0,972.2 774.5,972.2 775.0,972.4 775.5,972.6 776.0,973.0 776.5,973.5 777.0,974.0 777.5,974.7 778.0,975.4 778.5,976.1 779.0,976.9 779.5,977.7 780.0,978.4 780.5,979.1 781.0,979.7 781.5,980.3 782.0,980.8 782.5,981.2 783.0,981.5 783.5,981.7 784.0,981.8 784.5,981.9 785.0,981.9 785.5,981.9 786.0,981.9 786.5,981.8 787.0,981.8 787.5,981.7 788.0,981.7 788.5,981.8 789.0,981.9 789.5,982.0 790.0,982.3 790.5,982.5 791.0,982.9 791.5,983.2 792.0,983.6 792.5,984.0 793.0,984.5 793.5,984.9 794.0,985.3 794.5,985.8 795.0,986.1 795.5,986.5 796.0,986.8 796.5,987.1 797.0,987.3 797.5,987.5 798.0,987.6 798.5,987.8 799.0,987.8 799.5,987.9 800.0,988.0 800.5,988.0 801.0,988.0 801.5,988.1 802.0,988.1 802.5,988.2 803.0,988.3 803.5,988.4 804.0,988.5 804.5,988.7 805.0,988.8 805.5,989.0 806.0,989.2 806.5,989.3 807.0,989.5 807.5,989.7 808.0,989.9 808.5,990.1 809.0,990.2 809.5,990.4 810.0,990.5 810.5,990.6 811.0,990.7 811.5,990.8 812.0,990.9 812.5,991.0 813.0,991.0 813.5,991.1 814.0,991.1 814.5,991.2 815.0,991.2 815.5,991.3 816.0,991.3 816.5,991.4 817.0,991.4 817.5,991.4 818.0,991.5 818.5,991.5 819.0,991.6 819.5,991.6 820.0,991.6 820.5,991.7 821.0,991.7 821.5,991.7 822.0,991.7 822.5,991.7 823.0,991.7 823.5,991.7 824.0,991.7 824.5,991.7 825.0,991.7 825.5,991.7 826.0,991.7 826.5,991.7 827.0,991.7 827.5,991.6 828.0,991.6 828.5,991.6 829.0,991.5 829.5,991.5 830.0,991.4 830.5,991.4 831.0,991.3 831.5,991.2 832.0,991.1 832.5,991.1 833.0,991.0 833.5,990.9 834.0,990.8 834.5,990.7 835.0,990.6 835.5,990.5 836.0,990.5 836.5,990.4 837.0,990.3 837.5,990.3 838.0,990.2 838.5,990.2 839.0,990.1 839.5,990.1 840.0,990.0 840.5,989.9 841.0,989.8 841.5,989.7 842.0,989.6 842.5,989.4 843.0,989.2 843.5,989.0 844.0,988.8 844.5,988.5 845.0,988.3 845.5,988.0 846.0,987.7 846.5,987.4 847.0,987.1 847.5,986.9 848.0,986.6 848.5,986.4 849.0,986.2 849.5,986.1 850.0,986.0 850.5,985.9 851.0,985.8 851.5,985.8 852.0,985.7 852.5,985.7 853.0,985.7 853.5,985.7 854.0,985.7 854.5,985.6 855.0,985.5 855.5,985.3 856.0,985.1 856.5,984.8 857.0,984.5 857.5,984.1 858.0,983.7 858.5,983.2 859.0,982.7 859.5,982.1 860.0,981.5 860.5,981.0 861.0,980.4 861.5,979.9 862.0,979.4 862.5,979.0 863.0,978.7 863.5,978.4 864.0,978.2 864.5,978.1 865.0,978.0 865.5,978.0 866.0,978.1 866.5,978.2 867.0,978.3 867.5,978.4 868.0,978.5 868.5,978.6 869.0,978.5 869.5,978.4 870.0,978.3 870.5,978.0 871.0,977.5 871.5,977.0 872.0,976.4 872.5,975.7 873.0,974.9 873.5,974.0 874.0,973.1 874.5,972.2 875.0,971.3 875.5,970.4 876.0,969.6 876.5,968.9 877.0,968.3 877.5,967.8 878.0,967.5 878.5,967.3 879.0,967.2 879.5,967.2 880.0,967.3 880.5,967.6 881.0,967.8 881.5,968.1 882.0,968.4 882.5,968.7 883.0,968.9 883.5,968.9 884.0,968.9 884.5,968.7 885.0,968.3 885.5,967.8 886.0,967.1 886.5,966.2 887.0,965.2 887.5,964.1 888.0,962.8 888.5,961.6 889.0,960.3 889.5,959.0 890.0,957.8 890.5,956.7 891.0,955.8 891.5,955.0 892.0,954.3 892.5,953.9 893.0,953.7 893.5,953.6 894.0,953.8 894.5,954.1 895.0,954.5 895.5,955.0 896.0,955.5 896.5,956.0 897.0,956.4 897.5,956.7 898.0,956.9 898.5,956.9 899.0,956.8 899.5,956.3 900.0,955.7 900.5,954.8 901.0,953.7 901.5,952.4 902.0,951.0 902.5,949.4 903.0,947.8 903.5,946.1 904.0,944.5 904.5,943.0 905.0,941.6 905.5,940.4 906.0,939.4 906.5,938.7 907.0,938.2 907.5,938.0 908.0,938.0 908.5,938.2 909.0,938.6 909.5,939.2 910.0,939.9 910.5,940.6 911.0,941.3 911.5,941.9 912.0,942.4 912.5,942.7 913.0,942.8 913.5,942.6 914.0,942.2 914.5,941.4 915.0,940.4 915.5,939.2 916.0,937.6 916.5,935.9 917.0,934.1 917.5,932.2 918.0,930.2 918.5,928.3 919.0,926.5 919.5,924.9 920.0,923.5 920.5,922.3 921.0,921.4 921.5,920.9 922.0,920.6 922.5,920.6 923.0,920.9 923.5,921.5 924.0,922.2 924.5,923.0 925.0,923.9 925.5,924.7 926.0,925.5 926.5,926.1 927.0,926.5 927.5,926.7 928.0,926.5 928.5,926.1 929.0,925.3 929.5,924.2 930.0,922.8 930.5,921.1 931.0,919.3 931.5,917.2 932.0,915.1 932.5,912.9 933.0,910.8 933.5,908.8 934.0,907.0 934.5,905.4 935.0,904.1 935.5,903.2 936.0,902.5 936.5,902.2 937.0,902.3 937.5,902.6 938.0,903.1 938.5,903.9 939.0,904.8 939.5,905.8 940.0,906.7 940.5,907.5 941.0,908.2 941.5,908.7 942.0,908.9 942.5,908.8 943.0,908.4 943.5,907.6 944.0,906.5 944.5,905.0 945.0,903.3 945.5,901.3 946.0,899.2 946.5,897.0 947.0,894.7 947.5,892.5 948.0,890.4 948.5,888.5 949.0,886.8 949.5,885.5 950.0,884.4 950.5,883.7 951.0,883.4 951.5,883.4 952.0,883.6 952.5,884.2 953.0,884.9 953.5,885.8 954.0,886.7 954.5,887.7 955.0,888.5 955.5,889.2 956.0,889.7 956.5,889.9 957.0,889.8 957.5,889.4 958.0,888.6 958.5,887.5 959.0,886.1 959.5,884.4 960.0,882.5 960.5,880.4 961.0,878.2 961.5,876.0 962.0,873.8 962.5,871.7 963.0,869.8 963.5,868.2 964.0,866.8 964.5,865.8 965.0,865.0 965.5,864.6 966.0,864.5 966.5,864.7 967.0,865.1 967.5,865.7 968.0,866.5 968.5,867.3 969.0,868.1 969.5,868.9 970.0,869.5 970.5,869.9 971.0,870.0 971.5,869.9 972.0,869.5 972.5,868.8 973.0,867.7 973.5,866.4 974.0,864.9 974.5,863.1 975.0,861.2 975.5,859.2 976.0,857.1 976.5,855.1 977.0,853.2 977.5,851.5 978.0,849.9 978.5,848.6 979.0,847.6 979.5,846.8 980.0,846.4 980.5,846.2 981.0,846.2 981.5,846.5 982.0,846.9 982.5,847.4 983.0,848.0 983.5,848.6 984.0,849.1 984.5,849.5 985.0,849.8 985.5,849.8 986.0,849.7 986.5,849.2 987.0,848.6 987.5,847.6 988.0,846.5 988.5,845.1 989.0,843.6 989.5,842.0 990.0,840.3 990.5,838.6 991.0,836.9 991.5,835.3 992.0,833.8 992.5,832.4 993.0,831.3 993.5,830.4 994.0,829.6 994.5,829.1 995.0,828.8 995.5,828.7 996.0,828.7 996.5,828.9 997.0,829.1 997.5,829.4 998.0,829.6 998.5,829.8 999.0,830.0 999.5,830.0 1000.0,829.8 1000.5,829.5 1001.0,829.1 1001.5,828.4 1002.0,827.6 1002.5,826.7 1003.0,825.6 1003.5,824.4 1004.0,823.2 1004.5,821.9 1005.0,820.6 1005.5,819.3 1006.0,818.1 1006.5,817.0 1007.0,816.0 1007.5,815.1 1008.0,814.3 1008.5,813.7 1009.0,813.2 1009.5,812.8 1010.0,812.5 1010.5,812.2 1011.0,812.1 1011.5,811.9 1012.0,811.8 1012.5,811.6 1013.0,811.5 1013.5,811.2 1014.0,810.9 1014.5,810.5 1015.0,810.0 1015.5,809.5 1016.0,808.9 1016.5,808.2 1017.0,807.4 1017.5,806.7 1018.0,805.9 1018.5,805.1 1019.0,804.3 1019.5,803.5 1020.0,802.7 1020.5,802.0 1021.0,801.4 1021.5,800.8 1022.0,800.2 1022.5,799.7 1023.0,799.2 1023.5,798.7 1024.0,798.3 1024.5,797.8 1025.0,797.3 1025.5,796.8 1026.0,796.3 1026.5,795.7 1027.0,795.1 1027.5,794.5 1028.0,793.8 1028.5,793.1 1029.0,792.4 1029.5,791.7 1030.0,791.0 1030.5,790.4 1031.0,789.8 1031.5,789.2 1032.0,788.8 1032.5,788.4 1033.0,788.0 1033.5,787.8 1034.0,787.6 1034.5,787.4 1035.0,787.3 1035.5,787.2 1036.0,787.0 1036.5,786.9 1037.0,786.7 1037.5,786.4 1038.0,786.0 1038.5,785.5 1039.0,784.9 1039.5,784.2 1040.0,783.4 1040.5,782.5 1041.0,781.5 1041.5,780.4 1042.0,779.3 1042.5,778.1 1043.0,777.0 1043.5,776.0 1044.0,775.0 1044.5,774.1 1045.0,773.4 1045.5,772.9 1046.0,772.5 1046.5,772.3 1047.0,772.3 1047.5,772.4 1048.0,772.7 1048.5,773.0 1049.0,773.5 1049.5,773.9 1050.0,774.4 1050.5,774.8 1051.0,775.1 1051.5,775.3 1052.0,775.2 1052.5,775.0 1053.0,774.6 1053.5,773.9 1054.0,773.0 1054.5,771.9 1055.0,770.7 1055.5,769.2 1056.0,767.7 1056.5,766.1 1057.0,764.5 1057.5,763.0 1058.0,761.5 1058.5,760.2 1059.0,759.2 1059.5,758.4 1060.0,757.8 1060.5,757.6 1061.0,757.6 1061.5,757.9 1062.0,758.4 1062.5,759.2 1063.0,760.1 1063.5,761.1 1064.0,762.2 1064.5,763.2 1065.0,764.1 1065.5,764.9 1066.0,765.5 1066.5,765.8 1067.0,765.8 1067.5,765.5 1068.0,764.8 1068.5,763.8 1069.0,762.5 1069.5,760.9 1070.0,759.1 1070.5,757.2 1071.0,755.2 1071.5,753.1 1072.0,751.2 1072.5,749.4 1073.0,747.8 1073.5,746.5 1074.0,745.5 1074.5,744.9 1075.0,744.7 1075.5,744.9 1076.0,745.4 1076.5,746.3 1077.0,747.5 1077.5,748.9 1078.0,750.5 1078.5,752.1 1079.0,753.7 1079.5,755.1 1080.0,756.4 1080.5,757.4 1081.0,758.0 1081.5,758.3 1082.0,758.1 1082.5,757.5 1083.0,756.5 1083.5,755.1 1084.0,753.3 1084.5,751.2 1085.0,749.0 1085.5,746.6 1086.0,744.2 1086.5,741.9 1087.0,739.7 1087.5,737.8 1088.0,736.3 1088.5,735.1 1089.0,734.4 1089.5,734.2 1090.0,734.5 1090.5,735.2 1091.0,736.3 1091.5,737.8 1092.0,739.6 1092.5,741.6 1093.0,743.7 1093.5,745.8 1094.0,747.7 1094.5,749.4 1095.0,750.8 1095.5,751.8 1096.0,752.4 1096.5,752.4 1097.0,752.0 1097.5,751.0 1098.0,749.6 1098.5,747.7 1099.0,745.4 1099.5,743.0 1100.0,740.3 1100.5,737.6 1101.0,735.0 1101.5,732.5 1102.0,730.3 1102.5,728.6 1103.0,727.2 1103.5,726.4 1104.0,726.1 1104.5,726.4 1105.0,727.2 1105.5,728.5 1106.0,730.2 1106.5,732.3 1107.0,734.6 1107.5,737.1 1108.0,739.5 1108.5,741.9 1109.0,744.0 1109.5,745.8 1110.0,747.1 1110.5,748.0 1111.0,748.3 1111.5,748.0 1112.0,747.2 1112.5,745.8 1113.0,743.9 1113.5,741.6 1114.0,739.0 1114.5,736.2 1115.0,733.3 1115.5,730.5 1116.0,727.8 1116.5,725.4 1117.0,723.4 1117.5,721.8 1118.0,720.9 1118.5,720.5 1119.0,720.7 1119.5,721.5 1120.0,722.9 1120.5,724.7 1121.0,726.9 1121.5,729.5 1122.0,732.2 1122.5,734.9 1123.0,737.6 1123.5,740.1 1124.0,742.2 1124.5,743.8 1125.0,745.0 1125.5,745.6 1126.0,745.5 1126.5,744.9 1127.0,743.7 1127.5,741.9 1128.0,739.6 1128.5,737.0 1129.0,734.1 1129.5,731.1 1130.0,728.2 1130.5,725.3 1131.0,722.7 1131.5,720.6 1132.0,718.9 1132.5,717.7 1133.0,717.2 1133.5,717.3 1134.0,718.0 1134.5,719.4 1135.0,721.2 1135.5,723.5 1136.0,726.1 1136.5,729.0 1137.0,731.9 1137.5,734.8 1138.0,737.5 1138.5,739.9 1139.0,741.8 1139.5,743.3 1140.0,744.1 1140.5,744.3 1141.0,743.9 1141.5,742.9 1142.0,741.3 1142.5,739.1 1143.0,736.6 1143.5,733.8 1144.0,730.8 1144.5,727.8 1145.0,724.9 1145.5,722.2 1146.0,719.9 1146.5,718.1 1147.0,716.8 1147.5,716.1 1148.0,716.0 1148.5,716.6 1149.0,717.9 1149.5,719.6 1150.0,721.9 1150.5,724.5 1151.0,727.4 1151.5,730.4 1152.0,733.4 1152.5,736.2 1153.0,738.8 1153.5,741.0 1154.0,742.6 1154.5,743.7 1155.0,744.2 1155.5,744.0 1156.0,743.2 1156.5,741.9 1157.0,739.9 1157.5,737.6 1158.0,734.9 1158.5,732.0 1159.0,729.1 1159.5,726.2 1160.0,723.5 1160.5,721.1 1161.0,719.1 1161.5,717.7 1162.0,716.9 1162.5,716.7 1163.0,717.1 1163.5,718.2 1164.0,719.8 1164.5,721.9 1165.0,724.4 1165.5,727.3 1166.0,730.2 1166.5,733.2 1167.0,736.1 1167.5,738.8 1168.0,741.1 1168.5,742.9 1169.0,744.3 1169.5,745.0 1170.0,745.1 1170.5,744.5 1171.0,743.4 1171.5,741.8 1172.0,739.6 1172.5,737.2 1173.0,734.5 1173.5,731.6 1174.0,728.8 1174.5,726.2 1175.0,723.8 1175.5,721.8 1176.0,720.3 1176.5,719.3 1177.0,718.9 1177.5,719.2 1178.0,720.0 1178.5,721.4 1179.0,723.4 1179.5,725.7 1180.0,728.4 1180.5,731.2 1181.0,734.1 1181.5,737.0 1182.0,739.7 1182.5,742.1 1183.0,744.1 1183.5,745.5 1184.0,746.5 1184.5,746.8 1185.0,746.5 1185.5,745.7 1186.0,744.3 1186.5,742.5 1187.0,740.3 1187.5,737.8 1188.0,735.2 1188.5,732.5 1189.0,729.9 1189.5,727.6 1190.0,725.6 1190.5,724.0 1191.0,722.9 1191.5,722.4 1192.0,722.4 1192.5,723.1 1193.0,724.3 1193.5,725.9 1194.0,728.1 1194.5,730.5 1195.0,733.2 1195.5,736.0 1196.0,738.7 1196.5,741.4 1197.0,743.8 1197.5,745.8 1198.0,747.4 1198.5,748.5 1199.0,749.1 1199.5,749.0 1200.0,748.5 1200.5,747.4 1201.0,745.9 1201.5,743.9 1202.0,741.7 1202.5,739.3 1203.0,736.8 1203.5,734.4 1204.0,732.2 1204.5,730.2 1205.0,728.6 1205.5,727.4 1206.0,726.7 1206.5,726.6 1207.0,727.0 1207.5,727.9 1208.0,729.4 1208.5,731.2 1209.0,733.4 1209.5,735.9 1210.0,738.4 1210.5,741.1 1211.0,743.6 1211.5,745.9 1212.0,748.0 1212.5,749.7 1213.0,750.9 1213.5,751.6 1214.0,751.8 1214.5,751.5 1215.0,750.7 1215.5,749.5 1216.0,747.8 1216.5,745.9 1217.0,743.8 1217.5,741.5 1218.0,739.3 1218.5,737.1 1219.0,735.2 1219.5,733.6 1220.0,732.4 1220.5,731.6 1221.0,731.3 1221.5,731.5 1222.0,732.2 1222.5,733.3 1223.0,734.9 1223.5,736.8 1224.0,739.0 1224.5,741.4 1225.0,743.8 1225.5,746.2 1226.0,748.4 1226.5,750.4 1227.0,752.1 1227.5,753.4 1228.0,754.3 1228.5,754.7 1229.0,754.7 1229.5,754.1 1230.0,753.1 1230.5,751.8 1231.0,750.1 1231.5,748.2 1232.0,746.2 1232.5,744.2 1233.0,742.2 1233.5,740.3 1234.0,738.7 1234.5,737.5 1235.0,736.6 1235.5,736.1 1236.0,736.1 1236.5,736.6 1237.0,737.5 1237.5,738.8 1238.0,740.4 1238.5,742.3 1239.0,744.5 1239.5,746.7 1240.0,748.9 1240.5,751.0 1241.0,753.0 1241.5,754.7 1242.0,756.0 1242.5,757.0 1243.0,757.6 1243.5,757.7 1244.0,757.4 1244.5,756.7 1245.0,755.6 1245.5,754.2 1246.0,752.5 1246.5,750.7 1247.0,748.8 1247.5,747.0 1248.0,745.2 1248.5,743.7 1249.0,742.4 1249.5,741.4 1250.0,740.9 1250.5,740.7 1251.0,740.9 1251.5,741.6 1252.0,742.6 1252.5,744.0 1253.0,745.6 1253.5,747.5 1254.0,749.5 1254.5,751.5 1255.0,753.5 1255.5,755.4 1256.0,757.0 1256.5,758.4 1257.0,759.5 1257.5,760.1 1258.0,760.4 1258.5,760.3 1259.0,759.8 1259.5,759.0 1260.0,757.8 1260.5,756.4 1261.0,754.8 1261.5,753.1 1262.0,751.4 1262.5,749.7 1263.0,748.2 1263.5,746.9 1264.0,745.9 1264.5,745.2 1265.0,744.9 1265.5,744.9 1266.0,745.3 1266.5,746.1 1267.0,747.2 1267.5,748.6 1268.0,750.3 1268.5,752.0 1269.0,753.9 1269.5,755.7 1270.0,757.5 1270.5,759.1 1271.0,760.5 1271.5,761.6 1272.0,762.4 1272.5,762.8 1273.0,762.9 1273.5,762.5 1274.0,761.9 1274.5,760.9 1275.0,759.7 1275.5,758.3 1276.0,756.8 1276.5,755.2 1277.0,753.6 1277.5,752.1 1278.0,750.8 1278.5,749.7 1279.0,748.9 1279.5,748.5 1280.0,748.3 1280.5,748.6 1281.0,749.1 1281.5,750.0 1282.0,751.2 1282.5,752.6 1283.0,754.1 1283.5,755.8 1284.0,757.5 1284.5,759.2 1285.0,760.7 1285.5,762.1 1286.0,763.3 1286.5,764.1 1287.0,764.6 1287.5,764.8 1288.0,764.7 1288.5,764.2 1289.0,763.5 1289.5,762.4 1290.0,761.2 1290.5,759.8 1291.0,758.3 1291.5,756.8 1292.0,755.3 1292.5,754.0 1293.0,752.9 1293.5,752.0 1294.0,751.3 1294.5,751.0 1295.0,751.1 1295.5,751.4 1296.0,752.1 1296.5,753.0 1297.0,754.2 1297.5,755.6 1298.0,757.2 1298.5,758.7 1299.0,760.3 1299.5,761.8 1300.0,763.2 1300.5,764.4 1301.0,765.3 1301.5,765.9 1302.0,766.2 1302.5,766.2 1303.0,765.9 1303.5,765.3 1304.0,764.4 1304.5,763.3 1305.0,762.0 1305.5,760.6 1306.0,759.1 1306.5,757.7 1307.0,756.3 1307.5,755.1 1308.0,754.1 1308.5,753.4 1309.0,752.9 1309.5,752.8 1310.0,752.9 1310.5,753.4 1311.0,754.2 1311.5,755.2 1312.0,756.4 1312.5,757.8 1313.0,759.3 1313.5,760.8 1314.0,762.2 1314.5,763.6 1315.0,764.8 1315.5,765.8 1316.0,766.5 1316.5,767.0 1317.0,767.1 1317.5,766.9 1318.0,766.4 1318.5,765.7 1319.0,764.7 1319.5,763.5 1320.0,762.1 1320.5,760.7 1321.0,759.3 1321.5,757.9 1322.0,756.6 1322.5,755.5 1323.0,754.6 1323.5,754.0 1324.0,753.6 1324.5,753.6 1325.0,753.9 1325.5,754.5 1326.0,755.3 1326.5,756.4 1327.0,757.6 1327.5,759.0 1328.0,760.5 1328.5,761.9 1329.0,763.3 1329.5,764.6 1330.0,765.6 1330.5,766.5 1331.0,767.0 1331.5,767.3 1332.0,767.2 1332.5,766.9 1333.0,766.3 1333.5,765.4 1334.0,764.2 1334.5,762.9 1335.0,761.5 1335.5,760.1 1336.0,758.6 1336.5,757.2 1337.0,756.0 1337.5,755.0 1338.0,754.2 1338.5,753.7 1339.0,753.4 1339.5,753.5 1340.0,753.9 1340.5,754.6 1341.0,755.5 1341.5,756.7 1342.0,758.0 1342.5,759.4 1343.0,760.9 1343.5,762.3 1344.0,763.6 1344.5,764.8 1345.0,765.7 1345.5,766.4 1346.0,766.8 1346.5,766.9 1347.0,766.7 1347.5,766.2 1348.0,765.4 1348.5,764.3 1349.0,763.1 1349.5,761.6 1350.0,760.1 1350.5,758.6 1351.0,757.1 1351.5,755.8 1352.0,754.6 1352.5,753.6 1353.0,752.9 1353.5,752.5 1354.0,752.4 1354.5,752.6 1355.0,753.1 1355.5,753.9 1356.0,755.0 1356.5,756.2 1357.0,757.6 1357.5,759.1 1358.0,760.5 1358.5,761.9 1359.0,763.2 1359.5,764.3 1360.0,765.1 1360.5,765.7 1361.0,766.0 1361.5,765.9 1362.0,765.5 1362.5,764.8 1363.0,763.8 1363.5,762.6 1364.0,761.2 1364.5,759.6 1365.0,758.0 1365.5,756.5 1366.0,754.9 1366.5,753.6 1367.0,752.4 1367.5,751.5 1368.0,750.8 1368.5,750.5 1369.0,750.6 1369.5,750.9 1370.0,751.6 1370.5,752.5 1371.0,753.7 1371.5,755.1 1372.0,756.5 1372.5,758.1 1373.0,759.6 1373.5,761.0 1374.0,762.2 1374.5,763.2 1375.0,764.0 1375.5,764.4 1376.0,764.5 1376.5,764.3 1377.0,763.7 1377.5,762.8 1378.0,761.7 1378.5,760.3 1379.0,758.7 1379.5,757.0 1380.0,755.3 1380.5,753.6 1381.0,752.0 1381.5,750.7 1382.0,749.5 1382.5,748.7 1383.0,748.1 1383.5,747.9 1384.0,748.1 1384.5,748.6 1385.0,749.4 1385.5,750.6 1386.0,751.9 1386.5,753.4 1387.0,755.0 1387.5,756.6 1388.0,758.1 1388.5,759.6 1389.0,760.8 1389.5,761.7 1390.0,762.4 1390.5,762.7 1391.0,762.6 1391.5,762.2 1392.0,761.4 1392.5,760.3 1393.0,759.0 1393.5,757.4 1394.0,755.6 1394.5,753.8 1395.0,751.9 1395.5,750.2 1396.0,748.6 1396.5,747.2 1397.0,746.1 1397.5,745.3 1398.0,744.9 1398.5,744.8 1399.0,745.2 1399.5,745.9 1400.0,746.9 1400.5,748.2 1401.0,749.7 1401.5,751.3 1402.0,753.1 1402.5,754.8 1403.0,756.4 1403.5,757.8 1404.0,759.0 1404.5,759.9 1405.0,760.4 1405.5,760.6 1406.0,760.4 1406.5,759.7 1407.0,758.7 1407.5,757.4 1408.0,755.8 1408.5,754.0 1409.0,752.1 1409.5,750.1 1410.0,748.1 1410.5,746.3 1411.0,744.6 1411.5,743.3 1412.0,742.2 1412.5,741.5 1413.0,741.3 1413.5,741.4 1414.0,741.9 1414.5,742.8 1415.0,744.0 1415.5,745.5 1416.0,747.2 1416.5,749.1 1417.0,750.9 1417.5,752.7 1418.0,754.4 1418.5,755.8 1419.0,757.0 1419.5,757.8 1420.0,758.2 1420.5,758.2 1421.0,757.8 1421.5,756.9 1422.0,755.7 1422.5,754.2 1423.0,752.3 1423.5,750.3 1424.0,748.2 1424.5,746.1 1425.0,744.0 1425.5,742.1 1426.0,740.4 1426.5,739.1 1427.0,738.1 1427.5,737.5 1428.0,737.4 1428.5,737.7 1429.0,738.5 1429.5,739.6 1430.0,741.1 1430.5,742.8 1431.0,744.7 1431.5,746.7 1432.0,748.7 1432.5,750.6 1433.0,752.3 1433.5,753.7 1434.0,754.8 1434.5,755.6 1435.0,755.8 1435.5,755.6 1436.0,755.0 1436.5,753.9 1437.0,752.5 1437.5,750.7 1438.0,748.6 1438.5,746.4 1439.0,744.1 1439.5,741.8 1440.0,739.6 1440.5,737.7 1441.0,736.0 1441.5,734.7 1442.0,733.9 1442.5,733.4 1443.0,733.5 1443.5,734.0 1444.0,735.0 1444.5,736.4 1445.0,738.1 1445.5,740.0 1446.0,742.1" fill="none" stroke="#37AD6B" stroke-width="5" stroke-linejoin="round" stroke-linecap="butt"/>
</g>
<g font-size="42.8">
<text x="201.0" y="1090" text-anchor="middle">1.535</text>
<text x="408.5" y="1090" text-anchor="middle">1.540</text>
<text x="616.0" y="1090" text-anchor="middle">1.545</text>
<text x="823.5" y="1090" text-anchor="middle">1.550</text>
<text x="1031.0" y="1090" text-anchor="middle">1.555</text>
<text x="1238.5" y="1090" text-anchor="middle">1.560</text>
<text x="1446.0" y="1090" text-anchor="middle">1.565</text>
<text x="179.3" y="1003.7" text-anchor="end">0.0</text>
<text x="179.3" y="829.1" text-anchor="end">0.2</text>
<text x="179.3" y="654.5" text-anchor="end">0.4</text>
<text x="179.3" y="479.9" text-anchor="end">0.6</text>
<text x="179.3" y="305.2" text-anchor="end">0.8</text>
<text x="179.3" y="130.6" text-anchor="end">1.0</text>
</g>
<g>
<line x1="632.4" y1="66.3" x2="737.6" y2="66.3" stroke="#515151" stroke-width="5" stroke-linecap="round"/>
<text x="760.8" y="82.1" font-size="47.5"><tspan font-style="italic">R</tspan><tspan font-size="29.9" dy="11.4">2</tspan><tspan dy="-11.4"> = </tspan><tspan font-style="italic">R</tspan><tspan font-size="29.9" dy="11.4">4</tspan><tspan dy="-11.4"> = 0.01</tspan></text>
<line x1="632.4" y1="135.0" x2="737.6" y2="135.0" stroke="#F14040" stroke-width="5" stroke-linecap="round"/>
<text x="760.8" y="150.8" font-size="47.5"><tspan font-style="italic">R</tspan><tspan font-size="29.9" dy="11.4">2</tspan><tspan dy="-11.4"> = </tspan><tspan font-style="italic">R</tspan><tspan font-size="29.9" dy="11.4">4</tspan><tspan dy="-11.4"> = 0.3</tspan></text>
<line x1="632.4" y1="203.7" x2="737.6" y2="203.7" stroke="#1A6FDF" stroke-width="5" stroke-linecap="round"/>
<text x="760.8" y="219.5" font-size="47.5"><tspan font-style="italic">R</tspan><tspan font-size="29.9" dy="11.4">2</tspan><tspan dy="-11.4"> = </tspan><tspan font-style="italic">R</tspan><tspan font-size="29.9" dy="11.4">4</tspan><tspan dy="-11.4"> = 0.5</tspan></text>
<line x1="632.4" y1="272.5" x2="737.6" y2="272.5" stroke="#37AD6B" stroke-width="5" stroke-linecap="round"/>
<text x="760.8" y="288.3" font-size="47.5"><tspan font-style="italic">R</tspan><tspan font-size="29.9" dy="11.4">2</tspan><tspan dy="-11.4"> = </tspan><tspan font-style="italic">R</tspan><tspan font-size="29.9" dy="11.4">4</tspan><tspan dy="-11.4"> = 0.7</tspan></text>
</g>
<text x="824.0" y="1177.2" font-size="52" text-anchor="middle">Wavelength (µm)</text>
<text transform="translate(67.4,513.5) rotate(-90)" font-size="52.6" text-anchor="middle">Normalized Intensity</text>
</svg>
</body></html>
